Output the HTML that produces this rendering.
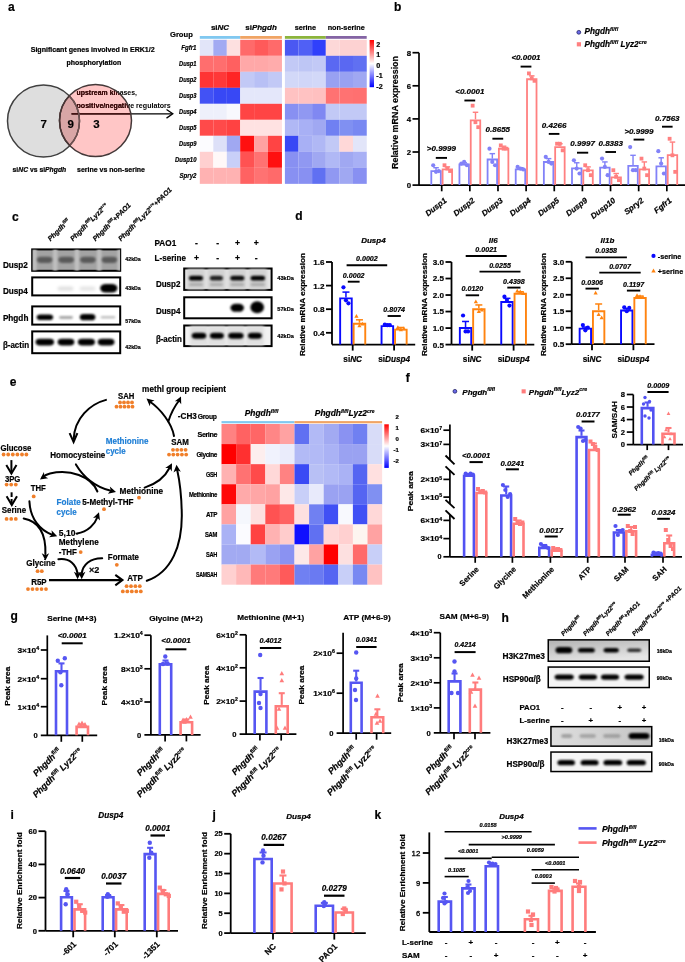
<!DOCTYPE html>
<html><head><meta charset="utf-8"><style>
html,body{margin:0;padding:0;background:#fff;}
svg{display:block;font-family:"Liberation Sans", sans-serif;filter:blur(0.35px);}

</style></head><body>
<svg width="685" height="962" viewBox="0 0 685 962">
<rect width="685" height="962" fill="#fff"/>
<defs><filter id="bl3" x="-50%" y="-50%" width="200%" height="200%"><feGaussianBlur stdDeviation="0.3"/></filter><filter id="bl4" x="-50%" y="-50%" width="200%" height="200%"><feGaussianBlur stdDeviation="0.4"/></filter><filter id="bl5" x="-50%" y="-50%" width="200%" height="200%"><feGaussianBlur stdDeviation="0.5"/></filter><filter id="bl6" x="-50%" y="-50%" width="200%" height="200%"><feGaussianBlur stdDeviation="0.6"/></filter><filter id="bl7" x="-50%" y="-50%" width="200%" height="200%"><feGaussianBlur stdDeviation="0.7"/></filter><filter id="bl8" x="-50%" y="-50%" width="200%" height="200%"><feGaussianBlur stdDeviation="0.8"/></filter><filter id="bl9" x="-50%" y="-50%" width="200%" height="200%"><feGaussianBlur stdDeviation="0.9"/></filter><filter id="bl10" x="-50%" y="-50%" width="200%" height="200%"><feGaussianBlur stdDeviation="1.0"/></filter><filter id="bl11" x="-50%" y="-50%" width="200%" height="200%"><feGaussianBlur stdDeviation="1.1"/></filter><filter id="bl12" x="-50%" y="-50%" width="200%" height="200%"><feGaussianBlur stdDeviation="1.2"/></filter><filter id="bl13" x="-50%" y="-50%" width="200%" height="200%"><feGaussianBlur stdDeviation="1.3"/></filter><filter id="bl14" x="-50%" y="-50%" width="200%" height="200%"><feGaussianBlur stdDeviation="1.4"/></filter><filter id="bl15" x="-50%" y="-50%" width="200%" height="200%"><feGaussianBlur stdDeviation="1.5"/></filter><filter id="bl16" x="-50%" y="-50%" width="200%" height="200%"><feGaussianBlur stdDeviation="1.6"/></filter><filter id="bl17" x="-50%" y="-50%" width="200%" height="200%"><feGaussianBlur stdDeviation="1.7"/></filter><filter id="bl18" x="-50%" y="-50%" width="200%" height="200%"><feGaussianBlur stdDeviation="1.8"/></filter><filter id="bl19" x="-50%" y="-50%" width="200%" height="200%"><feGaussianBlur stdDeviation="1.9"/></filter><filter id="bl20" x="-50%" y="-50%" width="200%" height="200%"><feGaussianBlur stdDeviation="2.0"/></filter><filter id="bl21" x="-50%" y="-50%" width="200%" height="200%"><feGaussianBlur stdDeviation="2.1"/></filter><filter id="bl22" x="-50%" y="-50%" width="200%" height="200%"><feGaussianBlur stdDeviation="2.2"/></filter><filter id="bl23" x="-50%" y="-50%" width="200%" height="200%"><feGaussianBlur stdDeviation="2.3"/></filter><filter id="bl24" x="-50%" y="-50%" width="200%" height="200%"><feGaussianBlur stdDeviation="2.4"/></filter><filter id="bl25" x="-50%" y="-50%" width="200%" height="200%"><feGaussianBlur stdDeviation="2.5"/></filter><filter id="bl26" x="-50%" y="-50%" width="200%" height="200%"><feGaussianBlur stdDeviation="2.6"/></filter><filter id="bl27" x="-50%" y="-50%" width="200%" height="200%"><feGaussianBlur stdDeviation="2.7"/></filter><filter id="bl28" x="-50%" y="-50%" width="200%" height="200%"><feGaussianBlur stdDeviation="2.8"/></filter><filter id="bl29" x="-50%" y="-50%" width="200%" height="200%"><feGaussianBlur stdDeviation="2.9"/></filter><filter id="bl30" x="-50%" y="-50%" width="200%" height="200%"><feGaussianBlur stdDeviation="3.0"/></filter><filter id="bl31" x="-50%" y="-50%" width="200%" height="200%"><feGaussianBlur stdDeviation="3.1"/></filter><filter id="bl32" x="-50%" y="-50%" width="200%" height="200%"><feGaussianBlur stdDeviation="3.2"/></filter><filter id="bl33" x="-50%" y="-50%" width="200%" height="200%"><feGaussianBlur stdDeviation="3.3"/></filter><filter id="bl34" x="-50%" y="-50%" width="200%" height="200%"><feGaussianBlur stdDeviation="3.4"/></filter><filter id="bl35" x="-50%" y="-50%" width="200%" height="200%"><feGaussianBlur stdDeviation="3.5"/></filter><filter id="bl36" x="-50%" y="-50%" width="200%" height="200%"><feGaussianBlur stdDeviation="3.6"/></filter><filter id="bl37" x="-50%" y="-50%" width="200%" height="200%"><feGaussianBlur stdDeviation="3.7"/></filter><filter id="bl38" x="-50%" y="-50%" width="200%" height="200%"><feGaussianBlur stdDeviation="3.8"/></filter><filter id="bl39" x="-50%" y="-50%" width="200%" height="200%"><feGaussianBlur stdDeviation="3.9"/></filter></defs>
<text x="8.00" y="11.00" font-size="12" font-weight="bold" text-anchor="start" fill="#000" stroke="#000" stroke-width="0.2">a</text>
<text x="92.70" y="52.00" font-size="6.6" font-weight="bold" text-anchor="middle" fill="#000" textLength="124.00" lengthAdjust="spacingAndGlyphs" stroke="#000" stroke-width="0.2">Significant genes involved in ERK1/2</text>
<text x="93.90" y="65.20" font-size="6.6" font-weight="bold" text-anchor="middle" fill="#000" textLength="54.60" lengthAdjust="spacingAndGlyphs" stroke="#000" stroke-width="0.2">phosphorylation</text>
<defs><clipPath id="vL"><circle cx="43.5" cy="121" r="36"/></clipPath><clipPath id="vR"><circle cx="95.5" cy="120.5" r="36"/></clipPath></defs>
<circle cx="43.50" cy="121.00" r="36.00" fill="#dedede"/>
<circle cx="95.50" cy="120.50" r="36.00" fill="#ffc6c6"/>
<circle cx="95.50" cy="120.50" r="36.00" fill="#d9a6a6" clip-path="url(#vL)"/>
<line x1="71.50" y1="113.80" x2="172.00" y2="113.80" stroke="#000" stroke-width="1.3" stroke-linecap="butt"/>
<path d="M166.5 109.5 L172.8 113.8 L166.5 118.1" fill="none" stroke="#000" stroke-width="1.3"/>
<text x="76.50" y="95.20" font-size="6.6" font-weight="bold" text-anchor="start" fill="#000" textLength="60.50" lengthAdjust="spacingAndGlyphs" stroke="none">upstream kinases,</text>
<text x="76.50" y="108.00" font-size="6.6" font-weight="bold" text-anchor="start" fill="#000" textLength="94.30" lengthAdjust="spacingAndGlyphs" stroke="none">positive/negative regulators</text>
<g clip-path="url(#vR)">
<line x1="71.50" y1="113.80" x2="172.00" y2="113.80" stroke="#4a0c0c" stroke-width="1.3" stroke-linecap="butt"/>
<path d="M166.5 109.5 L172.8 113.8 L166.5 118.1" fill="none" stroke="#4a0c0c" stroke-width="1.3"/>
<text x="76.50" y="95.20" font-size="6.6" font-weight="bold" text-anchor="start" fill="#4a0c0c" textLength="60.50" lengthAdjust="spacingAndGlyphs" stroke="none">upstream kinases,</text>
<text x="76.50" y="108.00" font-size="6.6" font-weight="bold" text-anchor="start" fill="#4a0c0c" textLength="94.30" lengthAdjust="spacingAndGlyphs" stroke="none">positive/negative regulators</text>
</g>
<circle cx="43.50" cy="121.00" r="36.00" fill="none" stroke="#404040" stroke-width="1.5"/>
<g clip-path="url(#vL)">
<circle cx="95.50" cy="120.50" r="36.00" fill="none" stroke="#501818" stroke-width="1.5"/>
</g>
<g clip-path="url(#vR)">
<circle cx="43.50" cy="121.00" r="36.00" fill="none" stroke="#705050" stroke-width="1.5"/>
</g>
<circle cx="95.50" cy="120.50" r="36.00" fill="none" stroke="#443838" stroke-width="1.5"/>
<text x="43.80" y="128.00" font-size="11.5" font-weight="bold" text-anchor="middle" fill="#000" stroke="#000" stroke-width="0.2">7</text>
<text x="70.70" y="128.00" font-size="11.5" font-weight="bold" text-anchor="middle" fill="#000" stroke="#000" stroke-width="0.2">9</text>
<text x="96.40" y="128.00" font-size="11.5" font-weight="bold" text-anchor="middle" fill="#000" stroke="#000" stroke-width="0.2">3</text>
<text x="39.4" y="171.8" font-size="6.8" font-weight="bold" text-anchor="middle" stroke="#000" stroke-width="0.2">si<tspan font-style="italic">NC</tspan> vs si<tspan font-style="italic">Phgdh</tspan></text>
<text x="111.00" y="171.80" font-size="6.8" font-weight="bold" text-anchor="middle" fill="#000" textLength="68.00" lengthAdjust="spacingAndGlyphs" stroke="#000" stroke-width="0.2">serine vs non-serine</text>
<rect x="199.80" y="39.80" width="13.55" height="16.05" fill="#e2e5f9"/>
<rect x="213.30" y="39.80" width="13.55" height="16.05" fill="#a2aaf2"/>
<rect x="226.80" y="39.80" width="13.45" height="16.05" fill="#fde0e0"/>
<rect x="240.20" y="39.80" width="13.95" height="16.05" fill="#ff6a6a"/>
<rect x="254.10" y="39.80" width="13.95" height="16.05" fill="#ff5a5a"/>
<rect x="268.00" y="39.80" width="13.95" height="16.05" fill="#ff6a6a"/>
<rect x="284.90" y="39.80" width="13.65" height="16.05" fill="#4a58f2"/>
<rect x="298.50" y="39.80" width="13.65" height="16.05" fill="#5060f5"/>
<rect x="312.10" y="39.80" width="13.75" height="16.05" fill="#3040fb"/>
<rect x="325.80" y="39.80" width="13.65" height="16.05" fill="#fdd8d8"/>
<rect x="339.40" y="39.80" width="13.65" height="16.05" fill="#fdd2d2"/>
<rect x="353.00" y="39.80" width="13.75" height="16.05" fill="#fdd2d2"/>
<rect x="199.80" y="55.80" width="13.55" height="16.05" fill="#ff6e6e"/>
<rect x="213.30" y="55.80" width="13.55" height="16.05" fill="#ff6e6e"/>
<rect x="226.80" y="55.80" width="13.45" height="16.05" fill="#ff6060"/>
<rect x="240.20" y="55.80" width="13.95" height="16.05" fill="#ffa8a8"/>
<rect x="254.10" y="55.80" width="13.95" height="16.05" fill="#ffa8a8"/>
<rect x="268.00" y="55.80" width="13.95" height="16.05" fill="#ffacac"/>
<rect x="284.90" y="55.80" width="13.65" height="16.05" fill="#c2c9f6"/>
<rect x="298.50" y="55.80" width="13.65" height="16.05" fill="#bec6f5"/>
<rect x="312.10" y="55.80" width="13.75" height="16.05" fill="#c2c9f6"/>
<rect x="325.80" y="55.80" width="13.65" height="16.05" fill="#5a68f2"/>
<rect x="339.40" y="55.80" width="13.65" height="16.05" fill="#5a68f2"/>
<rect x="353.00" y="55.80" width="13.75" height="16.05" fill="#6070f2"/>
<rect x="199.80" y="71.80" width="13.55" height="16.05" fill="#ff3434"/>
<rect x="213.30" y="71.80" width="13.55" height="16.05" fill="#ff3838"/>
<rect x="226.80" y="71.80" width="13.45" height="16.05" fill="#ff2424"/>
<rect x="240.20" y="71.80" width="13.95" height="16.05" fill="#c2c9f6"/>
<rect x="254.10" y="71.80" width="13.95" height="16.05" fill="#b8c0f5"/>
<rect x="268.00" y="71.80" width="13.95" height="16.05" fill="#c2c9f6"/>
<rect x="284.90" y="71.80" width="13.65" height="16.05" fill="#d2d8f8"/>
<rect x="298.50" y="71.80" width="13.65" height="16.05" fill="#d0d6f8"/>
<rect x="312.10" y="71.80" width="13.75" height="16.05" fill="#d2d8f8"/>
<rect x="325.80" y="71.80" width="13.65" height="16.05" fill="#98a1f2"/>
<rect x="339.40" y="71.80" width="13.65" height="16.05" fill="#98a1f2"/>
<rect x="353.00" y="71.80" width="13.75" height="16.05" fill="#a0a8f2"/>
<rect x="199.80" y="87.80" width="13.55" height="16.05" fill="#4252f5"/>
<rect x="213.30" y="87.80" width="13.55" height="16.05" fill="#3848f5"/>
<rect x="226.80" y="87.80" width="13.45" height="16.05" fill="#3848f5"/>
<rect x="240.20" y="87.80" width="13.95" height="16.05" fill="#e4e7fa"/>
<rect x="254.10" y="87.80" width="13.95" height="16.05" fill="#e4e7fa"/>
<rect x="268.00" y="87.80" width="13.95" height="16.05" fill="#e4e7fa"/>
<rect x="284.90" y="87.80" width="13.65" height="16.05" fill="#ffc2c2"/>
<rect x="298.50" y="87.80" width="13.65" height="16.05" fill="#ffc2c2"/>
<rect x="312.10" y="87.80" width="13.75" height="16.05" fill="#ffc0c0"/>
<rect x="325.80" y="87.80" width="13.65" height="16.05" fill="#ff7272"/>
<rect x="339.40" y="87.80" width="13.65" height="16.05" fill="#ff7272"/>
<rect x="353.00" y="87.80" width="13.75" height="16.05" fill="#ff7070"/>
<rect x="199.80" y="103.80" width="13.55" height="16.05" fill="#eef0fb"/>
<rect x="213.30" y="103.80" width="13.55" height="16.05" fill="#eef0fb"/>
<rect x="226.80" y="103.80" width="13.45" height="16.05" fill="#f8f8fd"/>
<rect x="240.20" y="103.80" width="13.95" height="16.05" fill="#ff4444"/>
<rect x="254.10" y="103.80" width="13.95" height="16.05" fill="#ff4444"/>
<rect x="268.00" y="103.80" width="13.95" height="16.05" fill="#ff4444"/>
<rect x="284.90" y="103.80" width="13.65" height="16.05" fill="#8890f2"/>
<rect x="298.50" y="103.80" width="13.65" height="16.05" fill="#9098f2"/>
<rect x="312.10" y="103.80" width="13.75" height="16.05" fill="#8088f2"/>
<rect x="325.80" y="103.80" width="13.65" height="16.05" fill="#c2c9f6"/>
<rect x="339.40" y="103.80" width="13.65" height="16.05" fill="#c2c9f6"/>
<rect x="353.00" y="103.80" width="13.75" height="16.05" fill="#c2c9f6"/>
<rect x="199.80" y="119.80" width="13.55" height="16.05" fill="#ff4a4a"/>
<rect x="213.30" y="119.80" width="13.55" height="16.05" fill="#ff4a4a"/>
<rect x="226.80" y="119.80" width="13.45" height="16.05" fill="#ff4242"/>
<rect x="240.20" y="119.80" width="13.95" height="16.05" fill="#ffe2e2"/>
<rect x="254.10" y="119.80" width="13.95" height="16.05" fill="#ffe2e2"/>
<rect x="268.00" y="119.80" width="13.95" height="16.05" fill="#ffe2e2"/>
<rect x="284.90" y="119.80" width="13.65" height="16.05" fill="#b0b8f5"/>
<rect x="298.50" y="119.80" width="13.65" height="16.05" fill="#a8b0f5"/>
<rect x="312.10" y="119.80" width="13.75" height="16.05" fill="#a0a8f2"/>
<rect x="325.80" y="119.80" width="13.65" height="16.05" fill="#7080f2"/>
<rect x="339.40" y="119.80" width="13.65" height="16.05" fill="#8090f2"/>
<rect x="353.00" y="119.80" width="13.75" height="16.05" fill="#7888f2"/>
<rect x="199.80" y="135.80" width="13.55" height="16.05" fill="#fcfcff"/>
<rect x="213.30" y="135.80" width="13.55" height="16.05" fill="#dde0f8"/>
<rect x="226.80" y="135.80" width="13.45" height="16.05" fill="#a0a8f2"/>
<rect x="240.20" y="135.80" width="13.95" height="16.05" fill="#ff1010"/>
<rect x="254.10" y="135.80" width="13.95" height="16.05" fill="#ffa2a2"/>
<rect x="268.00" y="135.80" width="13.95" height="16.05" fill="#ff4444"/>
<rect x="284.90" y="135.80" width="13.65" height="16.05" fill="#3848f5"/>
<rect x="298.50" y="135.80" width="13.65" height="16.05" fill="#a8b0f5"/>
<rect x="312.10" y="135.80" width="13.75" height="16.05" fill="#b0b8f5"/>
<rect x="325.80" y="135.80" width="13.65" height="16.05" fill="#c2c9f6"/>
<rect x="339.40" y="135.80" width="13.65" height="16.05" fill="#ffd8d8"/>
<rect x="353.00" y="135.80" width="13.75" height="16.05" fill="#e2e5f9"/>
<rect x="199.80" y="151.80" width="13.55" height="16.05" fill="#ffd0d0"/>
<rect x="213.30" y="151.80" width="13.55" height="16.05" fill="#fff8f8"/>
<rect x="226.80" y="151.80" width="13.45" height="16.05" fill="#c8cff8"/>
<rect x="240.20" y="151.80" width="13.95" height="16.05" fill="#ff5252"/>
<rect x="254.10" y="151.80" width="13.95" height="16.05" fill="#ff7272"/>
<rect x="268.00" y="151.80" width="13.95" height="16.05" fill="#ff1010"/>
<rect x="284.90" y="151.80" width="13.65" height="16.05" fill="#8890f2"/>
<rect x="298.50" y="151.80" width="13.65" height="16.05" fill="#9098f2"/>
<rect x="312.10" y="151.80" width="13.75" height="16.05" fill="#a0a8f2"/>
<rect x="325.80" y="151.80" width="13.65" height="16.05" fill="#b0b8f5"/>
<rect x="339.40" y="151.80" width="13.65" height="16.05" fill="#a0a8f2"/>
<rect x="353.00" y="151.80" width="13.75" height="16.05" fill="#a8b0f5"/>
<rect x="199.80" y="167.80" width="13.55" height="16.05" fill="#ffb2b2"/>
<rect x="213.30" y="167.80" width="13.55" height="16.05" fill="#ffb2b2"/>
<rect x="226.80" y="167.80" width="13.45" height="16.05" fill="#ffb2b2"/>
<rect x="240.20" y="167.80" width="13.95" height="16.05" fill="#ff6262"/>
<rect x="254.10" y="167.80" width="13.95" height="16.05" fill="#ff7272"/>
<rect x="268.00" y="167.80" width="13.95" height="16.05" fill="#ff6a6a"/>
<rect x="284.90" y="167.80" width="13.65" height="16.05" fill="#8890f2"/>
<rect x="298.50" y="167.80" width="13.65" height="16.05" fill="#8890f2"/>
<rect x="312.10" y="167.80" width="13.75" height="16.05" fill="#6070f2"/>
<rect x="325.80" y="167.80" width="13.65" height="16.05" fill="#9098f2"/>
<rect x="339.40" y="167.80" width="13.65" height="16.05" fill="#a0a8f2"/>
<rect x="353.00" y="167.80" width="13.75" height="16.05" fill="#8890f2"/>
<rect x="199.80" y="36.00" width="40.40" height="2.80" fill="#80c8f0"/>
<rect x="240.20" y="36.00" width="41.70" height="2.80" fill="#f0a464"/>
<rect x="284.90" y="36.00" width="40.90" height="2.80" fill="#8cb43c"/>
<rect x="325.80" y="36.00" width="40.90" height="2.80" fill="#8464a4"/>
<text x="220" y="29.5" font-size="8" font-weight="bold" text-anchor="middle" stroke="#000" stroke-width="0.2">si<tspan font-style="italic">NC</tspan></text>
<text x="261" y="29.5" font-size="8" font-weight="bold" text-anchor="middle" stroke="#000" stroke-width="0.2">si<tspan font-style="italic">Phgdh</tspan></text>
<text x="305.40" y="30.30" font-size="7.6" font-weight="bold" text-anchor="middle" fill="#000" textLength="21.50" lengthAdjust="spacingAndGlyphs" stroke="#000" stroke-width="0.2">serine</text>
<text x="346.20" y="29.60" font-size="7.6" font-weight="bold" text-anchor="middle" fill="#000" textLength="37.00" lengthAdjust="spacingAndGlyphs" stroke="#000" stroke-width="0.2">non-serine</text>
<text x="170.00" y="37.20" font-size="7.6" font-weight="bold" text-anchor="start" fill="#000" stroke="#000" stroke-width="0.2">Group</text>
<text x="196.50" y="50.20" font-size="6.8" font-weight="bold" font-style="italic" text-anchor="end" fill="#000" textLength="15.20" lengthAdjust="spacingAndGlyphs" stroke="#000" stroke-width="0.2">Fgfr1</text>
<text x="196.50" y="66.20" font-size="6.8" font-weight="bold" font-style="italic" text-anchor="end" fill="#000" textLength="17.50" lengthAdjust="spacingAndGlyphs" stroke="#000" stroke-width="0.2">Dusp1</text>
<text x="196.50" y="82.20" font-size="6.8" font-weight="bold" font-style="italic" text-anchor="end" fill="#000" textLength="17.50" lengthAdjust="spacingAndGlyphs" stroke="#000" stroke-width="0.2">Dusp2</text>
<text x="196.50" y="98.20" font-size="6.8" font-weight="bold" font-style="italic" text-anchor="end" fill="#000" textLength="17.50" lengthAdjust="spacingAndGlyphs" stroke="#000" stroke-width="0.2">Dusp3</text>
<text x="196.50" y="114.20" font-size="6.8" font-weight="bold" font-style="italic" text-anchor="end" fill="#000" textLength="17.50" lengthAdjust="spacingAndGlyphs" stroke="#000" stroke-width="0.2">Dusp4</text>
<text x="196.50" y="130.20" font-size="6.8" font-weight="bold" font-style="italic" text-anchor="end" fill="#000" textLength="17.50" lengthAdjust="spacingAndGlyphs" stroke="#000" stroke-width="0.2">Dusp5</text>
<text x="196.50" y="146.20" font-size="6.8" font-weight="bold" font-style="italic" text-anchor="end" fill="#000" textLength="17.50" lengthAdjust="spacingAndGlyphs" stroke="#000" stroke-width="0.2">Dusp9</text>
<text x="196.50" y="162.20" font-size="6.8" font-weight="bold" font-style="italic" text-anchor="end" fill="#000" textLength="21.50" lengthAdjust="spacingAndGlyphs" stroke="#000" stroke-width="0.2">Dusp10</text>
<text x="196.50" y="178.20" font-size="6.8" font-weight="bold" font-style="italic" text-anchor="end" fill="#000" textLength="17.00" lengthAdjust="spacingAndGlyphs" stroke="#000" stroke-width="0.2">Spry2</text>
<defs><linearGradient id="cbA" x1="0" y1="0" x2="0" y2="1"><stop offset="0" stop-color="#ff0000"/><stop offset="0.5" stop-color="#ffffff"/><stop offset="1" stop-color="#0000ff"/></linearGradient></defs>
<rect x="369.60" y="40.00" width="4.40" height="47.20" fill="url(#cbA)"/>
<text x="376.30" y="46.60" font-size="7.2" font-weight="bold" text-anchor="start" fill="#000" stroke="#000" stroke-width="0.2">2</text>
<text x="376.30" y="57.40" font-size="7.2" font-weight="bold" text-anchor="start" fill="#000" stroke="#000" stroke-width="0.2">1</text>
<text x="376.30" y="67.90" font-size="7.2" font-weight="bold" text-anchor="start" fill="#000" stroke="#000" stroke-width="0.2">0</text>
<text x="376.30" y="78.40" font-size="7.2" font-weight="bold" text-anchor="start" fill="#000" stroke="#000" stroke-width="0.2">-1</text>
<text x="376.30" y="88.90" font-size="7.2" font-weight="bold" text-anchor="start" fill="#000" stroke="#000" stroke-width="0.2">-2</text>
<text x="394.00" y="10.50" font-size="12" font-weight="bold" text-anchor="start" fill="#000" stroke="#000" stroke-width="0.2">b</text>
<circle cx="578.80" cy="32.30" r="1.90" fill="#6a6ae8" stroke="#222266" stroke-width="0.8"/>
<text x="584.6" y="34.4" font-size="8.2" font-weight="bold" font-style="italic" stroke="#000" stroke-width="0.2">Phgdh<tspan font-size="5.4" dy="-3.3">fl/fl</tspan></text>
<rect x="576.80" y="42.20" width="4.20" height="4.20" fill="#ff8080"/>
<text x="584.6" y="46.8" font-size="8.2" font-weight="bold" font-style="italic" stroke="#000" stroke-width="0.2">Phgdh<tspan font-size="5.4" dy="-3.3">fl/fl</tspan><tspan dy="3.3"> Lyz2</tspan><tspan font-size="5.4" dy="-3.3">cre</tspan></text>
<text x="398.30" y="112.50" font-size="8.2" font-weight="bold" text-anchor="middle" fill="#000" transform="rotate(-90 398.30 112.50)" textLength="113.00" lengthAdjust="spacingAndGlyphs" stroke="#000" stroke-width="0.2">Relative mRNA expression</text>
<line x1="419.00" y1="52.70" x2="419.00" y2="185.10" stroke="#000" stroke-width="1.7" stroke-linecap="butt"/>
<line x1="412.50" y1="185.10" x2="419.00" y2="185.10" stroke="#000" stroke-width="1.7" stroke-linecap="butt"/>
<text x="411.00" y="187.91" font-size="7.8" font-weight="bold" text-anchor="end" fill="#000" stroke="#000" stroke-width="0.2">0</text>
<line x1="412.50" y1="152.00" x2="419.00" y2="152.00" stroke="#000" stroke-width="1.7" stroke-linecap="butt"/>
<text x="411.00" y="154.81" font-size="7.8" font-weight="bold" text-anchor="end" fill="#000" stroke="#000" stroke-width="0.2">2</text>
<line x1="412.50" y1="118.90" x2="419.00" y2="118.90" stroke="#000" stroke-width="1.7" stroke-linecap="butt"/>
<text x="411.00" y="121.71" font-size="7.8" font-weight="bold" text-anchor="end" fill="#000" stroke="#000" stroke-width="0.2">4</text>
<line x1="412.50" y1="85.80" x2="419.00" y2="85.80" stroke="#000" stroke-width="1.7" stroke-linecap="butt"/>
<text x="411.00" y="88.61" font-size="7.8" font-weight="bold" text-anchor="end" fill="#000" stroke="#000" stroke-width="0.2">6</text>
<line x1="412.50" y1="52.70" x2="419.00" y2="52.70" stroke="#000" stroke-width="1.7" stroke-linecap="butt"/>
<text x="411.00" y="55.51" font-size="7.8" font-weight="bold" text-anchor="end" fill="#000" stroke="#000" stroke-width="0.2">8</text>
<line x1="419.00" y1="185.10" x2="685.00" y2="185.10" stroke="#000" stroke-width="1.7" stroke-linecap="butt"/>
<line x1="436.05" y1="170.20" x2="436.05" y2="167.72" stroke="#8282f8" stroke-width="1.4400000000000002" stroke-linecap="butt"/>
<line x1="433.30" y1="167.72" x2="438.80" y2="167.72" stroke="#8282f8" stroke-width="1.4400000000000002" stroke-linecap="butt"/>
<path d="M431.30 185.10 L431.30 171.10 L440.80 171.10 L440.80 185.10" fill="none" stroke="#8282f8" stroke-width="1.8" stroke-linejoin="miter"/>
<circle cx="433.20" cy="165.24" r="2.10" fill="#8282f8"/>
<circle cx="436.00" cy="171.86" r="2.10" fill="#8282f8"/>
<circle cx="438.80" cy="171.03" r="2.10" fill="#8282f8"/>
<line x1="447.35" y1="168.55" x2="447.35" y2="166.89" stroke="#ff8080" stroke-width="1.4400000000000002" stroke-linecap="butt"/>
<line x1="444.60" y1="166.89" x2="450.10" y2="166.89" stroke="#ff8080" stroke-width="1.4400000000000002" stroke-linecap="butt"/>
<path d="M442.60 185.10 L442.60 169.45 L452.10 169.45 L452.10 185.10" fill="none" stroke="#ff8080" stroke-width="1.8" stroke-linejoin="miter"/>
<rect x="442.60" y="163.34" width="3.80" height="3.80" fill="#ff8080"/>
<rect x="445.40" y="166.65" width="3.80" height="3.80" fill="#ff8080"/>
<rect x="448.20" y="169.13" width="3.80" height="3.80" fill="#ff8080"/>
<line x1="441.70" y1="185.10" x2="441.70" y2="191.30" stroke="#000" stroke-width="1.7" stroke-linecap="butt"/>
<text x="447.20" y="201.40" font-size="8.0" font-weight="bold" font-style="italic" text-anchor="end" fill="#000" transform="rotate(-38 447.20 201.40)" stroke="#000" stroke-width="0.2">Dusp1</text>
<line x1="464.19" y1="163.58" x2="464.19" y2="162.76" stroke="#8282f8" stroke-width="1.4400000000000002" stroke-linecap="butt"/>
<line x1="461.44" y1="162.76" x2="466.94" y2="162.76" stroke="#8282f8" stroke-width="1.4400000000000002" stroke-linecap="butt"/>
<path d="M459.44 185.10 L459.44 164.48 L468.94 164.48 L468.94 185.10" fill="none" stroke="#8282f8" stroke-width="1.8" stroke-linejoin="miter"/>
<circle cx="461.34" cy="163.58" r="2.10" fill="#8282f8"/>
<circle cx="464.14" cy="161.93" r="2.10" fill="#8282f8"/>
<circle cx="466.94" cy="165.24" r="2.10" fill="#8282f8"/>
<line x1="475.49" y1="119.40" x2="475.49" y2="112.28" stroke="#ff8080" stroke-width="1.4400000000000002" stroke-linecap="butt"/>
<line x1="472.74" y1="112.28" x2="478.24" y2="112.28" stroke="#ff8080" stroke-width="1.4400000000000002" stroke-linecap="butt"/>
<path d="M470.74 185.10 L470.74 120.30 L480.24 120.30 L480.24 185.10" fill="none" stroke="#ff8080" stroke-width="1.8" stroke-linejoin="miter"/>
<rect x="470.74" y="103.76" width="3.80" height="3.80" fill="#ff8080"/>
<rect x="473.54" y="120.31" width="3.80" height="3.80" fill="#ff8080"/>
<rect x="476.34" y="125.27" width="3.80" height="3.80" fill="#ff8080"/>
<line x1="469.84" y1="185.10" x2="469.84" y2="191.30" stroke="#000" stroke-width="1.7" stroke-linecap="butt"/>
<text x="475.34" y="201.40" font-size="8.0" font-weight="bold" font-style="italic" text-anchor="end" fill="#000" transform="rotate(-38 475.34 201.40)" stroke="#000" stroke-width="0.2">Dusp2</text>
<line x1="492.33" y1="158.62" x2="492.33" y2="153.66" stroke="#8282f8" stroke-width="1.4400000000000002" stroke-linecap="butt"/>
<line x1="489.58" y1="153.66" x2="495.08" y2="153.66" stroke="#8282f8" stroke-width="1.4400000000000002" stroke-linecap="butt"/>
<path d="M487.58 185.10 L487.58 159.52 L497.08 159.52 L497.08 185.10" fill="none" stroke="#8282f8" stroke-width="1.8" stroke-linejoin="miter"/>
<circle cx="489.48" cy="148.69" r="2.10" fill="#8282f8"/>
<circle cx="492.28" cy="161.93" r="2.10" fill="#8282f8"/>
<circle cx="495.08" cy="165.24" r="2.10" fill="#8282f8"/>
<line x1="503.63" y1="147.86" x2="503.63" y2="146.21" stroke="#ff8080" stroke-width="1.4400000000000002" stroke-linecap="butt"/>
<line x1="500.88" y1="146.21" x2="506.38" y2="146.21" stroke="#ff8080" stroke-width="1.4400000000000002" stroke-linecap="butt"/>
<path d="M498.88 185.10 L498.88 148.76 L508.38 148.76 L508.38 185.10" fill="none" stroke="#ff8080" stroke-width="1.8" stroke-linejoin="miter"/>
<rect x="498.88" y="143.48" width="3.80" height="3.80" fill="#ff8080"/>
<rect x="501.68" y="146.79" width="3.80" height="3.80" fill="#ff8080"/>
<rect x="504.48" y="146.79" width="3.80" height="3.80" fill="#ff8080"/>
<line x1="497.98" y1="185.10" x2="497.98" y2="191.30" stroke="#000" stroke-width="1.7" stroke-linecap="butt"/>
<text x="503.48" y="201.40" font-size="8.0" font-weight="bold" font-style="italic" text-anchor="end" fill="#000" transform="rotate(-38 503.48 201.40)" stroke="#000" stroke-width="0.2">Dusp3</text>
<line x1="520.47" y1="168.55" x2="520.47" y2="167.72" stroke="#8282f8" stroke-width="1.4400000000000002" stroke-linecap="butt"/>
<line x1="517.72" y1="167.72" x2="523.22" y2="167.72" stroke="#8282f8" stroke-width="1.4400000000000002" stroke-linecap="butt"/>
<path d="M515.72 185.10 L515.72 169.45 L525.22 169.45 L525.22 185.10" fill="none" stroke="#8282f8" stroke-width="1.8" stroke-linejoin="miter"/>
<circle cx="517.62" cy="166.89" r="2.10" fill="#8282f8"/>
<circle cx="520.42" cy="168.55" r="2.10" fill="#8282f8"/>
<circle cx="523.22" cy="169.38" r="2.10" fill="#8282f8"/>
<line x1="531.77" y1="78.35" x2="531.77" y2="75.87" stroke="#ff8080" stroke-width="1.4400000000000002" stroke-linecap="butt"/>
<line x1="529.02" y1="75.87" x2="534.52" y2="75.87" stroke="#ff8080" stroke-width="1.4400000000000002" stroke-linecap="butt"/>
<path d="M527.02 185.10 L527.02 79.25 L536.52 79.25 L536.52 185.10" fill="none" stroke="#ff8080" stroke-width="1.8" stroke-linejoin="miter"/>
<rect x="527.02" y="71.49" width="3.80" height="3.80" fill="#ff8080"/>
<rect x="529.82" y="76.45" width="3.80" height="3.80" fill="#ff8080"/>
<rect x="532.62" y="78.93" width="3.80" height="3.80" fill="#ff8080"/>
<line x1="526.12" y1="185.10" x2="526.12" y2="191.30" stroke="#000" stroke-width="1.7" stroke-linecap="butt"/>
<text x="531.62" y="201.40" font-size="8.0" font-weight="bold" font-style="italic" text-anchor="end" fill="#000" transform="rotate(-38 531.62 201.40)" stroke="#000" stroke-width="0.2">Dusp4</text>
<line x1="548.61" y1="161.10" x2="548.61" y2="158.62" stroke="#8282f8" stroke-width="1.4400000000000002" stroke-linecap="butt"/>
<line x1="545.86" y1="158.62" x2="551.36" y2="158.62" stroke="#8282f8" stroke-width="1.4400000000000002" stroke-linecap="butt"/>
<path d="M543.86 185.10 L543.86 162.00 L553.36 162.00 L553.36 185.10" fill="none" stroke="#8282f8" stroke-width="1.8" stroke-linejoin="miter"/>
<circle cx="545.76" cy="156.97" r="2.10" fill="#8282f8"/>
<circle cx="548.56" cy="161.93" r="2.10" fill="#8282f8"/>
<circle cx="551.36" cy="163.58" r="2.10" fill="#8282f8"/>
<line x1="559.91" y1="146.21" x2="559.91" y2="143.72" stroke="#ff8080" stroke-width="1.4400000000000002" stroke-linecap="butt"/>
<line x1="557.16" y1="143.72" x2="562.66" y2="143.72" stroke="#ff8080" stroke-width="1.4400000000000002" stroke-linecap="butt"/>
<path d="M555.16 185.10 L555.16 147.11 L564.66 147.11 L564.66 185.10" fill="none" stroke="#ff8080" stroke-width="1.8" stroke-linejoin="miter"/>
<rect x="555.16" y="141.82" width="3.80" height="3.80" fill="#ff8080"/>
<rect x="557.96" y="141.82" width="3.80" height="3.80" fill="#ff8080"/>
<rect x="560.76" y="148.44" width="3.80" height="3.80" fill="#ff8080"/>
<line x1="554.26" y1="185.10" x2="554.26" y2="191.30" stroke="#000" stroke-width="1.7" stroke-linecap="butt"/>
<text x="559.76" y="201.40" font-size="8.0" font-weight="bold" font-style="italic" text-anchor="end" fill="#000" transform="rotate(-38 559.76 201.40)" stroke="#000" stroke-width="0.2">Dusp5</text>
<line x1="576.75" y1="167.39" x2="576.75" y2="162.76" stroke="#8282f8" stroke-width="1.4400000000000002" stroke-linecap="butt"/>
<line x1="574.00" y1="162.76" x2="579.50" y2="162.76" stroke="#8282f8" stroke-width="1.4400000000000002" stroke-linecap="butt"/>
<path d="M572.00 185.10 L572.00 168.29 L581.50 168.29 L581.50 185.10" fill="none" stroke="#8282f8" stroke-width="1.8" stroke-linejoin="miter"/>
<circle cx="573.90" cy="160.27" r="2.10" fill="#8282f8"/>
<circle cx="576.70" cy="168.55" r="2.10" fill="#8282f8"/>
<circle cx="579.50" cy="173.51" r="2.10" fill="#8282f8"/>
<line x1="588.05" y1="169.38" x2="588.05" y2="166.89" stroke="#ff8080" stroke-width="1.4400000000000002" stroke-linecap="butt"/>
<line x1="585.30" y1="166.89" x2="590.80" y2="166.89" stroke="#ff8080" stroke-width="1.4400000000000002" stroke-linecap="butt"/>
<path d="M583.30 185.10 L583.30 170.28 L592.80 170.28 L592.80 185.10" fill="none" stroke="#ff8080" stroke-width="1.8" stroke-linejoin="miter"/>
<rect x="583.30" y="163.34" width="3.80" height="3.80" fill="#ff8080"/>
<rect x="586.10" y="168.30" width="3.80" height="3.80" fill="#ff8080"/>
<rect x="588.90" y="173.27" width="3.80" height="3.80" fill="#ff8080"/>
<line x1="582.40" y1="185.10" x2="582.40" y2="191.30" stroke="#000" stroke-width="1.7" stroke-linecap="butt"/>
<text x="587.90" y="201.40" font-size="8.0" font-weight="bold" font-style="italic" text-anchor="end" fill="#000" transform="rotate(-38 587.90 201.40)" stroke="#000" stroke-width="0.2">Dusp9</text>
<line x1="604.89" y1="166.73" x2="604.89" y2="161.93" stroke="#8282f8" stroke-width="1.4400000000000002" stroke-linecap="butt"/>
<line x1="602.14" y1="161.93" x2="607.64" y2="161.93" stroke="#8282f8" stroke-width="1.4400000000000002" stroke-linecap="butt"/>
<path d="M600.14 185.10 L600.14 167.63 L609.64 167.63 L609.64 185.10" fill="none" stroke="#8282f8" stroke-width="1.8" stroke-linejoin="miter"/>
<circle cx="602.04" cy="158.62" r="2.10" fill="#8282f8"/>
<circle cx="604.84" cy="166.89" r="2.10" fill="#8282f8"/>
<circle cx="607.64" cy="175.17" r="2.10" fill="#8282f8"/>
<line x1="616.19" y1="176.49" x2="616.19" y2="173.51" stroke="#ff8080" stroke-width="1.4400000000000002" stroke-linecap="butt"/>
<line x1="613.44" y1="173.51" x2="618.94" y2="173.51" stroke="#ff8080" stroke-width="1.4400000000000002" stroke-linecap="butt"/>
<path d="M611.44 185.10 L611.44 177.39 L620.94 177.39 L620.94 185.10" fill="none" stroke="#ff8080" stroke-width="1.8" stroke-linejoin="miter"/>
<rect x="611.44" y="168.30" width="3.80" height="3.80" fill="#ff8080"/>
<rect x="614.24" y="174.92" width="3.80" height="3.80" fill="#ff8080"/>
<rect x="617.04" y="178.23" width="3.80" height="3.80" fill="#ff8080"/>
<line x1="610.54" y1="185.10" x2="610.54" y2="191.30" stroke="#000" stroke-width="1.7" stroke-linecap="butt"/>
<text x="616.04" y="201.40" font-size="8.0" font-weight="bold" font-style="italic" text-anchor="end" fill="#000" transform="rotate(-38 616.04 201.40)" stroke="#000" stroke-width="0.2">Dusp10</text>
<line x1="633.03" y1="164.91" x2="633.03" y2="155.31" stroke="#8282f8" stroke-width="1.4400000000000002" stroke-linecap="butt"/>
<line x1="630.28" y1="155.31" x2="635.78" y2="155.31" stroke="#8282f8" stroke-width="1.4400000000000002" stroke-linecap="butt"/>
<path d="M628.28 185.10 L628.28 165.81 L637.78 165.81 L637.78 185.10" fill="none" stroke="#8282f8" stroke-width="1.8" stroke-linejoin="miter"/>
<circle cx="630.18" cy="147.03" r="2.10" fill="#8282f8"/>
<circle cx="632.98" cy="170.20" r="2.10" fill="#8282f8"/>
<circle cx="635.78" cy="170.20" r="2.10" fill="#8282f8"/>
<line x1="644.33" y1="168.55" x2="644.33" y2="161.93" stroke="#ff8080" stroke-width="1.4400000000000002" stroke-linecap="butt"/>
<line x1="641.58" y1="161.93" x2="647.08" y2="161.93" stroke="#ff8080" stroke-width="1.4400000000000002" stroke-linecap="butt"/>
<path d="M639.58 185.10 L639.58 169.45 L649.08 169.45 L649.08 185.10" fill="none" stroke="#ff8080" stroke-width="1.8" stroke-linejoin="miter"/>
<rect x="639.58" y="156.72" width="3.80" height="3.80" fill="#ff8080"/>
<rect x="642.38" y="166.65" width="3.80" height="3.80" fill="#ff8080"/>
<rect x="645.18" y="173.27" width="3.80" height="3.80" fill="#ff8080"/>
<line x1="638.68" y1="185.10" x2="638.68" y2="191.30" stroke="#000" stroke-width="1.7" stroke-linecap="butt"/>
<text x="644.18" y="201.40" font-size="8.0" font-weight="bold" font-style="italic" text-anchor="end" fill="#000" transform="rotate(-38 644.18 201.40)" stroke="#000" stroke-width="0.2">Spry2</text>
<line x1="661.17" y1="165.57" x2="661.17" y2="157.79" stroke="#8282f8" stroke-width="1.4400000000000002" stroke-linecap="butt"/>
<line x1="658.42" y1="157.79" x2="663.92" y2="157.79" stroke="#8282f8" stroke-width="1.4400000000000002" stroke-linecap="butt"/>
<path d="M656.42 185.10 L656.42 166.47 L665.92 166.47 L665.92 185.10" fill="none" stroke="#8282f8" stroke-width="1.8" stroke-linejoin="miter"/>
<circle cx="658.32" cy="151.17" r="2.10" fill="#8282f8"/>
<circle cx="661.12" cy="163.58" r="2.10" fill="#8282f8"/>
<circle cx="663.92" cy="173.51" r="2.10" fill="#8282f8"/>
<line x1="672.47" y1="154.32" x2="672.47" y2="142.07" stroke="#ff8080" stroke-width="1.4400000000000002" stroke-linecap="butt"/>
<line x1="669.72" y1="142.07" x2="675.22" y2="142.07" stroke="#ff8080" stroke-width="1.4400000000000002" stroke-linecap="butt"/>
<path d="M667.72 185.10 L667.72 155.22 L677.22 155.22 L677.22 185.10" fill="none" stroke="#ff8080" stroke-width="1.8" stroke-linejoin="miter"/>
<rect x="667.72" y="136.86" width="3.80" height="3.80" fill="#ff8080"/>
<rect x="670.52" y="153.41" width="3.80" height="3.80" fill="#ff8080"/>
<rect x="673.32" y="169.96" width="3.80" height="3.80" fill="#ff8080"/>
<line x1="666.82" y1="185.10" x2="666.82" y2="191.30" stroke="#000" stroke-width="1.7" stroke-linecap="butt"/>
<text x="672.32" y="201.40" font-size="8.0" font-weight="bold" font-style="italic" text-anchor="end" fill="#000" transform="rotate(-38 672.32 201.40)" stroke="#000" stroke-width="0.2">Fgfr1</text>
<line x1="435.80" y1="157.90" x2="447.00" y2="157.90" stroke="#000" stroke-width="1.9" stroke-linecap="butt"/>
<text x="441.40" y="151.10" font-size="8" font-weight="bold" font-style="italic" text-anchor="middle" fill="#000" stroke="#000" stroke-width="0.2">&gt;0.9999</text>
<line x1="464.40" y1="100.50" x2="475.20" y2="100.50" stroke="#000" stroke-width="1.9" stroke-linecap="butt"/>
<text x="469.80" y="93.90" font-size="8" font-weight="bold" font-style="italic" text-anchor="middle" fill="#000" stroke="#000" stroke-width="0.2">&lt;0.0001</text>
<line x1="492.40" y1="138.70" x2="503.20" y2="138.70" stroke="#000" stroke-width="1.9" stroke-linecap="butt"/>
<text x="497.80" y="131.70" font-size="8" font-weight="bold" font-style="italic" text-anchor="middle" fill="#000" stroke="#000" stroke-width="0.2">0.8655</text>
<line x1="520.60" y1="66.60" x2="531.40" y2="66.60" stroke="#000" stroke-width="1.9" stroke-linecap="butt"/>
<text x="526.00" y="60.20" font-size="8" font-weight="bold" font-style="italic" text-anchor="middle" fill="#000" stroke="#000" stroke-width="0.2">&lt;0.0001</text>
<line x1="548.80" y1="133.90" x2="559.40" y2="133.90" stroke="#000" stroke-width="1.9" stroke-linecap="butt"/>
<text x="554.10" y="128.30" font-size="8" font-weight="bold" font-style="italic" text-anchor="middle" fill="#000" stroke="#000" stroke-width="0.2">0.4266</text>
<line x1="577.00" y1="152.70" x2="588.20" y2="152.70" stroke="#000" stroke-width="1.9" stroke-linecap="butt"/>
<text x="582.60" y="146.20" font-size="8" font-weight="bold" font-style="italic" text-anchor="middle" fill="#000" stroke="#000" stroke-width="0.2">0.9997</text>
<line x1="605.40" y1="152.00" x2="616.00" y2="152.00" stroke="#000" stroke-width="1.9" stroke-linecap="butt"/>
<text x="610.70" y="146.20" font-size="8" font-weight="bold" font-style="italic" text-anchor="middle" fill="#000" stroke="#000" stroke-width="0.2">0.8383</text>
<line x1="633.60" y1="139.60" x2="644.30" y2="139.60" stroke="#000" stroke-width="1.9" stroke-linecap="butt"/>
<text x="638.95" y="134.00" font-size="8" font-weight="bold" font-style="italic" text-anchor="middle" fill="#000" stroke="#000" stroke-width="0.2">&gt;0.9999</text>
<line x1="662.00" y1="126.70" x2="672.60" y2="126.70" stroke="#000" stroke-width="1.9" stroke-linecap="butt"/>
<text x="667.30" y="120.90" font-size="8" font-weight="bold" font-style="italic" text-anchor="middle" fill="#000" stroke="#000" stroke-width="0.2">0.7563</text>
<text x="12.00" y="220.50" font-size="12" font-weight="bold" text-anchor="start" fill="#000" stroke="#000" stroke-width="0.2">c</text>
<text x="50.50" y="241.50" font-size="7" font-weight="bold" font-style="italic" transform="rotate(-45 50.50 241.50)" stroke="#000" stroke-width="0.2"><tspan dy="0.00">Phgdh</tspan><tspan font-size="4.20" dy="-2.80">fl/fl</tspan></text>
<text x="73.00" y="241.50" font-size="7" font-weight="bold" font-style="italic" transform="rotate(-45 73.00 241.50)" stroke="#000" stroke-width="0.2"><tspan dy="0.00">Phgdh</tspan><tspan font-size="4.20" dy="-2.80">fl/fl</tspan><tspan dy="2.80">Lyz2</tspan><tspan font-size="4.20" dy="-2.80">cre</tspan></text>
<text x="95.50" y="241.50" font-size="7" font-weight="bold" font-style="italic" transform="rotate(-45 95.50 241.50)" stroke="#000" stroke-width="0.2"><tspan dy="0.00">Phgdh</tspan><tspan font-size="4.20" dy="-2.80">fl/fl</tspan><tspan dy="2.80">+PAO1</tspan></text>
<text x="121.00" y="241.50" font-size="7" font-weight="bold" font-style="italic" transform="rotate(-45 121.00 241.50)" stroke="#000" stroke-width="0.2"><tspan dy="0.00">Phgdh</tspan><tspan font-size="4.20" dy="-2.80">fl/fl</tspan><tspan dy="2.80">Lyz2</tspan><tspan font-size="4.20" dy="-2.80">cre</tspan><tspan dy="2.80">+PAO1</tspan></text>
<rect x="32.20" y="249.40" width="88.00" height="21.40" fill="#a3a3a3" stroke="#000" stroke-width="2.0"/>
<defs><clipPath id="cb1"><rect x="32.3" y="249.5" width="87.8" height="21.2"/></clipPath></defs>
<g clip-path="url(#cb1)">
<rect x="32.20" y="249.00" width="4.40" height="22.00" fill="#c0c0c0" filter="url(#bl12)"/>
<rect x="53.00" y="249.00" width="4.40" height="22.00" fill="#c0c0c0" filter="url(#bl12)"/>
<rect x="74.70" y="249.00" width="4.40" height="22.00" fill="#c0c0c0" filter="url(#bl12)"/>
<rect x="97.00" y="249.00" width="4.40" height="22.00" fill="#c0c0c0" filter="url(#bl12)"/>
<rect x="117.60" y="249.00" width="4.40" height="22.00" fill="#c0c0c0" filter="url(#bl12)"/>
<rect x="36.80" y="256.70" width="15.60" height="6.20" rx="4.03" ry="3.10" fill="#000" fill-opacity="0.45" filter="url(#bl13)"/>
<rect x="58.40" y="256.70" width="15.60" height="6.20" rx="4.03" ry="3.10" fill="#000" fill-opacity="0.45" filter="url(#bl13)"/>
<rect x="80.10" y="256.70" width="15.60" height="6.20" rx="4.03" ry="3.10" fill="#000" fill-opacity="0.45" filter="url(#bl13)"/>
<rect x="101.60" y="256.70" width="15.60" height="6.20" rx="4.03" ry="3.10" fill="#000" fill-opacity="0.45" filter="url(#bl13)"/>
</g>
<rect x="32.20" y="277.40" width="88.00" height="18.00" fill="#fff" stroke="#000" stroke-width="2.0"/>
<rect x="57.50" y="286.40" width="16.00" height="4.40" rx="2.86" ry="2.20" fill="#000" fill-opacity="0.12" filter="url(#bl15)"/>
<rect x="79.50" y="286.40" width="16.00" height="4.40" rx="2.86" ry="2.20" fill="#000" fill-opacity="0.1" filter="url(#bl15)"/>
<rect x="100.20" y="284.10" width="17.20" height="8.40" rx="5.46" ry="4.20" fill="#000" fill-opacity="1" filter="url(#bl10)"/>
<rect x="32.20" y="306.40" width="88.00" height="18.20" fill="#fff" stroke="#000" stroke-width="2.0"/>
<rect x="36.70" y="314.40" width="16.40" height="5.60" rx="3.64" ry="2.80" fill="#000" fill-opacity="1" filter="url(#bl9)"/>
<rect x="59.00" y="316.10" width="14.00" height="2.80" rx="1.82" ry="1.40" fill="#000" fill-opacity="0.35" filter="url(#bl9)"/>
<rect x="79.80" y="314.10" width="15.60" height="6.20" rx="4.03" ry="3.10" fill="#000" fill-opacity="1" filter="url(#bl9)"/>
<rect x="100.70" y="316.10" width="14.60" height="2.40" rx="1.56" ry="1.20" fill="#000" fill-opacity="0.25" filter="url(#bl9)"/>
<rect x="32.20" y="331.40" width="88.00" height="21.80" fill="#fff" stroke="#000" stroke-width="2.0"/>
<rect x="35.50" y="338.70" width="18.60" height="6.80" rx="4.42" ry="3.40" fill="#000" fill-opacity="1" filter="url(#bl8)"/>
<rect x="57.60" y="338.70" width="16.80" height="6.80" rx="4.42" ry="3.40" fill="#000" fill-opacity="1" filter="url(#bl8)"/>
<rect x="77.80" y="338.70" width="17.20" height="6.80" rx="4.42" ry="3.40" fill="#000" fill-opacity="1" filter="url(#bl8)"/>
<rect x="97.70" y="338.70" width="16.80" height="6.80" rx="4.42" ry="3.40" fill="#000" fill-opacity="1" filter="url(#bl8)"/>
<text x="2.90" y="267.70" font-size="8.2" font-weight="bold" text-anchor="start" fill="#000" textLength="24.90" lengthAdjust="spacingAndGlyphs" stroke="#000" stroke-width="0.2">Dusp2</text>
<text x="2.90" y="293.60" font-size="8.2" font-weight="bold" text-anchor="start" fill="#000" textLength="24.90" lengthAdjust="spacingAndGlyphs" stroke="#000" stroke-width="0.2">Dusp4</text>
<text x="2.90" y="321.20" font-size="8.2" font-weight="bold" text-anchor="start" fill="#000" textLength="25.50" lengthAdjust="spacingAndGlyphs" stroke="#000" stroke-width="0.2">Phgdh</text>
<text x="2.90" y="347.70" font-size="8.2" font-weight="bold" text-anchor="start" fill="#000" textLength="26.20" lengthAdjust="spacingAndGlyphs" stroke="#000" stroke-width="0.2">β-actin</text>
<text x="125.30" y="260.70" font-size="5.7" font-weight="bold" text-anchor="start" fill="#000" textLength="15.50" lengthAdjust="spacingAndGlyphs" stroke="#000" stroke-width="0.2">42kDa</text>
<text x="125.30" y="290.20" font-size="5.7" font-weight="bold" text-anchor="start" fill="#000" textLength="15.50" lengthAdjust="spacingAndGlyphs" stroke="#000" stroke-width="0.2">43kDa</text>
<text x="125.30" y="322.60" font-size="5.7" font-weight="bold" text-anchor="start" fill="#000" textLength="15.50" lengthAdjust="spacingAndGlyphs" stroke="#000" stroke-width="0.2">57kDa</text>
<text x="125.30" y="349.30" font-size="5.7" font-weight="bold" text-anchor="start" fill="#000" textLength="15.50" lengthAdjust="spacingAndGlyphs" stroke="#000" stroke-width="0.2">42kDa</text>
<rect x="184.20" y="268.50" width="87.40" height="21.40" fill="#e6e6e6" stroke="#000" stroke-width="2.0"/>
<rect x="187.00" y="269.00" width="18.00" height="20.50" fill="#d2d2d2" filter="url(#bl15)"/>
<rect x="207.40" y="269.00" width="18.00" height="20.50" fill="#d2d2d2" filter="url(#bl15)"/>
<rect x="228.30" y="269.00" width="18.00" height="20.50" fill="#d2d2d2" filter="url(#bl15)"/>
<rect x="248.80" y="269.00" width="18.00" height="20.50" fill="#d2d2d2" filter="url(#bl15)"/>
<rect x="189.00" y="275.80" width="14.00" height="4.80" rx="3.12" ry="2.40" fill="#000" fill-opacity="1" filter="url(#bl8)"/>
<rect x="189.00" y="283.00" width="14.00" height="3.00" rx="1.95" ry="1.50" fill="#000" fill-opacity="0.18" filter="url(#bl10)"/>
<rect x="209.90" y="275.80" width="13.00" height="4.80" rx="3.12" ry="2.40" fill="#000" fill-opacity="0.85" filter="url(#bl8)"/>
<rect x="209.90" y="283.00" width="13.00" height="3.00" rx="1.95" ry="1.50" fill="#000" fill-opacity="0.18" filter="url(#bl10)"/>
<rect x="230.30" y="275.80" width="14.00" height="4.80" rx="3.12" ry="2.40" fill="#000" fill-opacity="0.95" filter="url(#bl8)"/>
<rect x="230.30" y="283.00" width="14.00" height="3.00" rx="1.95" ry="1.50" fill="#000" fill-opacity="0.18" filter="url(#bl10)"/>
<rect x="250.60" y="275.80" width="14.40" height="4.80" rx="3.12" ry="2.40" fill="#000" fill-opacity="1" filter="url(#bl8)"/>
<rect x="250.60" y="283.00" width="14.40" height="3.00" rx="1.95" ry="1.50" fill="#000" fill-opacity="0.18" filter="url(#bl10)"/>
<rect x="184.20" y="297.30" width="87.40" height="21.00" fill="#fff" stroke="#000" stroke-width="2.0"/>
<rect x="230.40" y="303.80" width="13.60" height="8.00" rx="5.20" ry="4.00" fill="#000" fill-opacity="1" filter="url(#bl10)"/>
<rect x="250.40" y="301.20" width="13.60" height="12.00" rx="6.80" ry="6.00" fill="#000" fill-opacity="1" filter="url(#bl10)"/>
<rect x="184.20" y="325.50" width="87.40" height="20.60" fill="#f2f2f2" stroke="#000" stroke-width="2.0"/>
<rect x="190.00" y="326.00" width="18.00" height="19.50" fill="#e0e0e0" filter="url(#bl15)"/>
<rect x="207.90" y="326.00" width="18.00" height="19.50" fill="#e0e0e0" filter="url(#bl15)"/>
<rect x="226.90" y="326.00" width="18.00" height="19.50" fill="#e0e0e0" filter="url(#bl15)"/>
<rect x="245.90" y="326.00" width="18.00" height="19.50" fill="#e0e0e0" filter="url(#bl15)"/>
<rect x="191.70" y="332.70" width="14.60" height="6.00" rx="3.90" ry="3.00" fill="#000" fill-opacity="1" filter="url(#bl8)"/>
<rect x="209.90" y="332.70" width="14.00" height="6.00" rx="3.90" ry="3.00" fill="#000" fill-opacity="1" filter="url(#bl8)"/>
<rect x="228.20" y="332.70" width="15.40" height="6.00" rx="3.90" ry="3.00" fill="#000" fill-opacity="1" filter="url(#bl8)"/>
<rect x="247.90" y="332.70" width="14.00" height="6.00" rx="3.90" ry="3.00" fill="#000" fill-opacity="1" filter="url(#bl8)"/>
<text x="154.50" y="246.00" font-size="8.8" font-weight="bold" text-anchor="start" fill="#000" textLength="21.70" lengthAdjust="spacingAndGlyphs" stroke="#000" stroke-width="0.2">PAO1</text>
<text x="154.50" y="260.60" font-size="8.8" font-weight="bold" text-anchor="start" fill="#000" textLength="31.50" lengthAdjust="spacingAndGlyphs" stroke="#000" stroke-width="0.2">L-serine</text>
<text x="196.50" y="245.80" font-size="8.6" font-weight="bold" text-anchor="middle" fill="#000" stroke="#000" stroke-width="0.2">-</text>
<text x="196.50" y="260.60" font-size="8.6" font-weight="bold" text-anchor="middle" fill="#000" stroke="#000" stroke-width="0.2">+</text>
<text x="217.80" y="245.80" font-size="8.6" font-weight="bold" text-anchor="middle" fill="#000" stroke="#000" stroke-width="0.2">-</text>
<text x="217.80" y="260.60" font-size="8.6" font-weight="bold" text-anchor="middle" fill="#000" stroke="#000" stroke-width="0.2">-</text>
<text x="237.60" y="245.80" font-size="8.6" font-weight="bold" text-anchor="middle" fill="#000" stroke="#000" stroke-width="0.2">+</text>
<text x="237.60" y="260.60" font-size="8.6" font-weight="bold" text-anchor="middle" fill="#000" stroke="#000" stroke-width="0.2">+</text>
<text x="256.30" y="245.80" font-size="8.6" font-weight="bold" text-anchor="middle" fill="#000" stroke="#000" stroke-width="0.2">+</text>
<text x="256.30" y="260.60" font-size="8.6" font-weight="bold" text-anchor="middle" fill="#000" stroke="#000" stroke-width="0.2">-</text>
<text x="155.90" y="286.80" font-size="8.2" font-weight="bold" text-anchor="start" fill="#000" textLength="24.50" lengthAdjust="spacingAndGlyphs" stroke="#000" stroke-width="0.2">Dusp2</text>
<text x="155.90" y="314.10" font-size="8.2" font-weight="bold" text-anchor="start" fill="#000" textLength="24.50" lengthAdjust="spacingAndGlyphs" stroke="#000" stroke-width="0.2">Dusp4</text>
<text x="155.90" y="341.70" font-size="8.2" font-weight="bold" text-anchor="start" fill="#000" textLength="26.00" lengthAdjust="spacingAndGlyphs" stroke="#000" stroke-width="0.2">β-actin</text>
<text x="277.30" y="279.60" font-size="5.8" font-weight="bold" text-anchor="start" fill="#000" textLength="16.50" lengthAdjust="spacingAndGlyphs" stroke="#000" stroke-width="0.2">43kDa</text>
<text x="277.30" y="311.30" font-size="5.8" font-weight="bold" text-anchor="start" fill="#000" textLength="16.50" lengthAdjust="spacingAndGlyphs" stroke="#000" stroke-width="0.2">57kDa</text>
<text x="277.30" y="338.30" font-size="5.8" font-weight="bold" text-anchor="start" fill="#000" textLength="16.50" lengthAdjust="spacingAndGlyphs" stroke="#000" stroke-width="0.2">42kDa</text>
<text x="295.30" y="220.00" font-size="12" font-weight="bold" text-anchor="start" fill="#000" stroke="#000" stroke-width="0.2">d</text>
<line x1="332.00" y1="262.00" x2="332.00" y2="344.60" stroke="#000" stroke-width="1.8" stroke-linecap="butt"/>
<line x1="326.00" y1="332.80" x2="332.00" y2="332.80" stroke="#000" stroke-width="1.8" stroke-linecap="butt"/>
<text x="324.50" y="335.72" font-size="8.1" font-weight="bold" text-anchor="end" fill="#000" stroke="#000" stroke-width="0.2">0.4</text>
<line x1="326.00" y1="309.20" x2="332.00" y2="309.20" stroke="#000" stroke-width="1.8" stroke-linecap="butt"/>
<text x="324.50" y="312.12" font-size="8.1" font-weight="bold" text-anchor="end" fill="#000" stroke="#000" stroke-width="0.2">0.8</text>
<line x1="326.00" y1="285.60" x2="332.00" y2="285.60" stroke="#000" stroke-width="1.8" stroke-linecap="butt"/>
<text x="324.50" y="288.52" font-size="8.1" font-weight="bold" text-anchor="end" fill="#000" stroke="#000" stroke-width="0.2">1.2</text>
<line x1="326.00" y1="262.00" x2="332.00" y2="262.00" stroke="#000" stroke-width="1.8" stroke-linecap="butt"/>
<text x="324.50" y="264.92" font-size="8.1" font-weight="bold" text-anchor="end" fill="#000" stroke="#000" stroke-width="0.2">1.6</text>
<line x1="332.00" y1="344.60" x2="415.20" y2="344.60" stroke="#000" stroke-width="1.8" stroke-linecap="butt"/>
<line x1="352.70" y1="344.60" x2="352.70" y2="350.60" stroke="#000" stroke-width="1.8" stroke-linecap="butt"/>
<line x1="394.10" y1="344.60" x2="394.10" y2="350.60" stroke="#000" stroke-width="1.8" stroke-linecap="butt"/>
<text x="352.70" y="362.20" font-size="8.2" font-weight="bold" text-anchor="middle" stroke="#000" stroke-width="0.2">si<tspan font-style="italic">NC</tspan></text>
<text x="394.10" y="362.20" font-size="8.2" font-weight="bold" text-anchor="middle" stroke="#000" stroke-width="0.2">si<tspan font-style="italic">Dusp4</tspan></text>
<text x="373.40" y="243.00" font-size="8" font-weight="bold" font-style="italic" text-anchor="middle" fill="#000" stroke="#000" stroke-width="0.2">Dusp4</text>
<text x="305.30" y="304.50" font-size="8" font-weight="bold" text-anchor="middle" fill="#000" transform="rotate(-90 305.30 304.50)" textLength="103.00" lengthAdjust="spacingAndGlyphs" stroke="#000" stroke-width="0.2">Relative mRNA expression</text>
<line x1="345.95" y1="297.40" x2="345.95" y2="292.09" stroke="#0a0aff" stroke-width="1.52" stroke-linecap="butt"/>
<line x1="342.45" y1="292.09" x2="349.45" y2="292.09" stroke="#0a0aff" stroke-width="1.52" stroke-linecap="butt"/>
<path d="M340.15 344.60 L340.15 298.35 L351.75 298.35 L351.75 344.60" fill="none" stroke="#0a0aff" stroke-width="1.9" stroke-linejoin="miter"/>
<circle cx="343.45" cy="287.37" r="2.10" fill="#0a0aff"/>
<circle cx="345.95" cy="300.35" r="2.10" fill="#0a0aff"/>
<circle cx="348.45" cy="303.30" r="2.10" fill="#0a0aff"/>
<line x1="359.45" y1="322.77" x2="359.45" y2="319.82" stroke="#ff8410" stroke-width="1.52" stroke-linecap="butt"/>
<line x1="355.95" y1="319.82" x2="362.95" y2="319.82" stroke="#ff8410" stroke-width="1.52" stroke-linecap="butt"/>
<path d="M353.65 344.60 L353.65 323.72 L365.25 323.72 L365.25 344.60" fill="none" stroke="#ff8410" stroke-width="1.9" stroke-linejoin="miter"/>
<path d="M356.45 314.02 L358.54 317.78 L354.36 317.78Z" fill="#ff8410"/>
<path d="M359.45 323.46 L361.54 327.22 L357.36 327.22Z" fill="#ff8410"/>
<path d="M362.45 321.69 L364.54 325.45 L360.36 325.45Z" fill="#ff8410"/>
<line x1="387.35" y1="325.13" x2="387.35" y2="324.54" stroke="#0a0aff" stroke-width="1.52" stroke-linecap="butt"/>
<line x1="383.85" y1="324.54" x2="390.85" y2="324.54" stroke="#0a0aff" stroke-width="1.52" stroke-linecap="butt"/>
<path d="M381.55 344.60 L381.55 326.08 L393.15 326.08 L393.15 344.60" fill="none" stroke="#0a0aff" stroke-width="1.9" stroke-linejoin="miter"/>
<circle cx="384.85" cy="324.54" r="2.10" fill="#0a0aff"/>
<circle cx="387.35" cy="325.13" r="2.10" fill="#0a0aff"/>
<circle cx="389.85" cy="325.13" r="2.10" fill="#0a0aff"/>
<line x1="400.85" y1="328.67" x2="400.85" y2="327.49" stroke="#ff8410" stroke-width="1.52" stroke-linecap="butt"/>
<line x1="397.35" y1="327.49" x2="404.35" y2="327.49" stroke="#ff8410" stroke-width="1.52" stroke-linecap="butt"/>
<path d="M395.05 344.60 L395.05 329.62 L406.65 329.62 L406.65 344.60" fill="none" stroke="#ff8410" stroke-width="1.9" stroke-linejoin="miter"/>
<path d="M397.85 325.23 L399.94 328.99 L395.76 328.99Z" fill="#ff8410"/>
<path d="M400.85 327.59 L402.94 331.35 L398.76 331.35Z" fill="#ff8410"/>
<path d="M403.85 326.41 L405.94 330.17 L401.76 330.17Z" fill="#ff8410"/>
<line x1="346.60" y1="265.30" x2="387.20" y2="265.30" stroke="#000" stroke-width="1.9" stroke-linecap="butt"/>
<text x="366.90" y="261.20" font-size="7.1" font-weight="bold" font-style="italic" text-anchor="middle" fill="#000" stroke="#000" stroke-width="0.2">0.0002</text>
<line x1="347.80" y1="281.70" x2="359.60" y2="281.70" stroke="#000" stroke-width="1.9" stroke-linecap="butt"/>
<text x="353.70" y="277.60" font-size="7.1" font-weight="bold" font-style="italic" text-anchor="middle" fill="#000" stroke="#000" stroke-width="0.2">0.0002</text>
<line x1="387.60" y1="316.00" x2="400.80" y2="316.00" stroke="#000" stroke-width="1.9" stroke-linecap="butt"/>
<text x="394.20" y="311.90" font-size="7.1" font-weight="bold" font-style="italic" text-anchor="middle" fill="#000" stroke="#000" stroke-width="0.2">0.8074</text>
<line x1="451.50" y1="262.00" x2="451.50" y2="344.60" stroke="#000" stroke-width="1.8" stroke-linecap="butt"/>
<line x1="445.50" y1="344.60" x2="451.50" y2="344.60" stroke="#000" stroke-width="1.8" stroke-linecap="butt"/>
<text x="444.00" y="347.52" font-size="8.1" font-weight="bold" text-anchor="end" fill="#000" stroke="#000" stroke-width="0.2">0.5</text>
<line x1="445.50" y1="328.08" x2="451.50" y2="328.08" stroke="#000" stroke-width="1.8" stroke-linecap="butt"/>
<text x="444.00" y="331.00" font-size="8.1" font-weight="bold" text-anchor="end" fill="#000" stroke="#000" stroke-width="0.2">1.0</text>
<line x1="445.50" y1="311.56" x2="451.50" y2="311.56" stroke="#000" stroke-width="1.8" stroke-linecap="butt"/>
<text x="444.00" y="314.48" font-size="8.1" font-weight="bold" text-anchor="end" fill="#000" stroke="#000" stroke-width="0.2">1.5</text>
<line x1="445.50" y1="295.04" x2="451.50" y2="295.04" stroke="#000" stroke-width="1.8" stroke-linecap="butt"/>
<text x="444.00" y="297.96" font-size="8.1" font-weight="bold" text-anchor="end" fill="#000" stroke="#000" stroke-width="0.2">2.0</text>
<line x1="445.50" y1="278.52" x2="451.50" y2="278.52" stroke="#000" stroke-width="1.8" stroke-linecap="butt"/>
<text x="444.00" y="281.44" font-size="8.1" font-weight="bold" text-anchor="end" fill="#000" stroke="#000" stroke-width="0.2">2.5</text>
<line x1="445.50" y1="262.00" x2="451.50" y2="262.00" stroke="#000" stroke-width="1.8" stroke-linecap="butt"/>
<text x="444.00" y="264.92" font-size="8.1" font-weight="bold" text-anchor="end" fill="#000" stroke="#000" stroke-width="0.2">3.0</text>
<line x1="451.50" y1="344.60" x2="534.30" y2="344.60" stroke="#000" stroke-width="1.8" stroke-linecap="butt"/>
<line x1="472.20" y1="344.60" x2="472.20" y2="350.60" stroke="#000" stroke-width="1.8" stroke-linecap="butt"/>
<line x1="513.60" y1="344.60" x2="513.60" y2="350.60" stroke="#000" stroke-width="1.8" stroke-linecap="butt"/>
<text x="472.20" y="362.20" font-size="8.2" font-weight="bold" text-anchor="middle" stroke="#000" stroke-width="0.2">si<tspan font-style="italic">NC</tspan></text>
<text x="513.60" y="362.20" font-size="8.2" font-weight="bold" text-anchor="middle" stroke="#000" stroke-width="0.2">si<tspan font-style="italic">Dusp4</tspan></text>
<text x="493.30" y="243.00" font-size="8" font-weight="bold" font-style="italic" text-anchor="middle" fill="#000" stroke="#000" stroke-width="0.2">Il6</text>
<text x="426.80" y="304.50" font-size="8" font-weight="bold" text-anchor="middle" fill="#000" transform="rotate(-90 426.80 304.50)" textLength="103.00" lengthAdjust="spacingAndGlyphs" stroke="#000" stroke-width="0.2">Relative mRNA expression</text>
<line x1="465.55" y1="327.09" x2="465.55" y2="321.47" stroke="#0a0aff" stroke-width="1.52" stroke-linecap="butt"/>
<line x1="462.05" y1="321.47" x2="469.05" y2="321.47" stroke="#0a0aff" stroke-width="1.52" stroke-linecap="butt"/>
<path d="M459.85 344.60 L459.85 328.04 L471.25 328.04 L471.25 344.60" fill="none" stroke="#0a0aff" stroke-width="1.9" stroke-linejoin="miter"/>
<circle cx="463.05" cy="315.52" r="2.10" fill="#0a0aff"/>
<circle cx="465.55" cy="331.38" r="2.10" fill="#0a0aff"/>
<circle cx="468.05" cy="331.38" r="2.10" fill="#0a0aff"/>
<line x1="478.85" y1="308.26" x2="478.85" y2="304.95" stroke="#ff8410" stroke-width="1.52" stroke-linecap="butt"/>
<line x1="475.35" y1="304.95" x2="482.35" y2="304.95" stroke="#ff8410" stroke-width="1.52" stroke-linecap="butt"/>
<path d="M473.15 344.60 L473.15 309.21 L484.55 309.21 L484.55 344.60" fill="none" stroke="#ff8410" stroke-width="1.9" stroke-linejoin="miter"/>
<path d="M475.85 299.39 L477.94 303.15 L473.76 303.15Z" fill="#ff8410"/>
<path d="M478.85 309.30 L480.94 313.06 L476.76 313.06Z" fill="#ff8410"/>
<path d="M481.85 307.65 L483.94 311.41 L479.76 311.41Z" fill="#ff8410"/>
<line x1="506.95" y1="300.99" x2="506.95" y2="298.34" stroke="#0a0aff" stroke-width="1.52" stroke-linecap="butt"/>
<line x1="503.45" y1="298.34" x2="510.45" y2="298.34" stroke="#0a0aff" stroke-width="1.52" stroke-linecap="butt"/>
<path d="M501.25 344.60 L501.25 301.94 L512.65 301.94 L512.65 344.60" fill="none" stroke="#0a0aff" stroke-width="1.9" stroke-linejoin="miter"/>
<circle cx="504.45" cy="296.69" r="2.10" fill="#0a0aff"/>
<circle cx="506.95" cy="300.00" r="2.10" fill="#0a0aff"/>
<circle cx="509.45" cy="305.61" r="2.10" fill="#0a0aff"/>
<line x1="520.25" y1="292.73" x2="520.25" y2="291.74" stroke="#ff8410" stroke-width="1.52" stroke-linecap="butt"/>
<line x1="516.75" y1="291.74" x2="523.75" y2="291.74" stroke="#ff8410" stroke-width="1.52" stroke-linecap="butt"/>
<path d="M514.55 344.60 L514.55 293.68 L525.95 293.68 L525.95 344.60" fill="none" stroke="#ff8410" stroke-width="1.9" stroke-linejoin="miter"/>
<path d="M517.25 288.82 L519.34 292.58 L515.16 292.58Z" fill="#ff8410"/>
<path d="M520.25 289.48 L522.34 293.24 L518.16 293.24Z" fill="#ff8410"/>
<path d="M523.25 291.13 L525.34 294.89 L521.16 294.89Z" fill="#ff8410"/>
<line x1="465.70" y1="256.00" x2="506.70" y2="256.00" stroke="#000" stroke-width="1.9" stroke-linecap="butt"/>
<text x="486.20" y="251.90" font-size="7.1" font-weight="bold" font-style="italic" text-anchor="middle" fill="#000" stroke="#000" stroke-width="0.2">0.0021</text>
<line x1="479.50" y1="271.60" x2="520.50" y2="271.60" stroke="#000" stroke-width="1.9" stroke-linecap="butt"/>
<text x="500.00" y="267.50" font-size="7.1" font-weight="bold" font-style="italic" text-anchor="middle" fill="#000" stroke="#000" stroke-width="0.2">0.0255</text>
<line x1="465.70" y1="295.30" x2="479.10" y2="295.30" stroke="#000" stroke-width="1.9" stroke-linecap="butt"/>
<text x="472.40" y="291.20" font-size="7.1" font-weight="bold" font-style="italic" text-anchor="middle" fill="#000" stroke="#000" stroke-width="0.2">0.0120</text>
<line x1="507.30" y1="287.60" x2="520.50" y2="287.60" stroke="#000" stroke-width="1.9" stroke-linecap="butt"/>
<text x="513.90" y="283.50" font-size="7.1" font-weight="bold" font-style="italic" text-anchor="middle" fill="#000" stroke="#000" stroke-width="0.2">0.4398</text>
<line x1="571.70" y1="261.80" x2="571.70" y2="344.20" stroke="#000" stroke-width="1.8" stroke-linecap="butt"/>
<line x1="565.70" y1="344.20" x2="571.70" y2="344.20" stroke="#000" stroke-width="1.8" stroke-linecap="butt"/>
<text x="564.20" y="347.12" font-size="8.1" font-weight="bold" text-anchor="end" fill="#000" stroke="#000" stroke-width="0.2">0.5</text>
<line x1="565.70" y1="327.72" x2="571.70" y2="327.72" stroke="#000" stroke-width="1.8" stroke-linecap="butt"/>
<text x="564.20" y="330.64" font-size="8.1" font-weight="bold" text-anchor="end" fill="#000" stroke="#000" stroke-width="0.2">1.0</text>
<line x1="565.70" y1="311.24" x2="571.70" y2="311.24" stroke="#000" stroke-width="1.8" stroke-linecap="butt"/>
<text x="564.20" y="314.16" font-size="8.1" font-weight="bold" text-anchor="end" fill="#000" stroke="#000" stroke-width="0.2">1.5</text>
<line x1="565.70" y1="294.76" x2="571.70" y2="294.76" stroke="#000" stroke-width="1.8" stroke-linecap="butt"/>
<text x="564.20" y="297.68" font-size="8.1" font-weight="bold" text-anchor="end" fill="#000" stroke="#000" stroke-width="0.2">2.0</text>
<line x1="565.70" y1="278.28" x2="571.70" y2="278.28" stroke="#000" stroke-width="1.8" stroke-linecap="butt"/>
<text x="564.20" y="281.20" font-size="8.1" font-weight="bold" text-anchor="end" fill="#000" stroke="#000" stroke-width="0.2">2.5</text>
<line x1="565.70" y1="261.80" x2="571.70" y2="261.80" stroke="#000" stroke-width="1.8" stroke-linecap="butt"/>
<text x="564.20" y="264.72" font-size="8.1" font-weight="bold" text-anchor="end" fill="#000" stroke="#000" stroke-width="0.2">3.0</text>
<line x1="571.70" y1="344.20" x2="654.50" y2="344.20" stroke="#000" stroke-width="1.8" stroke-linecap="butt"/>
<line x1="592.00" y1="344.20" x2="592.00" y2="350.20" stroke="#000" stroke-width="1.8" stroke-linecap="butt"/>
<line x1="633.40" y1="344.20" x2="633.40" y2="350.20" stroke="#000" stroke-width="1.8" stroke-linecap="butt"/>
<text x="592.00" y="361.80" font-size="8.2" font-weight="bold" text-anchor="middle" stroke="#000" stroke-width="0.2">si<tspan font-style="italic">NC</tspan></text>
<text x="633.40" y="361.80" font-size="8.2" font-weight="bold" text-anchor="middle" stroke="#000" stroke-width="0.2">si<tspan font-style="italic">Dusp4</tspan></text>
<text x="607.50" y="243.00" font-size="8" font-weight="bold" font-style="italic" text-anchor="middle" fill="#000" stroke="#000" stroke-width="0.2">Il1b</text>
<text x="546.30" y="304.50" font-size="8" font-weight="bold" text-anchor="middle" fill="#000" transform="rotate(-90 546.30 304.50)" textLength="103.00" lengthAdjust="spacingAndGlyphs" stroke="#000" stroke-width="0.2">Relative mRNA expression</text>
<line x1="585.35" y1="327.72" x2="585.35" y2="327.06" stroke="#0a0aff" stroke-width="1.52" stroke-linecap="butt"/>
<line x1="581.85" y1="327.06" x2="588.85" y2="327.06" stroke="#0a0aff" stroke-width="1.52" stroke-linecap="butt"/>
<path d="M579.65 344.20 L579.65 328.67 L591.05 328.67 L591.05 344.20" fill="none" stroke="#0a0aff" stroke-width="1.9" stroke-linejoin="miter"/>
<circle cx="582.85" cy="325.08" r="2.10" fill="#0a0aff"/>
<circle cx="585.35" cy="330.36" r="2.10" fill="#0a0aff"/>
<circle cx="587.85" cy="327.72" r="2.10" fill="#0a0aff"/>
<line x1="598.65" y1="310.25" x2="598.65" y2="303.99" stroke="#ff8410" stroke-width="1.52" stroke-linecap="butt"/>
<line x1="595.15" y1="303.99" x2="602.15" y2="303.99" stroke="#ff8410" stroke-width="1.52" stroke-linecap="butt"/>
<path d="M592.95 344.20 L592.95 311.20 L604.35 311.20 L604.35 344.20" fill="none" stroke="#ff8410" stroke-width="1.9" stroke-linejoin="miter"/>
<path d="M595.65 290.85 L597.74 294.62 L593.56 294.62Z" fill="#ff8410"/>
<path d="M598.65 312.28 L600.74 316.04 L596.56 316.04Z" fill="#ff8410"/>
<path d="M601.65 315.57 L603.74 319.34 L599.56 319.34Z" fill="#ff8410"/>
<line x1="626.75" y1="309.59" x2="626.75" y2="308.60" stroke="#0a0aff" stroke-width="1.52" stroke-linecap="butt"/>
<line x1="623.25" y1="308.60" x2="630.25" y2="308.60" stroke="#0a0aff" stroke-width="1.52" stroke-linecap="butt"/>
<path d="M621.05 344.20 L621.05 310.54 L632.45 310.54 L632.45 344.20" fill="none" stroke="#0a0aff" stroke-width="1.9" stroke-linejoin="miter"/>
<circle cx="624.25" cy="307.28" r="2.10" fill="#0a0aff"/>
<circle cx="626.75" cy="311.24" r="2.10" fill="#0a0aff"/>
<circle cx="629.25" cy="307.94" r="2.10" fill="#0a0aff"/>
<line x1="640.05" y1="297.07" x2="640.05" y2="296.08" stroke="#ff8410" stroke-width="1.52" stroke-linecap="butt"/>
<line x1="636.55" y1="296.08" x2="643.55" y2="296.08" stroke="#ff8410" stroke-width="1.52" stroke-linecap="butt"/>
<path d="M634.35 344.20 L634.35 298.02 L645.75 298.02 L645.75 344.20" fill="none" stroke="#ff8410" stroke-width="1.9" stroke-linejoin="miter"/>
<path d="M637.05 293.16 L639.14 296.92 L634.96 296.92Z" fill="#ff8410"/>
<path d="M640.05 294.15 L642.14 297.91 L637.96 297.91Z" fill="#ff8410"/>
<path d="M643.05 295.14 L645.14 298.90 L640.96 298.90Z" fill="#ff8410"/>
<line x1="585.50" y1="257.40" x2="626.90" y2="257.40" stroke="#000" stroke-width="1.9" stroke-linecap="butt"/>
<text x="606.20" y="253.30" font-size="7.1" font-weight="bold" font-style="italic" text-anchor="middle" fill="#000" stroke="#000" stroke-width="0.2">0.0358</text>
<line x1="599.30" y1="272.60" x2="640.70" y2="272.60" stroke="#000" stroke-width="1.9" stroke-linecap="butt"/>
<text x="620.00" y="268.50" font-size="7.1" font-weight="bold" font-style="italic" text-anchor="middle" fill="#000" stroke="#000" stroke-width="0.2">0.0707</text>
<line x1="585.50" y1="288.60" x2="598.90" y2="288.60" stroke="#000" stroke-width="1.9" stroke-linecap="butt"/>
<text x="592.20" y="284.50" font-size="7.1" font-weight="bold" font-style="italic" text-anchor="middle" fill="#000" stroke="#000" stroke-width="0.2">0.0306</text>
<line x1="626.90" y1="290.60" x2="640.30" y2="290.60" stroke="#000" stroke-width="1.9" stroke-linecap="butt"/>
<text x="633.60" y="286.50" font-size="7.1" font-weight="bold" font-style="italic" text-anchor="middle" fill="#000" stroke="#000" stroke-width="0.2">0.1197</text>
<circle cx="653.50" cy="255.90" r="2.10" fill="#0a0aff"/>
<text x="657.80" y="258.60" font-size="7.2" font-weight="bold" text-anchor="start" fill="#000" stroke="#000" stroke-width="0.2">-serine</text>
<path d="M653.50 268.42 L655.70 272.38 L651.30 272.38Z" fill="#ff8410"/>
<text x="657.80" y="273.60" font-size="7.2" font-weight="bold" text-anchor="start" fill="#000" stroke="#000" stroke-width="0.2">+serine</text>
<text x="9.80" y="385.60" font-size="12" font-weight="bold" text-anchor="start" fill="#000" stroke="#000" stroke-width="0.2">e</text>
<text x="118.00" y="398.60" font-size="8.8" font-weight="bold" text-anchor="start" fill="#000" textLength="16.30" lengthAdjust="spacingAndGlyphs" stroke="#000" stroke-width="0.2">SAH</text>
<circle cx="120.00" cy="402.40" r="1.90" fill="#f07f2a"/>
<circle cx="124.00" cy="402.40" r="1.90" fill="#f07f2a"/>
<circle cx="128.00" cy="402.40" r="1.90" fill="#f07f2a"/>
<circle cx="132.00" cy="402.40" r="1.90" fill="#f07f2a"/>
<circle cx="116.50" cy="406.70" r="1.90" fill="#f07f2a"/>
<circle cx="120.50" cy="406.70" r="1.90" fill="#f07f2a"/>
<circle cx="124.50" cy="406.70" r="1.90" fill="#f07f2a"/>
<circle cx="128.50" cy="406.70" r="1.90" fill="#f07f2a"/>
<circle cx="132.50" cy="406.70" r="1.90" fill="#f07f2a"/>
<text x="142.10" y="392.40" font-size="8.8" font-weight="bold" text-anchor="start" fill="#000" textLength="84.00" lengthAdjust="spacingAndGlyphs" stroke="#000" stroke-width="0.2">methl group recipient</text>
<text x="177.80" y="418.50" font-size="8.8" font-weight="bold" text-anchor="start" fill="#000" textLength="19.00" lengthAdjust="spacingAndGlyphs" stroke="#000" stroke-width="0.2">-CH3</text>
<text x="171.20" y="445.20" font-size="8.8" font-weight="bold" text-anchor="start" fill="#000" textLength="17.60" lengthAdjust="spacingAndGlyphs" stroke="#000" stroke-width="0.2">SAM</text>
<circle cx="173.00" cy="449.80" r="1.90" fill="#f07f2a"/>
<circle cx="177.20" cy="449.80" r="1.90" fill="#f07f2a"/>
<circle cx="181.40" cy="449.80" r="1.90" fill="#f07f2a"/>
<circle cx="185.60" cy="449.80" r="1.90" fill="#f07f2a"/>
<circle cx="169.00" cy="454.60" r="1.90" fill="#f07f2a"/>
<circle cx="173.30" cy="454.60" r="1.90" fill="#f07f2a"/>
<circle cx="177.60" cy="454.60" r="1.90" fill="#f07f2a"/>
<circle cx="181.90" cy="454.60" r="1.90" fill="#f07f2a"/>
<circle cx="186.20" cy="454.60" r="1.90" fill="#f07f2a"/>
<text x="105.70" y="443.60" font-size="8.8" font-weight="bold" text-anchor="start" fill="#1f7fd6" textLength="42.70" lengthAdjust="spacingAndGlyphs" stroke="#1f7fd6" stroke-width="0.2">Methionine</text>
<text x="105.70" y="453.70" font-size="8.8" font-weight="bold" text-anchor="start" fill="#1f7fd6" textLength="20.00" lengthAdjust="spacingAndGlyphs" stroke="#1f7fd6" stroke-width="0.2">cycle</text>
<text x="0.40" y="451.10" font-size="8.8" font-weight="bold" text-anchor="start" fill="#000" textLength="31.00" lengthAdjust="spacingAndGlyphs" stroke="#000" stroke-width="0.2">Glucose</text>
<circle cx="3.60" cy="454.50" r="1.90" fill="#f07f2a"/>
<circle cx="8.20" cy="454.50" r="1.90" fill="#f07f2a"/>
<circle cx="12.80" cy="454.50" r="1.90" fill="#f07f2a"/>
<circle cx="17.40" cy="454.50" r="1.90" fill="#f07f2a"/>
<circle cx="22.00" cy="454.50" r="1.90" fill="#f07f2a"/>
<circle cx="26.40" cy="454.50" r="1.90" fill="#f07f2a"/>
<text x="50.30" y="458.40" font-size="8.8" font-weight="bold" text-anchor="start" fill="#000" textLength="55.00" lengthAdjust="spacingAndGlyphs" stroke="#000" stroke-width="0.2">Homocysteine</text>
<text x="4.90" y="481.80" font-size="8.8" font-weight="bold" text-anchor="start" fill="#000" textLength="15.50" lengthAdjust="spacingAndGlyphs" stroke="#000" stroke-width="0.2">3PG</text>
<circle cx="6.60" cy="484.60" r="1.90" fill="#f07f2a"/>
<circle cx="11.20" cy="484.60" r="1.90" fill="#f07f2a"/>
<circle cx="15.80" cy="484.60" r="1.90" fill="#f07f2a"/>
<text x="1.80" y="512.70" font-size="8.8" font-weight="bold" text-anchor="start" fill="#000" textLength="24.30" lengthAdjust="spacingAndGlyphs" stroke="#000" stroke-width="0.2">Serine</text>
<circle cx="6.60" cy="518.90" r="1.90" fill="#f07f2a"/>
<circle cx="11.20" cy="518.90" r="1.90" fill="#f07f2a"/>
<circle cx="15.80" cy="518.90" r="1.90" fill="#f07f2a"/>
<text x="30.70" y="491.30" font-size="8.8" font-weight="bold" text-anchor="start" fill="#000" textLength="15.10" lengthAdjust="spacingAndGlyphs" stroke="#000" stroke-width="0.2">THF</text>
<circle cx="33.70" cy="496.40" r="1.90" fill="#f07f2a"/>
<text x="56.60" y="504.60" font-size="8.8" font-weight="bold" text-anchor="start" fill="#1f7fd6" textLength="24.10" lengthAdjust="spacingAndGlyphs" stroke="#1f7fd6" stroke-width="0.2">Folate</text>
<text x="56.60" y="514.70" font-size="8.8" font-weight="bold" text-anchor="start" fill="#1f7fd6" textLength="20.00" lengthAdjust="spacingAndGlyphs" stroke="#1f7fd6" stroke-width="0.2">cycle</text>
<text x="82.20" y="504.60" font-size="8.8" font-weight="bold" text-anchor="start" fill="#000" textLength="51.30" lengthAdjust="spacingAndGlyphs" stroke="#000" stroke-width="0.2">5-Methyl-THF</text>
<circle cx="104.00" cy="509.20" r="1.90" fill="#f07f2a"/>
<text x="119.50" y="494.10" font-size="8.8" font-weight="bold" text-anchor="start" fill="#000" textLength="43.70" lengthAdjust="spacingAndGlyphs" stroke="#000" stroke-width="0.2">Methionine</text>
<circle cx="139.00" cy="497.70" r="1.90" fill="#f07f2a"/>
<text x="58.80" y="535.60" font-size="8.8" font-weight="bold" text-anchor="start" fill="#000" textLength="19.50" lengthAdjust="spacingAndGlyphs" stroke="#000" stroke-width="0.2">5,10-</text>
<text x="58.80" y="545.40" font-size="8.8" font-weight="bold" text-anchor="start" fill="#000" textLength="39.90" lengthAdjust="spacingAndGlyphs" stroke="#000" stroke-width="0.2">Methylene</text>
<text x="58.80" y="554.50" font-size="8.8" font-weight="bold" text-anchor="start" fill="#000" textLength="18.10" lengthAdjust="spacingAndGlyphs" stroke="#000" stroke-width="0.2">-THF</text>
<circle cx="80.70" cy="552.10" r="1.90" fill="#f07f2a"/>
<text x="26.30" y="566.40" font-size="8.8" font-weight="bold" text-anchor="start" fill="#000" textLength="29.20" lengthAdjust="spacingAndGlyphs" stroke="#000" stroke-width="0.2">Glycine</text>
<circle cx="37.60" cy="571.20" r="1.90" fill="#f07f2a"/>
<circle cx="41.80" cy="571.20" r="1.90" fill="#f07f2a"/>
<text x="31.20" y="584.80" font-size="8.8" font-weight="bold" text-anchor="start" fill="#000" textLength="15.50" lengthAdjust="spacingAndGlyphs" stroke="#000" stroke-width="0.2">R5P</text>
<circle cx="28.00" cy="589.10" r="1.90" fill="#f07f2a"/>
<circle cx="32.50" cy="589.10" r="1.90" fill="#f07f2a"/>
<circle cx="37.00" cy="589.10" r="1.90" fill="#f07f2a"/>
<circle cx="41.50" cy="589.10" r="1.90" fill="#f07f2a"/>
<circle cx="46.00" cy="589.10" r="1.90" fill="#f07f2a"/>
<text x="89.00" y="572.90" font-size="8.8" font-weight="bold" text-anchor="start" fill="#000" textLength="10.30" lengthAdjust="spacingAndGlyphs" stroke="#000" stroke-width="0.2">×2</text>
<text x="107.80" y="559.60" font-size="8.8" font-weight="bold" text-anchor="start" fill="#000" textLength="31.20" lengthAdjust="spacingAndGlyphs" stroke="#000" stroke-width="0.2">Formate</text>
<circle cx="116.80" cy="564.80" r="1.90" fill="#f07f2a"/>
<text x="127.30" y="581.30" font-size="8.8" font-weight="bold" text-anchor="start" fill="#000" textLength="15.60" lengthAdjust="spacingAndGlyphs" stroke="#000" stroke-width="0.2">ATP</text>
<circle cx="126.60" cy="586.20" r="1.90" fill="#f07f2a"/>
<circle cx="131.00" cy="586.20" r="1.90" fill="#f07f2a"/>
<circle cx="135.40" cy="586.20" r="1.90" fill="#f07f2a"/>
<circle cx="139.80" cy="586.20" r="1.90" fill="#f07f2a"/>
<circle cx="122.80" cy="591.40" r="1.90" fill="#f07f2a"/>
<circle cx="127.30" cy="591.40" r="1.90" fill="#f07f2a"/>
<circle cx="131.80" cy="591.40" r="1.90" fill="#f07f2a"/>
<circle cx="136.30" cy="591.40" r="1.90" fill="#f07f2a"/>
<circle cx="140.80" cy="591.40" r="1.90" fill="#f07f2a"/>
<line x1="11.40" y1="460.10" x2="11.40" y2="473.30" stroke="#000" stroke-width="2.0" stroke-linecap="butt"/>
<path d="M6.3 464.9 L11.4 473.6 L16.5 464.9" fill="none" stroke="#000" stroke-width="2.0"/>
<line x1="11.60" y1="492.30" x2="11.60" y2="497.00" stroke="#000" stroke-width="2.0" stroke-linecap="butt"/>
<line x1="11.60" y1="499.00" x2="11.60" y2="504.50" stroke="#000" stroke-width="2.0" stroke-linecap="butt"/>
<path d="M6.6 496.2 L11.8 505 L17 496.2" fill="none" stroke="#000" stroke-width="2.0"/>
<path d="M106.8 399.6 C90 404 74.5 418 73.6 439.5" fill="none" stroke="#000" stroke-width="2.0"/>
<path d="M69.6 433.2 L73.6 442 L77.4 433.2" fill="none" stroke="#000" stroke-width="2.0"/>
<path d="M174 436 C172 424 161 409 149 401" fill="none" stroke="#000" stroke-width="2.0" stroke-linecap="round"/>
<path d="M146.50 398.60 L154.55 400.52 L151.63 401.70 L150.44 403.11 L149.79 406.19Z" fill="#000"/>
<path d="M168.3 421.5 C171 413 175.5 405 179.5 400" fill="none" stroke="#000" stroke-width="2.0" stroke-linecap="round"/>
<path d="M181.00 396.50 L181.21 404.32 L179.43 401.95 L177.84 401.21 L174.87 401.36Z" fill="#000"/>
<path d="M97.4 491.5 C91 476 70 469 50 473.5 C46 474.5 44 476 42.5 477.3" fill="none" stroke="#000" stroke-width="2.0" stroke-linecap="round"/>
<path d="M40.00 479.40 L43.94 472.12 L44.32 475.25 L45.38 476.76 L48.18 478.19Z" fill="#000"/>
<path d="M75.9 464.4 C84 478 97 487 110 490.5" fill="none" stroke="#000" stroke-width="2.0" stroke-linecap="round"/>
<path d="M116.00 492.00 L107.89 493.66 L110.04 491.36 L110.52 489.57 L109.81 486.51Z" fill="#000"/>
<path d="M144.6 487.6 C156 484 165 477 169.8 467.5" fill="none" stroke="#000" stroke-width="2.0" stroke-linecap="round"/>
<path d="M172.00 463.20 L171.79 471.47 L170.04 468.86 L168.40 467.99 L165.26 468.00Z" fill="#000"/>
<path d="M146.8 580.8 C172 572 182 545 181.8 515 C181.6 495 179 478 177.2 470" fill="none" stroke="#000" stroke-width="2.0" stroke-linecap="round"/>
<path d="M176.50 464.80 L180.83 471.85 L177.94 470.62 L176.09 470.78 L173.46 472.49Z" fill="#000"/>
<path d="M29.4 501.2 C30.2 519 40 530 52 534.7" fill="none" stroke="#000" stroke-width="2.0" stroke-linecap="round"/>
<path d="M57.20 536.30 L48.98 537.25 L51.32 535.14 L51.95 533.41 L51.51 530.29Z" fill="#000"/>
<path d="M23.7 518.4 C40 521.5 46 534 45.4 554" fill="none" stroke="#000" stroke-width="2.0" stroke-linecap="round"/>
<path d="M45.40 560.60 L41.70 553.20 L44.48 554.68 L46.32 554.68 L49.10 553.20Z" fill="#000"/>
<path d="M77 533.5 C88 532 95 524 97.5 517" fill="none" stroke="#000" stroke-width="2.0" stroke-linecap="round"/>
<path d="M99.00 512.30 L99.95 520.52 L97.84 518.18 L96.11 517.55 L92.99 517.99Z" fill="#000"/>
<line x1="49.00" y1="580.10" x2="121.50" y2="580.10" stroke="#000" stroke-width="2.1" stroke-linecap="butt"/>
<path d="M115.3 574.9 L122.4 580.1 L115.3 585.3" fill="none" stroke="#000" stroke-width="2.1"/>
<path d="M58.4 559.2 C70 557.6 76 565 77.4 573" fill="none" stroke="#000" stroke-width="2.0" stroke-linecap="round"/>
<path d="M77.60 579.20 L73.90 571.80 L76.67 573.28 L78.52 573.28 L81.30 571.80Z" fill="#000"/>
<path d="M102.2 558.2 C90 558 83 565 81.8 573" fill="none" stroke="#000" stroke-width="2.0" stroke-linecap="round"/>
<path d="M81.70 579.20 L78.00 571.80 L80.78 573.28 L82.62 573.28 L85.40 571.80Z" fill="#000"/>
<rect x="221.50" y="424.00" width="14.65" height="20.13" fill="#ff8282"/>
<rect x="236.10" y="424.00" width="14.65" height="20.13" fill="#ff6262"/>
<rect x="250.70" y="424.00" width="14.65" height="20.13" fill="#ff6666"/>
<rect x="265.30" y="424.00" width="14.65" height="20.13" fill="#ff8686"/>
<rect x="279.90" y="424.00" width="14.65" height="20.13" fill="#ffa2a2"/>
<rect x="294.50" y="424.00" width="14.65" height="20.13" fill="#6070f2"/>
<rect x="309.10" y="424.00" width="14.65" height="20.13" fill="#b2baf6"/>
<rect x="323.70" y="424.00" width="14.65" height="20.13" fill="#a2aaf2"/>
<rect x="338.30" y="424.00" width="14.65" height="20.13" fill="#8a92f2"/>
<rect x="352.90" y="424.00" width="14.65" height="20.13" fill="#7080f2"/>
<rect x="367.50" y="424.00" width="14.65" height="20.13" fill="#d8dcf8"/>
<rect x="221.50" y="444.08" width="14.65" height="20.13" fill="#ff0000"/>
<rect x="236.10" y="444.08" width="14.65" height="20.13" fill="#ff3030"/>
<rect x="250.70" y="444.08" width="14.65" height="20.13" fill="#fdeeee"/>
<rect x="265.30" y="444.08" width="14.65" height="20.13" fill="#f0f2fd"/>
<rect x="279.90" y="444.08" width="14.65" height="20.13" fill="#eaecfb"/>
<rect x="294.50" y="444.08" width="14.65" height="20.13" fill="#b2baf6"/>
<rect x="309.10" y="444.08" width="14.65" height="20.13" fill="#b2baf6"/>
<rect x="323.70" y="444.08" width="14.65" height="20.13" fill="#aab2f5"/>
<rect x="338.30" y="444.08" width="14.65" height="20.13" fill="#9aa2f2"/>
<rect x="352.90" y="444.08" width="14.65" height="20.13" fill="#9aa2f2"/>
<rect x="367.50" y="444.08" width="14.65" height="20.13" fill="#d8dcf8"/>
<rect x="221.50" y="464.16" width="14.65" height="20.13" fill="#ffb2b2"/>
<rect x="236.10" y="464.16" width="14.65" height="20.13" fill="#ff7272"/>
<rect x="250.70" y="464.16" width="14.65" height="20.13" fill="#ff4a4a"/>
<rect x="265.30" y="464.16" width="14.65" height="20.13" fill="#ffd8d8"/>
<rect x="279.90" y="464.16" width="14.65" height="20.13" fill="#ff8282"/>
<rect x="294.50" y="464.16" width="14.65" height="20.13" fill="#3a4af5"/>
<rect x="309.10" y="464.16" width="14.65" height="20.13" fill="#b8c0f5"/>
<rect x="323.70" y="464.16" width="14.65" height="20.13" fill="#b2baf6"/>
<rect x="338.30" y="464.16" width="14.65" height="20.13" fill="#aab2f5"/>
<rect x="352.90" y="464.16" width="14.65" height="20.13" fill="#5565f2"/>
<rect x="367.50" y="464.16" width="14.65" height="20.13" fill="#ffe0e0"/>
<rect x="221.50" y="484.24" width="14.65" height="20.13" fill="#ff0808"/>
<rect x="236.10" y="484.24" width="14.65" height="20.13" fill="#ffaaaa"/>
<rect x="250.70" y="484.24" width="14.65" height="20.13" fill="#ffa6a6"/>
<rect x="265.30" y="484.24" width="14.65" height="20.13" fill="#ffa2a2"/>
<rect x="279.90" y="484.24" width="14.65" height="20.13" fill="#fde8e8"/>
<rect x="294.50" y="484.24" width="14.65" height="20.13" fill="#c8cff8"/>
<rect x="309.10" y="484.24" width="14.65" height="20.13" fill="#e8eafb"/>
<rect x="323.70" y="484.24" width="14.65" height="20.13" fill="#9aa2f2"/>
<rect x="338.30" y="484.24" width="14.65" height="20.13" fill="#9aa2f2"/>
<rect x="352.90" y="484.24" width="14.65" height="20.13" fill="#5565f2"/>
<rect x="367.50" y="484.24" width="14.65" height="20.13" fill="#8090f2"/>
<rect x="221.50" y="504.32" width="14.65" height="20.13" fill="#ffa2a2"/>
<rect x="236.10" y="504.32" width="14.65" height="20.13" fill="#f5f7fd"/>
<rect x="250.70" y="504.32" width="14.65" height="20.13" fill="#fde0e0"/>
<rect x="265.30" y="504.32" width="14.65" height="20.13" fill="#ff5252"/>
<rect x="279.90" y="504.32" width="14.65" height="20.13" fill="#ff6262"/>
<rect x="294.50" y="504.32" width="14.65" height="20.13" fill="#fde0e0"/>
<rect x="309.10" y="504.32" width="14.65" height="20.13" fill="#7080f2"/>
<rect x="323.70" y="504.32" width="14.65" height="20.13" fill="#4050f5"/>
<rect x="338.30" y="504.32" width="14.65" height="20.13" fill="#f8f9fe"/>
<rect x="352.90" y="504.32" width="14.65" height="20.13" fill="#4050f5"/>
<rect x="367.50" y="504.32" width="14.65" height="20.13" fill="#ffd8d8"/>
<rect x="221.50" y="524.40" width="14.65" height="20.13" fill="#aab2f5"/>
<rect x="236.10" y="524.40" width="14.65" height="20.13" fill="#fbfbff"/>
<rect x="250.70" y="524.40" width="14.65" height="20.13" fill="#ff4242"/>
<rect x="265.30" y="524.40" width="14.65" height="20.13" fill="#ffb2b2"/>
<rect x="279.90" y="524.40" width="14.65" height="20.13" fill="#ffcccc"/>
<rect x="294.50" y="524.40" width="14.65" height="20.13" fill="#1010ff"/>
<rect x="309.10" y="524.40" width="14.65" height="20.13" fill="#6070f2"/>
<rect x="323.70" y="524.40" width="14.65" height="20.13" fill="#ffd8d8"/>
<rect x="338.30" y="524.40" width="14.65" height="20.13" fill="#ffd0d0"/>
<rect x="352.90" y="524.40" width="14.65" height="20.13" fill="#fdf5f0"/>
<rect x="367.50" y="524.40" width="14.65" height="20.13" fill="#ffa2a2"/>
<rect x="221.50" y="544.48" width="14.65" height="20.13" fill="#a2aaf2"/>
<rect x="236.10" y="544.48" width="14.65" height="20.13" fill="#a2aaf2"/>
<rect x="250.70" y="544.48" width="14.65" height="20.13" fill="#b2baf6"/>
<rect x="265.30" y="544.48" width="14.65" height="20.13" fill="#9aa2f2"/>
<rect x="279.90" y="544.48" width="14.65" height="20.13" fill="#8a92f2"/>
<rect x="294.50" y="544.48" width="14.65" height="20.13" fill="#fde8e8"/>
<rect x="309.10" y="544.48" width="14.65" height="20.13" fill="#ffa2a2"/>
<rect x="323.70" y="544.48" width="14.65" height="20.13" fill="#ff0000"/>
<rect x="338.30" y="544.48" width="14.65" height="20.13" fill="#fde0e0"/>
<rect x="352.90" y="544.48" width="14.65" height="20.13" fill="#ff6a6a"/>
<rect x="367.50" y="544.48" width="14.65" height="20.13" fill="#c8cff8"/>
<rect x="221.50" y="564.56" width="14.65" height="20.13" fill="#ffd0d0"/>
<rect x="236.10" y="564.56" width="14.65" height="20.13" fill="#ffb8b8"/>
<rect x="250.70" y="564.56" width="14.65" height="20.13" fill="#ff7a7a"/>
<rect x="265.30" y="564.56" width="14.65" height="20.13" fill="#ff7a7a"/>
<rect x="279.90" y="564.56" width="14.65" height="20.13" fill="#ff5a5a"/>
<rect x="294.50" y="564.56" width="14.65" height="20.13" fill="#7080f2"/>
<rect x="309.10" y="564.56" width="14.65" height="20.13" fill="#6a7af2"/>
<rect x="323.70" y="564.56" width="14.65" height="20.13" fill="#5565f2"/>
<rect x="338.30" y="564.56" width="14.65" height="20.13" fill="#c8cff8"/>
<rect x="352.90" y="564.56" width="14.65" height="20.13" fill="#7888f2"/>
<rect x="367.50" y="564.56" width="14.65" height="20.13" fill="#ffc2c2"/>
<rect x="221.50" y="421.10" width="73.00" height="2.20" fill="#80c8f0"/>
<rect x="294.50" y="421.10" width="87.60" height="2.20" fill="#f0a464"/>
<text x="261.5" y="416" font-size="8.4" font-weight="bold" font-style="italic" text-anchor="middle" stroke="#000" stroke-width="0.2">Phgdh<tspan font-size="5" dy="-3.4">fl/fl</tspan></text>
<text x="344.7" y="416" font-size="8.4" font-weight="bold" font-style="italic" text-anchor="middle" stroke="#000" stroke-width="0.2">Phgdh<tspan font-size="5" dy="-3.4">fl/fl</tspan><tspan dy="3.4">Lyz2</tspan><tspan font-size="5" dy="-3.4">cre</tspan></text>
<text x="197.70" y="419.00" font-size="7.2" font-weight="bold" text-anchor="start" fill="#000" textLength="19.00" lengthAdjust="spacingAndGlyphs" letter-spacing="-0.3" stroke="#000" stroke-width="0.2">Group</text>
<text x="217.00" y="436.54" font-size="7" font-weight="bold" text-anchor="end" fill="#000" textLength="19.50" lengthAdjust="spacingAndGlyphs" letter-spacing="-0.4" stroke="#000" stroke-width="0.2">Serine</text>
<text x="217.00" y="456.62" font-size="7" font-weight="bold" text-anchor="end" fill="#000" textLength="20.50" lengthAdjust="spacingAndGlyphs" letter-spacing="-0.4" stroke="#000" stroke-width="0.2">Glycine</text>
<text x="217.00" y="476.70" font-size="7" font-weight="bold" text-anchor="end" fill="#000" textLength="11.00" lengthAdjust="spacingAndGlyphs" letter-spacing="-0.4" stroke="#000" stroke-width="0.2">GSH</text>
<text x="217.00" y="496.78" font-size="7" font-weight="bold" text-anchor="end" fill="#000" textLength="28.00" lengthAdjust="spacingAndGlyphs" letter-spacing="-0.4" stroke="#000" stroke-width="0.2">Methionine</text>
<text x="217.00" y="516.86" font-size="7" font-weight="bold" text-anchor="end" fill="#000" textLength="11.00" lengthAdjust="spacingAndGlyphs" letter-spacing="-0.4" stroke="#000" stroke-width="0.2">ATP</text>
<text x="217.00" y="536.94" font-size="7" font-weight="bold" text-anchor="end" fill="#000" textLength="12.00" lengthAdjust="spacingAndGlyphs" letter-spacing="-0.4" stroke="#000" stroke-width="0.2">SAM</text>
<text x="217.00" y="557.02" font-size="7" font-weight="bold" text-anchor="end" fill="#000" textLength="11.00" lengthAdjust="spacingAndGlyphs" letter-spacing="-0.4" stroke="#000" stroke-width="0.2">SAH</text>
<text x="217.00" y="577.10" font-size="7" font-weight="bold" text-anchor="end" fill="#000" textLength="21.00" lengthAdjust="spacingAndGlyphs" letter-spacing="-0.4" stroke="#000" stroke-width="0.2">SAMSAH</text>
<defs><linearGradient id="cbE" x1="0" y1="0" x2="0" y2="1"><stop offset="0" stop-color="#ff0000"/><stop offset="0.5" stop-color="#ffffff"/><stop offset="1" stop-color="#0000ff"/></linearGradient></defs>
<rect x="384.30" y="424.30" width="4.50" height="43.60" fill="url(#cbE)"/>
<text x="395.50" y="419.20" font-size="6" font-weight="bold" text-anchor="start" fill="#000" stroke="#000" stroke-width="0.2">2</text>
<text x="395.50" y="430.40" font-size="6" font-weight="bold" text-anchor="start" fill="#000" stroke="#000" stroke-width="0.2">1</text>
<text x="395.50" y="441.20" font-size="6" font-weight="bold" text-anchor="start" fill="#000" stroke="#000" stroke-width="0.2">0</text>
<text x="393.60" y="452.20" font-size="6" font-weight="bold" text-anchor="start" fill="#000" stroke="#000" stroke-width="0.2">-1</text>
<text x="393.60" y="463.10" font-size="6" font-weight="bold" text-anchor="start" fill="#000" stroke="#000" stroke-width="0.2">-2</text>
<text x="405.80" y="381.60" font-size="12" font-weight="bold" text-anchor="start" fill="#000" stroke="#000" stroke-width="0.2">f</text>
<circle cx="454.90" cy="391.30" r="1.90" fill="#6a6ae8" stroke="#222266" stroke-width="0.8"/>
<text x="462.3" y="394.6" font-size="8" font-weight="bold" font-style="italic" stroke="#000" stroke-width="0.2">Phgdh<tspan font-size="5.2" dy="-3.3">fl/fl</tspan></text>
<rect x="521.60" y="389.30" width="4.10" height="4.10" fill="#ff7c7c"/>
<text x="528.8" y="394.6" font-size="8" font-weight="bold" font-style="italic" stroke="#000" stroke-width="0.2">Phgdh<tspan font-size="5.2" dy="-3.3">fl/fl</tspan><tspan dy="3.3">Lyz2</tspan><tspan font-size="5.2" dy="-3.3">cre</tspan></text>
<line x1="449.90" y1="424.40" x2="449.90" y2="460.00" stroke="#000" stroke-width="1.7" stroke-linecap="butt"/>
<line x1="449.90" y1="470.60" x2="449.90" y2="504.00" stroke="#000" stroke-width="1.7" stroke-linecap="butt"/>
<line x1="449.90" y1="514.70" x2="449.90" y2="556.80" stroke="#000" stroke-width="1.7" stroke-linecap="butt"/>
<line x1="445.50" y1="455.50" x2="454.50" y2="464.40" stroke="#000" stroke-width="1.9" stroke-linecap="butt"/>
<line x1="445.50" y1="466.40" x2="454.50" y2="474.90" stroke="#000" stroke-width="1.9" stroke-linecap="butt"/>
<line x1="445.50" y1="499.90" x2="454.50" y2="508.10" stroke="#000" stroke-width="1.9" stroke-linecap="butt"/>
<line x1="445.50" y1="510.40" x2="454.50" y2="519.00" stroke="#000" stroke-width="1.9" stroke-linecap="butt"/>
<line x1="443.40" y1="430.20" x2="449.90" y2="430.20" stroke="#000" stroke-width="1.7" stroke-linecap="butt"/>
<text x="442.10" y="433.00" font-size="7.2" font-weight="bold" text-anchor="end" textLength="21.69" lengthAdjust="spacingAndGlyphs" stroke="#000" stroke-width="0.2">6×10<tspan font-size="4.46" dy="-2.59">7</tspan></text>
<line x1="443.40" y1="444.40" x2="449.90" y2="444.40" stroke="#000" stroke-width="1.7" stroke-linecap="butt"/>
<text x="442.10" y="447.20" font-size="7.2" font-weight="bold" text-anchor="end" textLength="21.69" lengthAdjust="spacingAndGlyphs" stroke="#000" stroke-width="0.2">3×10<tspan font-size="4.46" dy="-2.59">7</tspan></text>
<line x1="443.40" y1="479.40" x2="449.90" y2="479.40" stroke="#000" stroke-width="1.7" stroke-linecap="butt"/>
<text x="442.10" y="482.20" font-size="7.2" font-weight="bold" text-anchor="end" textLength="21.69" lengthAdjust="spacingAndGlyphs" stroke="#000" stroke-width="0.2">2×10<tspan font-size="4.46" dy="-2.59">5</tspan></text>
<line x1="443.40" y1="497.10" x2="449.90" y2="497.10" stroke="#000" stroke-width="1.7" stroke-linecap="butt"/>
<text x="442.10" y="499.90" font-size="7.2" font-weight="bold" text-anchor="end" textLength="21.69" lengthAdjust="spacingAndGlyphs" stroke="#000" stroke-width="0.2">1×10<tspan font-size="4.46" dy="-2.59">5</tspan></text>
<line x1="443.40" y1="520.40" x2="449.90" y2="520.40" stroke="#000" stroke-width="1.7" stroke-linecap="butt"/>
<text x="442.10" y="523.20" font-size="7.2" font-weight="bold" text-anchor="end" textLength="21.69" lengthAdjust="spacingAndGlyphs" stroke="#000" stroke-width="0.2">6×10<tspan font-size="4.46" dy="-2.59">4</tspan></text>
<line x1="443.40" y1="538.60" x2="449.90" y2="538.60" stroke="#000" stroke-width="1.7" stroke-linecap="butt"/>
<text x="442.10" y="541.40" font-size="7.2" font-weight="bold" text-anchor="end" textLength="21.69" lengthAdjust="spacingAndGlyphs" stroke="#000" stroke-width="0.2">3×10<tspan font-size="4.46" dy="-2.59">4</tspan></text>
<line x1="443.40" y1="556.80" x2="449.90" y2="556.80" stroke="#000" stroke-width="1.7" stroke-linecap="butt"/>
<text x="441.40" y="559.40" font-size="7.2" font-weight="bold" text-anchor="end" fill="#000" stroke="#000" stroke-width="0.2">0</text>
<line x1="449.90" y1="556.80" x2="682.00" y2="556.80" stroke="#000" stroke-width="1.7" stroke-linecap="butt"/>
<text x="412.80" y="491.20" font-size="8" font-weight="bold" text-anchor="middle" fill="#000" transform="rotate(-90 412.80 491.20)" textLength="40.00" lengthAdjust="spacingAndGlyphs" stroke="#000" stroke-width="0.2">Peak area</text>
<line x1="469.00" y1="474.40" x2="469.00" y2="474.00" stroke="#5252f2" stroke-width="2.08" stroke-linecap="butt"/>
<line x1="466.00" y1="474.00" x2="472.00" y2="474.00" stroke="#5252f2" stroke-width="2.08" stroke-linecap="butt"/>
<path d="M464.10 556.80 L464.10 475.70 L473.90 475.70 L473.90 556.80" fill="none" stroke="#5252f2" stroke-width="2.6" stroke-linejoin="miter"/>
<circle cx="465.70" cy="473.50" r="2.10" fill="#5252f2"/>
<circle cx="468.10" cy="475.00" r="2.10" fill="#5252f2"/>
<circle cx="470.50" cy="473.50" r="2.10" fill="#5252f2"/>
<circle cx="472.90" cy="474.50" r="2.10" fill="#5252f2"/>
<line x1="481.40" y1="491.70" x2="481.40" y2="490.50" stroke="#ff7c7c" stroke-width="2.08" stroke-linecap="butt"/>
<line x1="478.40" y1="490.50" x2="484.40" y2="490.50" stroke="#ff7c7c" stroke-width="2.08" stroke-linecap="butt"/>
<path d="M476.50 556.80 L476.50 493.00 L486.30 493.00 L486.30 556.80" fill="none" stroke="#ff7c7c" stroke-width="2.6" stroke-linejoin="miter"/>
<rect x="476.00" y="487.00" width="4.00" height="4.00" fill="#ff7c7c"/>
<rect x="478.40" y="490.00" width="4.00" height="4.00" fill="#ff7c7c"/>
<rect x="480.80" y="489.00" width="4.00" height="4.00" fill="#ff7c7c"/>
<rect x="483.20" y="490.50" width="4.00" height="4.00" fill="#ff7c7c"/>
<line x1="475.20" y1="556.80" x2="475.20" y2="562.80" stroke="#000" stroke-width="1.7" stroke-linecap="butt"/>
<text x="479.40" y="569.80" font-size="7.8" font-weight="bold" font-style="normal" text-anchor="end" transform="rotate(-45 479.40 569.80)" stroke="#000" stroke-width="0.2"><tspan dy="0.00">Serine</tspan></text>
<line x1="506.20" y1="494.20" x2="506.20" y2="486.50" stroke="#5252f2" stroke-width="2.08" stroke-linecap="butt"/>
<line x1="503.20" y1="486.50" x2="509.20" y2="486.50" stroke="#5252f2" stroke-width="2.08" stroke-linecap="butt"/>
<path d="M501.30 556.80 L501.30 495.50 L511.10 495.50 L511.10 556.80" fill="none" stroke="#5252f2" stroke-width="2.6" stroke-linejoin="miter"/>
<circle cx="502.90" cy="485.00" r="2.10" fill="#5252f2"/>
<circle cx="505.30" cy="490.00" r="2.10" fill="#5252f2"/>
<circle cx="507.70" cy="497.00" r="2.10" fill="#5252f2"/>
<circle cx="510.10" cy="494.00" r="2.10" fill="#5252f2"/>
<line x1="518.60" y1="522.40" x2="518.60" y2="520.50" stroke="#ff7c7c" stroke-width="2.08" stroke-linecap="butt"/>
<line x1="515.60" y1="520.50" x2="521.60" y2="520.50" stroke="#ff7c7c" stroke-width="2.08" stroke-linecap="butt"/>
<path d="M513.70 556.80 L513.70 523.70 L523.50 523.70 L523.50 556.80" fill="none" stroke="#ff7c7c" stroke-width="2.6" stroke-linejoin="miter"/>
<rect x="513.20" y="517.00" width="4.00" height="4.00" fill="#ff7c7c"/>
<rect x="515.60" y="520.00" width="4.00" height="4.00" fill="#ff7c7c"/>
<rect x="518.00" y="522.00" width="4.00" height="4.00" fill="#ff7c7c"/>
<rect x="520.40" y="520.50" width="4.00" height="4.00" fill="#ff7c7c"/>
<line x1="512.40" y1="556.80" x2="512.40" y2="562.80" stroke="#000" stroke-width="1.7" stroke-linecap="butt"/>
<text x="516.60" y="569.80" font-size="7.8" font-weight="bold" font-style="normal" text-anchor="end" transform="rotate(-45 516.60 569.80)" stroke="#000" stroke-width="0.2"><tspan dy="0.00">Glycine</tspan></text>
<line x1="544.20" y1="546.60" x2="544.20" y2="545.00" stroke="#5252f2" stroke-width="2.08" stroke-linecap="butt"/>
<line x1="541.20" y1="545.00" x2="547.20" y2="545.00" stroke="#5252f2" stroke-width="2.08" stroke-linecap="butt"/>
<path d="M539.30 556.80 L539.30 547.90 L549.10 547.90 L549.10 556.80" fill="none" stroke="#5252f2" stroke-width="2.6" stroke-linejoin="miter"/>
<circle cx="540.90" cy="544.00" r="2.10" fill="#5252f2"/>
<circle cx="543.30" cy="547.00" r="2.10" fill="#5252f2"/>
<circle cx="545.70" cy="546.50" r="2.10" fill="#5252f2"/>
<circle cx="548.10" cy="548.00" r="2.10" fill="#5252f2"/>
<line x1="556.60" y1="549.40" x2="556.60" y2="548.50" stroke="#ff7c7c" stroke-width="2.08" stroke-linecap="butt"/>
<line x1="553.60" y1="548.50" x2="559.60" y2="548.50" stroke="#ff7c7c" stroke-width="2.08" stroke-linecap="butt"/>
<path d="M551.70 556.80 L551.70 550.70 L561.50 550.70 L561.50 556.80" fill="none" stroke="#ff7c7c" stroke-width="2.6" stroke-linejoin="miter"/>
<rect x="551.20" y="546.00" width="4.00" height="4.00" fill="#ff7c7c"/>
<rect x="553.60" y="547.50" width="4.00" height="4.00" fill="#ff7c7c"/>
<rect x="556.00" y="547.00" width="4.00" height="4.00" fill="#ff7c7c"/>
<rect x="558.40" y="548.00" width="4.00" height="4.00" fill="#ff7c7c"/>
<line x1="550.40" y1="556.80" x2="550.40" y2="562.80" stroke="#000" stroke-width="1.7" stroke-linecap="butt"/>
<text x="554.60" y="569.80" font-size="7.8" font-weight="bold" font-style="normal" text-anchor="end" transform="rotate(-45 554.60 569.80)" stroke="#000" stroke-width="0.2"><tspan dy="0.00">Methionine</tspan></text>
<line x1="581.50" y1="435.80" x2="581.50" y2="430.50" stroke="#5252f2" stroke-width="2.08" stroke-linecap="butt"/>
<line x1="578.50" y1="430.50" x2="584.50" y2="430.50" stroke="#5252f2" stroke-width="2.08" stroke-linecap="butt"/>
<path d="M576.60 556.80 L576.60 437.10 L586.40 437.10 L586.40 556.80" fill="none" stroke="#5252f2" stroke-width="2.6" stroke-linejoin="miter"/>
<circle cx="578.20" cy="427.00" r="2.10" fill="#5252f2"/>
<circle cx="580.60" cy="428.50" r="2.10" fill="#5252f2"/>
<circle cx="583.00" cy="441.00" r="2.10" fill="#5252f2"/>
<circle cx="585.40" cy="440.00" r="2.10" fill="#5252f2"/>
<line x1="593.90" y1="448.70" x2="593.90" y2="443.50" stroke="#ff7c7c" stroke-width="2.08" stroke-linecap="butt"/>
<line x1="590.90" y1="443.50" x2="596.90" y2="443.50" stroke="#ff7c7c" stroke-width="2.08" stroke-linecap="butt"/>
<path d="M589.00 556.80 L589.00 450.00 L598.80 450.00 L598.80 556.80" fill="none" stroke="#ff7c7c" stroke-width="2.6" stroke-linejoin="miter"/>
<rect x="588.50" y="439.50" width="4.00" height="4.00" fill="#ff7c7c"/>
<rect x="590.90" y="442.00" width="4.00" height="4.00" fill="#ff7c7c"/>
<rect x="593.30" y="445.00" width="4.00" height="4.00" fill="#ff7c7c"/>
<rect x="595.70" y="448.00" width="4.00" height="4.00" fill="#ff7c7c"/>
<line x1="587.70" y1="556.80" x2="587.70" y2="562.80" stroke="#000" stroke-width="1.7" stroke-linecap="butt"/>
<text x="591.90" y="569.80" font-size="7.8" font-weight="bold" font-style="normal" text-anchor="end" transform="rotate(-45 591.90 569.80)" stroke="#000" stroke-width="0.2"><tspan dy="0.00">ATP</tspan></text>
<line x1="618.80" y1="531.20" x2="618.80" y2="530.00" stroke="#5252f2" stroke-width="2.08" stroke-linecap="butt"/>
<line x1="615.80" y1="530.00" x2="621.80" y2="530.00" stroke="#5252f2" stroke-width="2.08" stroke-linecap="butt"/>
<path d="M613.90 556.80 L613.90 532.50 L623.70 532.50 L623.70 556.80" fill="none" stroke="#5252f2" stroke-width="2.6" stroke-linejoin="miter"/>
<circle cx="615.50" cy="526.00" r="2.10" fill="#5252f2"/>
<circle cx="617.90" cy="535.00" r="2.10" fill="#5252f2"/>
<circle cx="620.30" cy="531.00" r="2.10" fill="#5252f2"/>
<circle cx="622.70" cy="530.00" r="2.10" fill="#5252f2"/>
<line x1="631.20" y1="530.00" x2="631.20" y2="527.00" stroke="#ff7c7c" stroke-width="2.08" stroke-linecap="butt"/>
<line x1="628.20" y1="527.00" x2="634.20" y2="527.00" stroke="#ff7c7c" stroke-width="2.08" stroke-linecap="butt"/>
<path d="M626.30 556.80 L626.30 531.30 L636.10 531.30 L636.10 556.80" fill="none" stroke="#ff7c7c" stroke-width="2.6" stroke-linejoin="miter"/>
<rect x="625.80" y="524.00" width="4.00" height="4.00" fill="#ff7c7c"/>
<rect x="628.20" y="529.00" width="4.00" height="4.00" fill="#ff7c7c"/>
<rect x="630.60" y="532.00" width="4.00" height="4.00" fill="#ff7c7c"/>
<rect x="633.00" y="525.00" width="4.00" height="4.00" fill="#ff7c7c"/>
<line x1="625.00" y1="556.80" x2="625.00" y2="562.80" stroke="#000" stroke-width="1.7" stroke-linecap="butt"/>
<text x="629.20" y="569.80" font-size="7.8" font-weight="bold" font-style="normal" text-anchor="end" transform="rotate(-45 629.20 569.80)" stroke="#000" stroke-width="0.2"><tspan dy="0.00">SAM</tspan></text>
<line x1="656.80" y1="553.40" x2="656.80" y2="552.80" stroke="#5252f2" stroke-width="2.08" stroke-linecap="butt"/>
<line x1="653.80" y1="552.80" x2="659.80" y2="552.80" stroke="#5252f2" stroke-width="2.08" stroke-linecap="butt"/>
<path d="M651.90 556.80 L651.90 554.70 L661.70 554.70 L661.70 556.80" fill="none" stroke="#5252f2" stroke-width="2.6" stroke-linejoin="miter"/>
<circle cx="653.50" cy="552.50" r="2.10" fill="#5252f2"/>
<circle cx="655.90" cy="553.50" r="2.10" fill="#5252f2"/>
<circle cx="658.30" cy="553.00" r="2.10" fill="#5252f2"/>
<circle cx="660.70" cy="553.50" r="2.10" fill="#5252f2"/>
<line x1="669.20" y1="542.00" x2="669.20" y2="535.50" stroke="#ff7c7c" stroke-width="2.08" stroke-linecap="butt"/>
<line x1="666.20" y1="535.50" x2="672.20" y2="535.50" stroke="#ff7c7c" stroke-width="2.08" stroke-linecap="butt"/>
<path d="M664.30 556.80 L664.30 543.30 L674.10 543.30 L674.10 556.80" fill="none" stroke="#ff7c7c" stroke-width="2.6" stroke-linejoin="miter"/>
<rect x="663.80" y="528.00" width="4.00" height="4.00" fill="#ff7c7c"/>
<rect x="666.20" y="538.00" width="4.00" height="4.00" fill="#ff7c7c"/>
<rect x="668.60" y="544.00" width="4.00" height="4.00" fill="#ff7c7c"/>
<rect x="671.00" y="547.00" width="4.00" height="4.00" fill="#ff7c7c"/>
<line x1="663.00" y1="556.80" x2="663.00" y2="562.80" stroke="#000" stroke-width="1.7" stroke-linecap="butt"/>
<text x="667.20" y="569.80" font-size="7.8" font-weight="bold" font-style="normal" text-anchor="end" transform="rotate(-45 667.20 569.80)" stroke="#000" stroke-width="0.2"><tspan dy="0.00">SAH</tspan></text>
<line x1="469.50" y1="462.10" x2="482.80" y2="462.10" stroke="#000" stroke-width="2.0" stroke-linecap="butt"/>
<text x="476.15" y="458.20" font-size="7.8" font-weight="bold" font-style="italic" text-anchor="middle" fill="#000" stroke="#000" stroke-width="0.2">&lt;0.0001</text>
<line x1="505.90" y1="469.30" x2="518.90" y2="469.30" stroke="#000" stroke-width="2.0" stroke-linecap="butt"/>
<text x="512.40" y="465.60" font-size="7.8" font-weight="bold" font-style="italic" text-anchor="middle" fill="#000" stroke="#000" stroke-width="0.2">0.0241</text>
<line x1="544.70" y1="536.50" x2="557.80" y2="536.50" stroke="#000" stroke-width="2.0" stroke-linecap="butt"/>
<text x="551.25" y="532.60" font-size="7.8" font-weight="bold" font-style="italic" text-anchor="middle" fill="#000" stroke="#000" stroke-width="0.2">0.0017</text>
<line x1="581.60" y1="421.50" x2="594.50" y2="421.50" stroke="#000" stroke-width="2.0" stroke-linecap="butt"/>
<text x="588.05" y="417.40" font-size="7.8" font-weight="bold" font-style="italic" text-anchor="middle" fill="#000" stroke="#000" stroke-width="0.2">0.0177</text>
<line x1="617.80" y1="514.70" x2="630.70" y2="514.70" stroke="#000" stroke-width="2.0" stroke-linecap="butt"/>
<text x="624.25" y="511.60" font-size="7.8" font-weight="bold" font-style="italic" text-anchor="middle" fill="#000" stroke="#000" stroke-width="0.2">0.2962</text>
<line x1="657.20" y1="518.80" x2="669.90" y2="518.80" stroke="#000" stroke-width="2.0" stroke-linecap="butt"/>
<text x="663.55" y="514.60" font-size="7.8" font-weight="bold" font-style="italic" text-anchor="middle" fill="#000" stroke="#000" stroke-width="0.2">0.0324</text>
<line x1="633.30" y1="394.50" x2="633.30" y2="444.60" stroke="#000" stroke-width="1.7" stroke-linecap="butt"/>
<line x1="626.80" y1="444.60" x2="633.30" y2="444.60" stroke="#000" stroke-width="1.7" stroke-linecap="butt"/>
<text x="625.00" y="447.30" font-size="7.6" font-weight="bold" text-anchor="end" fill="#000" stroke="#000" stroke-width="0.2">0</text>
<line x1="626.80" y1="432.08" x2="633.30" y2="432.08" stroke="#000" stroke-width="1.7" stroke-linecap="butt"/>
<text x="625.00" y="434.78" font-size="7.6" font-weight="bold" text-anchor="end" fill="#000" stroke="#000" stroke-width="0.2">2</text>
<line x1="626.80" y1="419.55" x2="633.30" y2="419.55" stroke="#000" stroke-width="1.7" stroke-linecap="butt"/>
<text x="625.00" y="422.25" font-size="7.6" font-weight="bold" text-anchor="end" fill="#000" stroke="#000" stroke-width="0.2">4</text>
<line x1="626.80" y1="407.02" x2="633.30" y2="407.02" stroke="#000" stroke-width="1.7" stroke-linecap="butt"/>
<text x="625.00" y="409.72" font-size="7.6" font-weight="bold" text-anchor="end" fill="#000" stroke="#000" stroke-width="0.2">6</text>
<line x1="626.80" y1="394.50" x2="633.30" y2="394.50" stroke="#000" stroke-width="1.7" stroke-linecap="butt"/>
<text x="625.00" y="397.20" font-size="7.6" font-weight="bold" text-anchor="end" fill="#000" stroke="#000" stroke-width="0.2">8</text>
<line x1="633.30" y1="444.60" x2="683.00" y2="444.60" stroke="#000" stroke-width="1.7" stroke-linecap="butt"/>
<line x1="647.20" y1="444.60" x2="647.20" y2="450.10" stroke="#000" stroke-width="1.7" stroke-linecap="butt"/>
<line x1="668.50" y1="444.60" x2="668.50" y2="450.10" stroke="#000" stroke-width="1.7" stroke-linecap="butt"/>
<line x1="647.55" y1="406.80" x2="647.55" y2="402.50" stroke="#5252f2" stroke-width="2.08" stroke-linecap="butt"/>
<line x1="644.55" y1="402.50" x2="650.55" y2="402.50" stroke="#5252f2" stroke-width="2.08" stroke-linecap="butt"/>
<path d="M641.80 444.60 L641.80 408.10 L653.30 408.10 L653.30 444.60" fill="none" stroke="#5252f2" stroke-width="2.6" stroke-linejoin="miter"/>
<circle cx="645.00" cy="397.50" r="1.70" fill="#5252f2"/>
<circle cx="649.50" cy="401.50" r="1.70" fill="#5252f2"/>
<circle cx="643.50" cy="404.00" r="1.70" fill="#5252f2"/>
<circle cx="651.00" cy="410.00" r="1.70" fill="#5252f2"/>
<circle cx="645.00" cy="416.00" r="1.70" fill="#5252f2"/>
<circle cx="649.00" cy="418.00" r="1.70" fill="#5252f2"/>
<line x1="668.50" y1="432.50" x2="668.50" y2="428.00" stroke="#ff7c7c" stroke-width="2.08" stroke-linecap="butt"/>
<line x1="665.50" y1="428.00" x2="671.50" y2="428.00" stroke="#ff7c7c" stroke-width="2.08" stroke-linecap="butt"/>
<path d="M662.50 444.60 L662.50 433.80 L674.50 433.80 L674.50 444.60" fill="none" stroke="#ff7c7c" stroke-width="2.6" stroke-linejoin="miter"/>
<path d="M668.50 411.58 L670.37 414.95 L666.63 414.95Z" fill="#ff7c7c"/>
<path d="M666.00 427.98 L667.87 431.35 L664.13 431.35Z" fill="#ff7c7c"/>
<path d="M671.00 431.98 L672.87 435.35 L669.13 435.35Z" fill="#ff7c7c"/>
<path d="M664.50 434.98 L666.37 438.35 L662.63 438.35Z" fill="#ff7c7c"/>
<path d="M670.00 436.98 L671.87 440.35 L668.13 440.35Z" fill="#ff7c7c"/>
<line x1="647.40" y1="392.00" x2="668.60" y2="392.00" stroke="#000" stroke-width="2.0" stroke-linecap="butt"/>
<text x="658.20" y="387.50" font-size="7.2" font-weight="bold" font-style="italic" text-anchor="middle" fill="#000" stroke="#000" stroke-width="0.2">0.0009</text>
<text x="616.60" y="419.80" font-size="8" font-weight="bold" text-anchor="middle" fill="#000" transform="rotate(-90 616.60 419.80)" textLength="37.50" lengthAdjust="spacingAndGlyphs" stroke="#000" stroke-width="0.2">SAM/SAH</text>
<text x="649.50" y="458.50" font-size="6.3" font-weight="bold" font-style="normal" text-anchor="end" transform="rotate(-43 649.50 458.50)" stroke="#000" stroke-width="0.2"><tspan font-style="italic" dy="0.00">Phgdh</tspan><tspan font-size="3.91" dy="-2.39">fl/fl</tspan></text>
<text x="671.00" y="459.00" font-size="6.3" font-weight="bold" font-style="normal" text-anchor="end" transform="rotate(-43 671.00 459.00)" stroke="#000" stroke-width="0.2"><tspan font-style="italic" dy="0.00">Phgdh</tspan><tspan font-size="3.91" dy="-2.39">fl/fl</tspan><tspan font-style="italic" dy="2.39"> Lyz2</tspan><tspan font-size="3.91" dy="-2.39">cre</tspan></text>
<text x="10.50" y="619.60" font-size="12" font-weight="bold" text-anchor="start" fill="#000" stroke="#000" stroke-width="0.2">g</text>
<line x1="47.30" y1="635.40" x2="47.30" y2="735.30" stroke="#000" stroke-width="1.7" stroke-linecap="butt"/>
<line x1="40.80" y1="650.00" x2="47.30" y2="650.00" stroke="#000" stroke-width="1.7" stroke-linecap="butt"/>
<text x="39.10" y="652.80" font-size="7.2" font-weight="bold" text-anchor="end" textLength="21.69" lengthAdjust="spacingAndGlyphs" stroke="#000" stroke-width="0.2">3×10<tspan font-size="4.46" dy="-2.59">4</tspan></text>
<line x1="40.80" y1="678.70" x2="47.30" y2="678.70" stroke="#000" stroke-width="1.7" stroke-linecap="butt"/>
<text x="39.10" y="681.50" font-size="7.2" font-weight="bold" text-anchor="end" textLength="21.69" lengthAdjust="spacingAndGlyphs" stroke="#000" stroke-width="0.2">2×10<tspan font-size="4.46" dy="-2.59">4</tspan></text>
<line x1="40.80" y1="706.70" x2="47.30" y2="706.70" stroke="#000" stroke-width="1.7" stroke-linecap="butt"/>
<text x="39.10" y="709.50" font-size="7.2" font-weight="bold" text-anchor="end" textLength="21.69" lengthAdjust="spacingAndGlyphs" stroke="#000" stroke-width="0.2">1×10<tspan font-size="4.46" dy="-2.59">4</tspan></text>
<line x1="40.80" y1="735.30" x2="97.20" y2="735.30" stroke="#000" stroke-width="1.7" stroke-linecap="butt"/>
<text x="37.70" y="738.10" font-size="7.6" font-weight="bold" text-anchor="end" fill="#000" stroke="#000" stroke-width="0.2">0</text>
<line x1="61.30" y1="735.30" x2="61.30" y2="741.80" stroke="#000" stroke-width="1.7" stroke-linecap="butt"/>
<line x1="82.30" y1="735.30" x2="82.30" y2="741.80" stroke="#000" stroke-width="1.7" stroke-linecap="butt"/>
<line x1="61.50" y1="670.00" x2="61.50" y2="663.40" stroke="#5656f2" stroke-width="2.08" stroke-linecap="butt"/>
<line x1="58.50" y1="663.40" x2="64.50" y2="663.40" stroke="#5656f2" stroke-width="2.08" stroke-linecap="butt"/>
<path d="M56.00 735.30 L56.00 671.30 L67.00 671.30 L67.00 735.30" fill="none" stroke="#5656f2" stroke-width="2.6" stroke-linejoin="miter"/>
<circle cx="64.80" cy="658.20" r="2.20" fill="#5656f2"/>
<circle cx="57.80" cy="660.80" r="2.20" fill="#5656f2"/>
<circle cx="61.30" cy="685.30" r="2.20" fill="#5656f2"/>
<circle cx="60.40" cy="672.20" r="2.20" fill="#5656f2"/>
<line x1="82.30" y1="725.60" x2="82.30" y2="724.50" stroke="#ff7c7c" stroke-width="2.08" stroke-linecap="butt"/>
<line x1="79.30" y1="724.50" x2="85.30" y2="724.50" stroke="#ff7c7c" stroke-width="2.08" stroke-linecap="butt"/>
<path d="M76.60 735.30 L76.60 726.90 L88.00 726.90 L88.00 735.30" fill="none" stroke="#ff7c7c" stroke-width="2.6" stroke-linejoin="miter"/>
<path d="M79.00 721.51 L81.31 725.66 L76.69 725.66Z" fill="#ff7c7c"/>
<path d="M82.00 720.51 L84.31 724.66 L79.69 724.66Z" fill="#ff7c7c"/>
<path d="M85.00 722.01 L87.31 726.16 L82.69 726.16Z" fill="#ff7c7c"/>
<path d="M81.00 723.51 L83.31 727.66 L78.69 727.66Z" fill="#ff7c7c"/>
<text x="71.80" y="621.20" font-size="8.0" font-weight="bold" text-anchor="middle" fill="#000" textLength="49.30" lengthAdjust="spacingAndGlyphs" stroke="#000" stroke-width="0.2">Serine (M+3)</text>
<line x1="61.70" y1="643.30" x2="82.70" y2="643.30" stroke="#000" stroke-width="2.0" stroke-linecap="butt"/>
<text x="72.20" y="637.60" font-size="8.0" font-weight="bold" font-style="italic" text-anchor="middle" fill="#000" stroke="#000" stroke-width="0.2">&lt;0.0001</text>
<text x="9.80" y="686.20" font-size="8" font-weight="bold" text-anchor="middle" fill="#000" transform="rotate(-90 9.80 686.20)" textLength="39.00" lengthAdjust="spacingAndGlyphs" stroke="#000" stroke-width="0.2">Peak area</text>
<text x="61.70" y="751.60" font-size="8.8" font-weight="bold" font-style="normal" text-anchor="end" transform="rotate(-45 61.70 751.60)" stroke="#000" stroke-width="0.2"><tspan font-style="italic" dy="0.00">Phgdh</tspan><tspan font-size="5.46" dy="-3.34">fl/fl</tspan></text>
<text x="82.70" y="751.60" font-size="8.8" font-weight="bold" font-style="normal" text-anchor="end" transform="rotate(-45 82.70 751.60)" stroke="#000" stroke-width="0.2"><tspan font-style="italic" dy="0.00">Phgdh</tspan><tspan font-size="5.46" dy="-3.34">fl/fl</tspan><tspan font-style="italic" dy="3.34"> Lyz2</tspan><tspan font-size="5.46" dy="-3.34">cre</tspan></text>
<line x1="150.90" y1="635.20" x2="150.90" y2="734.90" stroke="#000" stroke-width="1.7" stroke-linecap="butt"/>
<line x1="144.40" y1="635.20" x2="150.90" y2="635.20" stroke="#000" stroke-width="1.7" stroke-linecap="butt"/>
<text x="142.70" y="638.00" font-size="7.2" font-weight="bold" text-anchor="end" textLength="28.66" lengthAdjust="spacingAndGlyphs" stroke="#000" stroke-width="0.2">1.2×10<tspan font-size="4.46" dy="-2.59">4</tspan></text>
<line x1="144.40" y1="668.80" x2="150.90" y2="668.80" stroke="#000" stroke-width="1.7" stroke-linecap="butt"/>
<text x="142.70" y="671.60" font-size="7.2" font-weight="bold" text-anchor="end" textLength="21.69" lengthAdjust="spacingAndGlyphs" stroke="#000" stroke-width="0.2">8×10<tspan font-size="4.46" dy="-2.59">3</tspan></text>
<line x1="144.40" y1="702.00" x2="150.90" y2="702.00" stroke="#000" stroke-width="1.7" stroke-linecap="butt"/>
<text x="142.70" y="704.80" font-size="7.2" font-weight="bold" text-anchor="end" textLength="21.69" lengthAdjust="spacingAndGlyphs" stroke="#000" stroke-width="0.2">4×10<tspan font-size="4.46" dy="-2.59">3</tspan></text>
<line x1="144.40" y1="734.90" x2="200.60" y2="734.90" stroke="#000" stroke-width="1.7" stroke-linecap="butt"/>
<text x="141.30" y="737.70" font-size="7.6" font-weight="bold" text-anchor="end" fill="#000" stroke="#000" stroke-width="0.2">0</text>
<line x1="165.10" y1="734.90" x2="165.10" y2="741.40" stroke="#000" stroke-width="1.7" stroke-linecap="butt"/>
<line x1="186.40" y1="734.90" x2="186.40" y2="741.40" stroke="#000" stroke-width="1.7" stroke-linecap="butt"/>
<line x1="165.50" y1="663.10" x2="165.50" y2="660.50" stroke="#5656f2" stroke-width="2.08" stroke-linecap="butt"/>
<line x1="162.50" y1="660.50" x2="168.50" y2="660.50" stroke="#5656f2" stroke-width="2.08" stroke-linecap="butt"/>
<path d="M159.80 734.90 L159.80 664.40 L171.20 664.40 L171.20 734.90" fill="none" stroke="#5656f2" stroke-width="2.6" stroke-linejoin="miter"/>
<circle cx="165.30" cy="656.50" r="2.20" fill="#5656f2"/>
<circle cx="163.00" cy="664.00" r="2.20" fill="#5656f2"/>
<circle cx="167.50" cy="663.50" r="2.20" fill="#5656f2"/>
<line x1="186.35" y1="721.00" x2="186.35" y2="719.50" stroke="#ff7c7c" stroke-width="2.08" stroke-linecap="butt"/>
<line x1="183.35" y1="719.50" x2="189.35" y2="719.50" stroke="#ff7c7c" stroke-width="2.08" stroke-linecap="butt"/>
<path d="M180.60 734.90 L180.60 722.30 L192.10 722.30 L192.10 734.90" fill="none" stroke="#ff7c7c" stroke-width="2.6" stroke-linejoin="miter"/>
<path d="M183.00 717.51 L185.31 721.66 L180.69 721.66Z" fill="#ff7c7c"/>
<path d="M186.50 717.01 L188.81 721.16 L184.19 721.16Z" fill="#ff7c7c"/>
<path d="M190.50 714.51 L192.81 718.66 L188.19 718.66Z" fill="#ff7c7c"/>
<path d="M184.50 719.51 L186.81 723.66 L182.19 723.66Z" fill="#ff7c7c"/>
<text x="175.90" y="621.20" font-size="8.0" font-weight="bold" text-anchor="middle" fill="#000" textLength="53.50" lengthAdjust="spacingAndGlyphs" stroke="#000" stroke-width="0.2">Glycine (M+2)</text>
<line x1="165.50" y1="649.30" x2="186.40" y2="649.30" stroke="#000" stroke-width="2.0" stroke-linecap="butt"/>
<text x="175.95" y="643.40" font-size="8.1" font-weight="bold" font-style="italic" text-anchor="middle" fill="#000" stroke="#000" stroke-width="0.2">&lt;0.0001</text>
<text x="107.10" y="685.90" font-size="8" font-weight="bold" text-anchor="middle" fill="#000" transform="rotate(-90 107.10 685.90)" textLength="39.00" lengthAdjust="spacingAndGlyphs" stroke="#000" stroke-width="0.2">Peak area</text>
<text x="165.50" y="751.20" font-size="8.8" font-weight="bold" font-style="normal" text-anchor="end" transform="rotate(-45 165.50 751.20)" stroke="#000" stroke-width="0.2"><tspan font-style="italic" dy="0.00">Phgdh</tspan><tspan font-size="5.46" dy="-3.34">fl/fl</tspan></text>
<text x="186.80" y="751.20" font-size="8.8" font-weight="bold" font-style="normal" text-anchor="end" transform="rotate(-45 186.80 751.20)" stroke="#000" stroke-width="0.2"><tspan font-style="italic" dy="0.00">Phgdh</tspan><tspan font-size="5.46" dy="-3.34">fl/fl</tspan><tspan font-style="italic" dy="3.34"> Lyz2</tspan><tspan font-size="5.46" dy="-3.34">cre</tspan></text>
<line x1="246.10" y1="634.80" x2="246.10" y2="734.10" stroke="#000" stroke-width="1.7" stroke-linecap="butt"/>
<line x1="239.60" y1="634.80" x2="246.10" y2="634.80" stroke="#000" stroke-width="1.7" stroke-linecap="butt"/>
<text x="237.90" y="637.60" font-size="7.2" font-weight="bold" text-anchor="end" textLength="21.69" lengthAdjust="spacingAndGlyphs" stroke="#000" stroke-width="0.2">6×10<tspan font-size="4.46" dy="-2.59">2</tspan></text>
<line x1="239.60" y1="667.80" x2="246.10" y2="667.80" stroke="#000" stroke-width="1.7" stroke-linecap="butt"/>
<text x="237.90" y="670.60" font-size="7.2" font-weight="bold" text-anchor="end" textLength="21.69" lengthAdjust="spacingAndGlyphs" stroke="#000" stroke-width="0.2">4×10<tspan font-size="4.46" dy="-2.59">2</tspan></text>
<line x1="239.60" y1="701.10" x2="246.10" y2="701.10" stroke="#000" stroke-width="1.7" stroke-linecap="butt"/>
<text x="237.90" y="703.90" font-size="7.2" font-weight="bold" text-anchor="end" textLength="21.69" lengthAdjust="spacingAndGlyphs" stroke="#000" stroke-width="0.2">2×10<tspan font-size="4.46" dy="-2.59">2</tspan></text>
<line x1="239.60" y1="734.10" x2="296.40" y2="734.10" stroke="#000" stroke-width="1.7" stroke-linecap="butt"/>
<text x="236.50" y="736.90" font-size="7.6" font-weight="bold" text-anchor="end" fill="#000" stroke="#000" stroke-width="0.2">0</text>
<line x1="259.90" y1="734.10" x2="259.90" y2="740.60" stroke="#000" stroke-width="1.7" stroke-linecap="butt"/>
<line x1="281.20" y1="734.10" x2="281.20" y2="740.60" stroke="#000" stroke-width="1.7" stroke-linecap="butt"/>
<line x1="260.55" y1="690.30" x2="260.55" y2="678.00" stroke="#5656f2" stroke-width="2.08" stroke-linecap="butt"/>
<line x1="257.55" y1="678.00" x2="263.55" y2="678.00" stroke="#5656f2" stroke-width="2.08" stroke-linecap="butt"/>
<path d="M254.70 734.10 L254.70 691.60 L266.40 691.60 L266.40 734.10" fill="none" stroke="#5656f2" stroke-width="2.6" stroke-linejoin="miter"/>
<circle cx="260.20" cy="655.00" r="2.20" fill="#5656f2"/>
<circle cx="260.50" cy="694.00" r="2.20" fill="#5656f2"/>
<circle cx="259.00" cy="703.00" r="2.20" fill="#5656f2"/>
<circle cx="260.50" cy="708.00" r="2.20" fill="#5656f2"/>
<line x1="281.75" y1="704.90" x2="281.75" y2="693.20" stroke="#ff7c7c" stroke-width="2.08" stroke-linecap="butt"/>
<line x1="278.75" y1="693.20" x2="284.75" y2="693.20" stroke="#ff7c7c" stroke-width="2.08" stroke-linecap="butt"/>
<path d="M275.80 734.10 L275.80 706.20 L287.70 706.20 L287.70 734.10" fill="none" stroke="#ff7c7c" stroke-width="2.6" stroke-linejoin="miter"/>
<path d="M281.80 671.11 L284.11 675.26 L279.49 675.26Z" fill="#ff7c7c"/>
<path d="M281.80 678.01 L284.11 682.16 L279.49 682.16Z" fill="#ff7c7c"/>
<path d="M279.00 706.51 L281.31 710.66 L276.69 710.66Z" fill="#ff7c7c"/>
<path d="M277.00 725.51 L279.31 729.66 L274.69 729.66Z" fill="#ff7c7c"/>
<path d="M285.00 725.51 L287.31 729.66 L282.69 729.66Z" fill="#ff7c7c"/>
<text x="270.70" y="620.30" font-size="8.0" font-weight="bold" text-anchor="middle" fill="#000" textLength="66.90" lengthAdjust="spacingAndGlyphs" stroke="#000" stroke-width="0.2">Methionine (M+1)</text>
<line x1="259.90" y1="648.00" x2="281.20" y2="648.00" stroke="#000" stroke-width="2.0" stroke-linecap="butt"/>
<text x="270.55" y="643.00" font-size="7.2" font-weight="bold" font-style="italic" text-anchor="middle" fill="#000" stroke="#000" stroke-width="0.2">0.4012</text>
<text x="208.60" y="685.20" font-size="8" font-weight="bold" text-anchor="middle" fill="#000" transform="rotate(-90 208.60 685.20)" textLength="39.00" lengthAdjust="spacingAndGlyphs" stroke="#000" stroke-width="0.2">Peak area</text>
<text x="260.30" y="750.40" font-size="8.8" font-weight="bold" font-style="normal" text-anchor="end" transform="rotate(-45 260.30 750.40)" stroke="#000" stroke-width="0.2"><tspan font-style="italic" dy="0.00">Phgdh</tspan><tspan font-size="5.46" dy="-3.34">fl/fl</tspan></text>
<text x="281.60" y="750.40" font-size="8.8" font-weight="bold" font-style="normal" text-anchor="end" transform="rotate(-45 281.60 750.40)" stroke="#000" stroke-width="0.2"><tspan font-style="italic" dy="0.00">Phgdh</tspan><tspan font-size="5.46" dy="-3.34">fl/fl</tspan><tspan font-style="italic" dy="3.34"> Lyz2</tspan><tspan font-size="5.46" dy="-3.34">cre</tspan></text>
<line x1="343.10" y1="632.80" x2="343.10" y2="733.20" stroke="#000" stroke-width="1.7" stroke-linecap="butt"/>
<line x1="336.60" y1="653.20" x2="343.10" y2="653.20" stroke="#000" stroke-width="1.7" stroke-linecap="butt"/>
<text x="334.90" y="656.00" font-size="7.2" font-weight="bold" text-anchor="end" textLength="21.69" lengthAdjust="spacingAndGlyphs" stroke="#000" stroke-width="0.2">2×10<tspan font-size="4.46" dy="-2.59">6</tspan></text>
<line x1="336.60" y1="693.20" x2="343.10" y2="693.20" stroke="#000" stroke-width="1.7" stroke-linecap="butt"/>
<text x="334.90" y="696.00" font-size="7.2" font-weight="bold" text-anchor="end" textLength="21.69" lengthAdjust="spacingAndGlyphs" stroke="#000" stroke-width="0.2">1×10<tspan font-size="4.46" dy="-2.59">6</tspan></text>
<line x1="336.60" y1="733.20" x2="391.20" y2="733.20" stroke="#000" stroke-width="1.7" stroke-linecap="butt"/>
<text x="333.50" y="736.00" font-size="7.6" font-weight="bold" text-anchor="end" fill="#000" stroke="#000" stroke-width="0.2">0</text>
<line x1="356.20" y1="733.20" x2="356.20" y2="739.70" stroke="#000" stroke-width="1.7" stroke-linecap="butt"/>
<line x1="376.60" y1="733.20" x2="376.60" y2="739.70" stroke="#000" stroke-width="1.7" stroke-linecap="butt"/>
<line x1="356.20" y1="681.50" x2="356.20" y2="670.70" stroke="#5656f2" stroke-width="2.08" stroke-linecap="butt"/>
<line x1="353.20" y1="670.70" x2="359.20" y2="670.70" stroke="#5656f2" stroke-width="2.08" stroke-linecap="butt"/>
<path d="M350.80 733.20 L350.80 682.80 L361.60 682.80 L361.60 733.20" fill="none" stroke="#5656f2" stroke-width="2.6" stroke-linejoin="miter"/>
<circle cx="356.20" cy="652.50" r="2.20" fill="#5656f2"/>
<circle cx="356.20" cy="678.50" r="2.20" fill="#5656f2"/>
<circle cx="355.00" cy="690.00" r="2.20" fill="#5656f2"/>
<circle cx="356.00" cy="700.00" r="2.20" fill="#5656f2"/>
<line x1="377.35" y1="716.00" x2="377.35" y2="709.30" stroke="#ff7c7c" stroke-width="2.08" stroke-linecap="butt"/>
<line x1="374.35" y1="709.30" x2="380.35" y2="709.30" stroke="#ff7c7c" stroke-width="2.08" stroke-linecap="butt"/>
<path d="M371.50 733.20 L371.50 717.30 L383.20 717.30 L383.20 733.20" fill="none" stroke="#ff7c7c" stroke-width="2.6" stroke-linejoin="miter"/>
<path d="M377.50 693.51 L379.81 697.66 L375.19 697.66Z" fill="#ff7c7c"/>
<path d="M376.00 711.51 L378.31 715.66 L373.69 715.66Z" fill="#ff7c7c"/>
<path d="M377.00 720.51 L379.31 724.66 L374.69 724.66Z" fill="#ff7c7c"/>
<path d="M380.00 718.51 L382.31 722.66 L377.69 722.66Z" fill="#ff7c7c"/>
<text x="367.00" y="620.30" font-size="8.0" font-weight="bold" text-anchor="middle" fill="#000" textLength="47.40" lengthAdjust="spacingAndGlyphs" stroke="#000" stroke-width="0.2">ATP (M+6-9)</text>
<line x1="356.20" y1="647.00" x2="376.60" y2="647.00" stroke="#000" stroke-width="2.0" stroke-linecap="butt"/>
<text x="366.40" y="642.00" font-size="7.0" font-weight="bold" font-style="italic" text-anchor="middle" fill="#000" stroke="#000" stroke-width="0.2">0.0341</text>
<text x="304.40" y="685.00" font-size="8" font-weight="bold" text-anchor="middle" fill="#000" transform="rotate(-90 304.40 685.00)" textLength="39.00" lengthAdjust="spacingAndGlyphs" stroke="#000" stroke-width="0.2">Peak area</text>
<text x="356.60" y="749.50" font-size="8.8" font-weight="bold" font-style="normal" text-anchor="end" transform="rotate(-45 356.60 749.50)" stroke="#000" stroke-width="0.2"><tspan font-style="italic" dy="0.00">Phgdh</tspan><tspan font-size="5.46" dy="-3.34">fl/fl</tspan></text>
<text x="377.00" y="749.50" font-size="8.8" font-weight="bold" font-style="normal" text-anchor="end" transform="rotate(-45 377.00 749.50)" stroke="#000" stroke-width="0.2"><tspan font-style="italic" dy="0.00">Phgdh</tspan><tspan font-size="5.46" dy="-3.34">fl/fl</tspan><tspan font-style="italic" dy="3.34"> Lyz2</tspan><tspan font-size="5.46" dy="-3.34">cre</tspan></text>
<line x1="440.30" y1="632.70" x2="440.30" y2="732.80" stroke="#000" stroke-width="1.7" stroke-linecap="butt"/>
<line x1="433.80" y1="632.70" x2="440.30" y2="632.70" stroke="#000" stroke-width="1.7" stroke-linecap="butt"/>
<text x="432.10" y="635.50" font-size="7.2" font-weight="bold" text-anchor="end" textLength="21.69" lengthAdjust="spacingAndGlyphs" stroke="#000" stroke-width="0.2">4×10<tspan font-size="4.46" dy="-2.59">3</tspan></text>
<line x1="433.80" y1="657.80" x2="440.30" y2="657.80" stroke="#000" stroke-width="1.7" stroke-linecap="butt"/>
<text x="432.10" y="660.60" font-size="7.2" font-weight="bold" text-anchor="end" textLength="21.69" lengthAdjust="spacingAndGlyphs" stroke="#000" stroke-width="0.2">3×10<tspan font-size="4.46" dy="-2.59">3</tspan></text>
<line x1="433.80" y1="682.80" x2="440.30" y2="682.80" stroke="#000" stroke-width="1.7" stroke-linecap="butt"/>
<text x="432.10" y="685.60" font-size="7.2" font-weight="bold" text-anchor="end" textLength="21.69" lengthAdjust="spacingAndGlyphs" stroke="#000" stroke-width="0.2">2×10<tspan font-size="4.46" dy="-2.59">3</tspan></text>
<line x1="433.80" y1="707.90" x2="440.30" y2="707.90" stroke="#000" stroke-width="1.7" stroke-linecap="butt"/>
<text x="432.10" y="710.70" font-size="7.2" font-weight="bold" text-anchor="end" textLength="21.69" lengthAdjust="spacingAndGlyphs" stroke="#000" stroke-width="0.2">1×10<tspan font-size="4.46" dy="-2.59">3</tspan></text>
<line x1="433.80" y1="732.80" x2="490.40" y2="732.80" stroke="#000" stroke-width="1.7" stroke-linecap="butt"/>
<text x="430.70" y="735.60" font-size="7.6" font-weight="bold" text-anchor="end" fill="#000" stroke="#000" stroke-width="0.2">0</text>
<line x1="454.00" y1="732.80" x2="454.00" y2="739.30" stroke="#000" stroke-width="1.7" stroke-linecap="butt"/>
<line x1="475.00" y1="732.80" x2="475.00" y2="739.30" stroke="#000" stroke-width="1.7" stroke-linecap="butt"/>
<line x1="454.55" y1="680.10" x2="454.55" y2="673.50" stroke="#5656f2" stroke-width="2.08" stroke-linecap="butt"/>
<line x1="451.55" y1="673.50" x2="457.55" y2="673.50" stroke="#5656f2" stroke-width="2.08" stroke-linecap="butt"/>
<path d="M448.70 732.80 L448.70 681.40 L460.40 681.40 L460.40 732.80" fill="none" stroke="#5656f2" stroke-width="2.6" stroke-linejoin="miter"/>
<circle cx="454.50" cy="661.50" r="2.20" fill="#5656f2"/>
<circle cx="454.50" cy="671.50" r="2.20" fill="#5656f2"/>
<circle cx="451.50" cy="693.00" r="2.20" fill="#5656f2"/>
<circle cx="458.00" cy="693.00" r="2.20" fill="#5656f2"/>
<line x1="475.35" y1="688.30" x2="475.35" y2="682.50" stroke="#ff7c7c" stroke-width="2.08" stroke-linecap="butt"/>
<line x1="472.35" y1="682.50" x2="478.35" y2="682.50" stroke="#ff7c7c" stroke-width="2.08" stroke-linecap="butt"/>
<path d="M469.80 732.80 L469.80 689.60 L480.90 689.60 L480.90 732.80" fill="none" stroke="#ff7c7c" stroke-width="2.6" stroke-linejoin="miter"/>
<path d="M472.50 672.51 L474.81 676.66 L470.19 676.66Z" fill="#ff7c7c"/>
<path d="M479.00 675.51 L481.31 679.66 L476.69 679.66Z" fill="#ff7c7c"/>
<path d="M475.00 686.51 L477.31 690.66 L472.69 690.66Z" fill="#ff7c7c"/>
<path d="M475.00 703.51 L477.31 707.66 L472.69 707.66Z" fill="#ff7c7c"/>
<path d="M471.00 689.51 L473.31 693.66 L468.69 693.66Z" fill="#ff7c7c"/>
<text x="464.20" y="619.20" font-size="8.0" font-weight="bold" text-anchor="middle" fill="#000" textLength="49.60" lengthAdjust="spacingAndGlyphs" stroke="#000" stroke-width="0.2">SAM (M+6-9)</text>
<line x1="454.60" y1="652.10" x2="475.60" y2="652.10" stroke="#000" stroke-width="2.0" stroke-linecap="butt"/>
<text x="465.10" y="646.60" font-size="6.9" font-weight="bold" font-style="italic" text-anchor="middle" fill="#000" stroke="#000" stroke-width="0.2">0.4214</text>
<text x="402.60" y="682.80" font-size="8" font-weight="bold" text-anchor="middle" fill="#000" transform="rotate(-90 402.60 682.80)" textLength="39.00" lengthAdjust="spacingAndGlyphs" stroke="#000" stroke-width="0.2">Peak area</text>
<text x="454.40" y="749.10" font-size="8.8" font-weight="bold" font-style="normal" text-anchor="end" transform="rotate(-45 454.40 749.10)" stroke="#000" stroke-width="0.2"><tspan font-style="italic" dy="0.00">Phgdh</tspan><tspan font-size="5.46" dy="-3.34">fl/fl</tspan></text>
<text x="475.40" y="749.10" font-size="8.8" font-weight="bold" font-style="normal" text-anchor="end" transform="rotate(-45 475.40 749.10)" stroke="#000" stroke-width="0.2"><tspan font-style="italic" dy="0.00">Phgdh</tspan><tspan font-size="5.46" dy="-3.34">fl/fl</tspan><tspan font-style="italic" dy="3.34"> Lyz2</tspan><tspan font-size="5.46" dy="-3.34">cre</tspan></text>
<text x="501.50" y="622.30" font-size="12" font-weight="bold" text-anchor="start" fill="#000" stroke="#000" stroke-width="0.2">h</text>
<text x="563.60" y="636.20" font-size="6.3" font-weight="bold" font-style="italic" transform="rotate(-45 563.60 636.20)" stroke="#000" stroke-width="0.2"><tspan dy="0.00">Phgdh</tspan><tspan font-size="3.78" dy="-2.52">fl/fl</tspan></text>
<text x="585.60" y="636.20" font-size="6.3" font-weight="bold" font-style="italic" transform="rotate(-45 585.60 636.20)" stroke="#000" stroke-width="0.2"><tspan dy="0.00">Phgdh</tspan><tspan font-size="3.78" dy="-2.52">fl/fl</tspan><tspan dy="2.52">Lyz2</tspan><tspan font-size="3.78" dy="-2.52">cre</tspan></text>
<text x="608.20" y="636.20" font-size="6.3" font-weight="bold" font-style="italic" transform="rotate(-45 608.20 636.20)" stroke="#000" stroke-width="0.2"><tspan dy="0.00">Phgdh</tspan><tspan font-size="3.78" dy="-2.52">fl/fl</tspan><tspan dy="2.52">+PAO1</tspan></text>
<text x="634.50" y="636.20" font-size="6.3" font-weight="bold" font-style="italic" transform="rotate(-45 634.50 636.20)" stroke="#000" stroke-width="0.2"><tspan dy="0.00">Phgdh</tspan><tspan font-size="3.78" dy="-2.52">fl/fl</tspan><tspan dy="2.52">Lyz2</tspan><tspan font-size="3.78" dy="-2.52">cre</tspan><tspan dy="2.52"> +PAO1</tspan></text>
<defs><linearGradient id="hg1" x1="0" y1="0" x2="0.4" y2="1"><stop offset="0" stop-color="#b2b2b2"/><stop offset="1" stop-color="#e4e4e4"/></linearGradient><linearGradient id="hg3" x1="0" y1="0" x2="1" y2="0"><stop offset="0" stop-color="#dedede"/><stop offset="1" stop-color="#c4c4c4"/></linearGradient></defs>
<rect x="548.25" y="639.85" width="101.00" height="21.40" fill="url(#hg1)" stroke="#000" stroke-width="1.5"/>
<rect x="555.50" y="647.10" width="16.80" height="6.20" rx="4.03" ry="3.10" fill="#000" fill-opacity="1" filter="url(#bl9)"/>
<rect x="578.00" y="647.90" width="16.80" height="4.60" rx="2.99" ry="2.30" fill="#000" fill-opacity="1" filter="url(#bl9)"/>
<rect x="603.60" y="648.00" width="15.20" height="4.40" rx="2.86" ry="2.20" fill="#000" fill-opacity="1" filter="url(#bl9)"/>
<rect x="627.20" y="648.50" width="14.00" height="3.40" rx="2.21" ry="1.70" fill="#000" fill-opacity="0.8" filter="url(#bl9)"/>
<rect x="548.25" y="667.05" width="101.00" height="20.50" fill="#f5f5f5" stroke="#000" stroke-width="1.5"/>
<rect x="554.60" y="674.50" width="19.20" height="5.20" rx="3.38" ry="2.60" fill="#000" fill-opacity="1" filter="url(#bl8)"/>
<rect x="578.70" y="674.50" width="18.40" height="5.20" rx="3.38" ry="2.60" fill="#000" fill-opacity="1" filter="url(#bl8)"/>
<rect x="600.90" y="674.50" width="18.20" height="5.20" rx="3.38" ry="2.60" fill="#000" fill-opacity="1" filter="url(#bl8)"/>
<rect x="624.50" y="674.50" width="19.20" height="5.20" rx="3.38" ry="2.60" fill="#000" fill-opacity="1" filter="url(#bl8)"/>
<rect x="550.95" y="726.65" width="100.80" height="19.50" fill="url(#hg3)" stroke="#000" stroke-width="1.5"/>
<rect x="561.00" y="734.00" width="11.40" height="4.00" rx="2.60" ry="2.00" fill="#000" fill-opacity="0.26" filter="url(#bl12)"/>
<rect x="579.40" y="734.00" width="16.60" height="4.00" rx="2.60" ry="2.00" fill="#000" fill-opacity="0.22" filter="url(#bl12)"/>
<rect x="603.00" y="734.00" width="17.60" height="4.00" rx="2.60" ry="2.00" fill="#000" fill-opacity="0.22" filter="url(#bl12)"/>
<rect x="628.50" y="732.90" width="21.00" height="6.20" rx="4.03" ry="3.10" fill="#000" fill-opacity="1" filter="url(#bl9)"/>
<rect x="550.95" y="752.05" width="100.80" height="19.50" fill="#f6f6f6" stroke="#000" stroke-width="1.5"/>
<rect x="557.40" y="760.10" width="17.60" height="5.20" rx="3.38" ry="2.60" fill="#000" fill-opacity="1" filter="url(#bl8)"/>
<rect x="580.60" y="760.10" width="18.00" height="5.20" rx="3.38" ry="2.60" fill="#000" fill-opacity="1" filter="url(#bl8)"/>
<rect x="603.40" y="760.10" width="18.80" height="5.20" rx="3.38" ry="2.60" fill="#000" fill-opacity="1" filter="url(#bl8)"/>
<rect x="626.70" y="760.10" width="19.20" height="5.20" rx="3.38" ry="2.60" fill="#000" fill-opacity="1" filter="url(#bl8)"/>
<text x="502.50" y="659.30" font-size="8.4" font-weight="bold" text-anchor="start" fill="#000" textLength="42.50" lengthAdjust="spacingAndGlyphs" stroke="#000" stroke-width="0.2">H3K27me3</text>
<text x="502.80" y="681.50" font-size="8.4" font-weight="bold" text-anchor="start" fill="#000" textLength="38.00" lengthAdjust="spacingAndGlyphs" stroke="#000" stroke-width="0.2">HSP90α/β</text>
<text x="506.60" y="744.30" font-size="8.4" font-weight="bold" text-anchor="start" fill="#000" textLength="41.70" lengthAdjust="spacingAndGlyphs" stroke="#000" stroke-width="0.2">H3K27me3</text>
<text x="506.60" y="767.00" font-size="8.4" font-weight="bold" text-anchor="start" fill="#000" textLength="37.80" lengthAdjust="spacingAndGlyphs" stroke="#000" stroke-width="0.2">HSP90α/β</text>
<text x="656.70" y="653.40" font-size="5.2" font-weight="bold" text-anchor="start" fill="#000" stroke="#000" stroke-width="0.2">16kDa</text>
<text x="656.70" y="680.40" font-size="5.2" font-weight="bold" text-anchor="start" fill="#000" stroke="#000" stroke-width="0.2">90kDa</text>
<text x="658.70" y="741.50" font-size="5.2" font-weight="bold" text-anchor="start" fill="#000" stroke="#000" stroke-width="0.2">16kDa</text>
<text x="658.70" y="766.40" font-size="5.2" font-weight="bold" text-anchor="start" fill="#000" stroke="#000" stroke-width="0.2">90kDa</text>
<text x="519.40" y="709.90" font-size="7.8" font-weight="bold" text-anchor="start" fill="#000" stroke="#000" stroke-width="0.2">PAO1</text>
<text x="519.40" y="722.60" font-size="7.8" font-weight="bold" text-anchor="start" fill="#000" stroke="#000" stroke-width="0.2">L-serine</text>
<text x="562.40" y="709.90" font-size="7.8" font-weight="bold" text-anchor="middle" fill="#000" stroke="#000" stroke-width="0.2">-</text>
<text x="562.40" y="722.60" font-size="7.8" font-weight="bold" text-anchor="middle" fill="#000" stroke="#000" stroke-width="0.2">-</text>
<text x="590.70" y="709.90" font-size="7.8" font-weight="bold" text-anchor="middle" fill="#000" stroke="#000" stroke-width="0.2">-</text>
<text x="590.70" y="722.60" font-size="7.8" font-weight="bold" text-anchor="middle" fill="#000" stroke="#000" stroke-width="0.2">+</text>
<text x="619.80" y="709.90" font-size="7.8" font-weight="bold" text-anchor="middle" fill="#000" stroke="#000" stroke-width="0.2">+</text>
<text x="619.80" y="722.60" font-size="7.8" font-weight="bold" text-anchor="middle" fill="#000" stroke="#000" stroke-width="0.2">-</text>
<text x="644.00" y="709.90" font-size="7.8" font-weight="bold" text-anchor="middle" fill="#000" stroke="#000" stroke-width="0.2">+</text>
<text x="644.00" y="722.60" font-size="7.8" font-weight="bold" text-anchor="middle" fill="#000" stroke="#000" stroke-width="0.2">+</text>
<text x="10.50" y="818.60" font-size="12" font-weight="bold" text-anchor="start" fill="#000" stroke="#000" stroke-width="0.2">i</text>
<text x="110.80" y="817.50" font-size="8.2" font-weight="bold" font-style="italic" text-anchor="middle" fill="#000" stroke="#000" stroke-width="0.2">Dusp4</text>
<line x1="45.50" y1="831.20" x2="45.50" y2="930.80" stroke="#000" stroke-width="1.8" stroke-linecap="butt"/>
<line x1="38.50" y1="930.80" x2="45.50" y2="930.80" stroke="#000" stroke-width="1.8" stroke-linecap="butt"/>
<text x="37.00" y="933.50" font-size="7.6" font-weight="bold" text-anchor="end" fill="#000" stroke="#000" stroke-width="0.2">0</text>
<line x1="38.50" y1="897.60" x2="45.50" y2="897.60" stroke="#000" stroke-width="1.8" stroke-linecap="butt"/>
<text x="37.00" y="900.30" font-size="7.6" font-weight="bold" text-anchor="end" fill="#000" stroke="#000" stroke-width="0.2">20</text>
<line x1="38.50" y1="864.40" x2="45.50" y2="864.40" stroke="#000" stroke-width="1.8" stroke-linecap="butt"/>
<text x="37.00" y="867.10" font-size="7.6" font-weight="bold" text-anchor="end" fill="#000" stroke="#000" stroke-width="0.2">40</text>
<line x1="38.50" y1="831.20" x2="45.50" y2="831.20" stroke="#000" stroke-width="1.8" stroke-linecap="butt"/>
<text x="37.00" y="833.90" font-size="7.6" font-weight="bold" text-anchor="end" fill="#000" stroke="#000" stroke-width="0.2">60</text>
<line x1="45.50" y1="930.80" x2="178.00" y2="930.80" stroke="#000" stroke-width="1.8" stroke-linecap="butt"/>
<text x="21.60" y="880.60" font-size="7.8" font-weight="bold" text-anchor="middle" fill="#000" transform="rotate(-90 21.60 880.60)" textLength="97.00" lengthAdjust="spacingAndGlyphs" stroke="#000" stroke-width="0.2">Relative Enrichment fold</text>
<line x1="66.50" y1="895.94" x2="66.50" y2="890.96" stroke="#5656f2" stroke-width="2.08" stroke-linecap="butt"/>
<line x1="63.50" y1="890.96" x2="69.50" y2="890.96" stroke="#5656f2" stroke-width="2.08" stroke-linecap="butt"/>
<path d="M61.10 930.80 L61.10 897.24 L71.90 897.24 L71.90 930.80" fill="none" stroke="#5656f2" stroke-width="2.6" stroke-linejoin="miter"/>
<circle cx="66.20" cy="889.30" r="2.20" fill="#5656f2"/>
<circle cx="67.70" cy="894.28" r="2.20" fill="#5656f2"/>
<circle cx="65.70" cy="904.24" r="2.20" fill="#5656f2"/>
<line x1="79.80" y1="908.06" x2="79.80" y2="904.24" stroke="#ff7c7c" stroke-width="2.08" stroke-linecap="butt"/>
<line x1="76.80" y1="904.24" x2="82.80" y2="904.24" stroke="#ff7c7c" stroke-width="2.08" stroke-linecap="butt"/>
<path d="M74.50 930.80 L74.50 909.36 L85.10 909.36 L85.10 930.80" fill="none" stroke="#ff7c7c" stroke-width="2.6" stroke-linejoin="miter"/>
<rect x="74.10" y="899.65" width="4.20" height="4.20" fill="#ff7c7c"/>
<rect x="77.10" y="903.80" width="4.20" height="4.20" fill="#ff7c7c"/>
<rect x="80.10" y="908.78" width="4.20" height="4.20" fill="#ff7c7c"/>
<rect x="83.10" y="910.44" width="4.20" height="4.20" fill="#ff7c7c"/>
<line x1="73.20" y1="930.80" x2="73.20" y2="937.30" stroke="#000" stroke-width="1.8" stroke-linecap="butt"/>
<text x="76.80" y="944.80" font-size="8.3" font-weight="bold" font-style="normal" text-anchor="end" transform="rotate(-45 76.80 944.80)" stroke="#000" stroke-width="0.2"><tspan dy="0.00">-601</tspan></text>
<line x1="108.10" y1="895.94" x2="108.10" y2="895.11" stroke="#5656f2" stroke-width="2.08" stroke-linecap="butt"/>
<line x1="105.10" y1="895.11" x2="111.10" y2="895.11" stroke="#5656f2" stroke-width="2.08" stroke-linecap="butt"/>
<path d="M102.70 930.80 L102.70 897.24 L113.50 897.24 L113.50 930.80" fill="none" stroke="#5656f2" stroke-width="2.6" stroke-linejoin="miter"/>
<circle cx="107.80" cy="894.28" r="2.20" fill="#5656f2"/>
<circle cx="109.30" cy="895.94" r="2.20" fill="#5656f2"/>
<circle cx="107.30" cy="896.77" r="2.20" fill="#5656f2"/>
<line x1="121.40" y1="908.06" x2="121.40" y2="905.07" stroke="#ff7c7c" stroke-width="2.08" stroke-linecap="butt"/>
<line x1="118.40" y1="905.07" x2="124.40" y2="905.07" stroke="#ff7c7c" stroke-width="2.08" stroke-linecap="butt"/>
<path d="M116.10 930.80 L116.10 909.36 L126.70 909.36 L126.70 930.80" fill="none" stroke="#ff7c7c" stroke-width="2.6" stroke-linejoin="miter"/>
<rect x="115.70" y="901.31" width="4.20" height="4.20" fill="#ff7c7c"/>
<rect x="118.70" y="905.46" width="4.20" height="4.20" fill="#ff7c7c"/>
<rect x="121.70" y="909.61" width="4.20" height="4.20" fill="#ff7c7c"/>
<rect x="124.70" y="908.78" width="4.20" height="4.20" fill="#ff7c7c"/>
<line x1="114.80" y1="930.80" x2="114.80" y2="937.30" stroke="#000" stroke-width="1.8" stroke-linecap="butt"/>
<text x="118.40" y="944.80" font-size="8.3" font-weight="bold" font-style="normal" text-anchor="end" transform="rotate(-45 118.40 944.80)" stroke="#000" stroke-width="0.2"><tspan dy="0.00">-701</tspan></text>
<line x1="150.10" y1="852.78" x2="150.10" y2="847.80" stroke="#5656f2" stroke-width="2.08" stroke-linecap="butt"/>
<line x1="147.10" y1="847.80" x2="153.10" y2="847.80" stroke="#5656f2" stroke-width="2.08" stroke-linecap="butt"/>
<path d="M144.70 930.80 L144.70 854.08 L155.50 854.08 L155.50 930.80" fill="none" stroke="#5656f2" stroke-width="2.6" stroke-linejoin="miter"/>
<circle cx="149.80" cy="842.82" r="2.20" fill="#5656f2"/>
<circle cx="151.30" cy="852.78" r="2.20" fill="#5656f2"/>
<circle cx="149.30" cy="857.76" r="2.20" fill="#5656f2"/>
<line x1="163.40" y1="892.62" x2="163.40" y2="890.13" stroke="#ff7c7c" stroke-width="2.08" stroke-linecap="butt"/>
<line x1="160.40" y1="890.13" x2="166.40" y2="890.13" stroke="#ff7c7c" stroke-width="2.08" stroke-linecap="butt"/>
<path d="M158.10 930.80 L158.10 893.92 L168.70 893.92 L168.70 930.80" fill="none" stroke="#ff7c7c" stroke-width="2.6" stroke-linejoin="miter"/>
<rect x="157.70" y="885.54" width="4.20" height="4.20" fill="#ff7c7c"/>
<rect x="160.70" y="888.86" width="4.20" height="4.20" fill="#ff7c7c"/>
<rect x="163.70" y="892.18" width="4.20" height="4.20" fill="#ff7c7c"/>
<rect x="166.70" y="893.84" width="4.20" height="4.20" fill="#ff7c7c"/>
<line x1="156.80" y1="930.80" x2="156.80" y2="937.30" stroke="#000" stroke-width="1.8" stroke-linecap="butt"/>
<text x="160.40" y="944.80" font-size="8.3" font-weight="bold" font-style="normal" text-anchor="end" transform="rotate(-45 160.40 944.80)" stroke="#000" stroke-width="0.2"><tspan dy="0.00">-1351</tspan></text>
<line x1="64.80" y1="878.00" x2="80.20" y2="878.00" stroke="#000" stroke-width="2.2" stroke-linecap="butt"/>
<text x="72.50" y="873.60" font-size="8.2" font-weight="bold" font-style="italic" text-anchor="middle" fill="#000" stroke="#000" stroke-width="0.2">0.0640</text>
<line x1="106.00" y1="883.50" x2="121.50" y2="883.50" stroke="#000" stroke-width="2.2" stroke-linecap="butt"/>
<text x="113.75" y="878.90" font-size="8.2" font-weight="bold" font-style="italic" text-anchor="middle" fill="#000" stroke="#000" stroke-width="0.2">0.0037</text>
<line x1="150.50" y1="835.50" x2="165.00" y2="835.50" stroke="#000" stroke-width="2.2" stroke-linecap="butt"/>
<text x="157.75" y="830.90" font-size="8.2" font-weight="bold" font-style="italic" text-anchor="middle" fill="#000" stroke="#000" stroke-width="0.2">0.0001</text>
<text x="212.50" y="819.00" font-size="12" font-weight="bold" text-anchor="start" fill="#000" stroke="#000" stroke-width="0.2">j</text>
<text x="298.50" y="818.60" font-size="8.1" font-weight="bold" font-style="italic" text-anchor="middle" fill="#000" stroke="#000" stroke-width="0.2">Dusp4</text>
<line x1="230.70" y1="833.80" x2="230.70" y2="933.10" stroke="#000" stroke-width="1.8" stroke-linecap="butt"/>
<line x1="224.20" y1="933.10" x2="230.70" y2="933.10" stroke="#000" stroke-width="1.8" stroke-linecap="butt"/>
<text x="222.70" y="935.70" font-size="7.4" font-weight="bold" text-anchor="end" fill="#000" stroke="#000" stroke-width="0.2">0</text>
<line x1="224.20" y1="913.24" x2="230.70" y2="913.24" stroke="#000" stroke-width="1.8" stroke-linecap="butt"/>
<text x="222.70" y="915.84" font-size="7.4" font-weight="bold" text-anchor="end" fill="#000" stroke="#000" stroke-width="0.2">5</text>
<line x1="224.20" y1="893.38" x2="230.70" y2="893.38" stroke="#000" stroke-width="1.8" stroke-linecap="butt"/>
<text x="222.70" y="895.98" font-size="7.4" font-weight="bold" text-anchor="end" fill="#000" stroke="#000" stroke-width="0.2">10</text>
<line x1="224.20" y1="873.52" x2="230.70" y2="873.52" stroke="#000" stroke-width="1.8" stroke-linecap="butt"/>
<text x="222.70" y="876.12" font-size="7.4" font-weight="bold" text-anchor="end" fill="#000" stroke="#000" stroke-width="0.2">15</text>
<line x1="224.20" y1="853.66" x2="230.70" y2="853.66" stroke="#000" stroke-width="1.8" stroke-linecap="butt"/>
<text x="222.70" y="856.26" font-size="7.4" font-weight="bold" text-anchor="end" fill="#000" stroke="#000" stroke-width="0.2">20</text>
<line x1="224.20" y1="833.80" x2="230.70" y2="833.80" stroke="#000" stroke-width="1.8" stroke-linecap="butt"/>
<text x="222.70" y="836.40" font-size="7.4" font-weight="bold" text-anchor="end" fill="#000" stroke="#000" stroke-width="0.2">25</text>
<line x1="230.70" y1="933.10" x2="365.80" y2="933.10" stroke="#000" stroke-width="1.8" stroke-linecap="butt"/>
<text x="207.40" y="880.50" font-size="7.8" font-weight="bold" text-anchor="middle" fill="#000" transform="rotate(-90 207.40 880.50)" textLength="97.00" lengthAdjust="spacingAndGlyphs" stroke="#000" stroke-width="0.2">Relative Enrichment fold</text>
<line x1="263.05" y1="857.63" x2="263.05" y2="852.47" stroke="#5656f2" stroke-width="2.08" stroke-linecap="butt"/>
<line x1="259.55" y1="852.47" x2="266.55" y2="852.47" stroke="#5656f2" stroke-width="2.08" stroke-linecap="butt"/>
<path d="M254.40 933.10 L254.40 858.93 L271.70 858.93 L271.70 933.10" fill="none" stroke="#5656f2" stroke-width="2.6" stroke-linejoin="miter"/>
<circle cx="263.00" cy="850.48" r="2.20" fill="#5656f2"/>
<circle cx="263.50" cy="855.65" r="2.20" fill="#5656f2"/>
<circle cx="262.50" cy="862.40" r="2.20" fill="#5656f2"/>
<line x1="282.95" y1="882.26" x2="282.95" y2="875.51" stroke="#ff7c7c" stroke-width="2.08" stroke-linecap="butt"/>
<line x1="279.45" y1="875.51" x2="286.45" y2="875.51" stroke="#ff7c7c" stroke-width="2.08" stroke-linecap="butt"/>
<path d="M274.30 933.10 L274.30 883.56 L291.60 883.56 L291.60 933.10" fill="none" stroke="#ff7c7c" stroke-width="2.6" stroke-linejoin="miter"/>
<rect x="280.90" y="869.43" width="4.20" height="4.20" fill="#ff7c7c"/>
<rect x="282.40" y="881.35" width="4.20" height="4.20" fill="#ff7c7c"/>
<rect x="279.40" y="887.31" width="4.20" height="4.20" fill="#ff7c7c"/>
<line x1="273.00" y1="933.10" x2="273.00" y2="939.60" stroke="#000" stroke-width="1.8" stroke-linecap="butt"/>
<text x="276.60" y="947.10" font-size="8.3" font-weight="bold" font-style="normal" text-anchor="end" transform="rotate(-45 276.60 947.10)" stroke="#000" stroke-width="0.2"><tspan dy="0.00">NC</tspan></text>
<line x1="324.35" y1="904.50" x2="324.35" y2="902.91" stroke="#5656f2" stroke-width="2.08" stroke-linecap="butt"/>
<line x1="320.85" y1="902.91" x2="327.85" y2="902.91" stroke="#5656f2" stroke-width="2.08" stroke-linecap="butt"/>
<path d="M315.70 933.10 L315.70 905.80 L333.00 905.80 L333.00 933.10" fill="none" stroke="#5656f2" stroke-width="2.6" stroke-linejoin="miter"/>
<circle cx="324.30" cy="902.12" r="2.20" fill="#5656f2"/>
<circle cx="324.80" cy="904.50" r="2.20" fill="#5656f2"/>
<circle cx="323.80" cy="906.09" r="2.20" fill="#5656f2"/>
<line x1="344.25" y1="911.25" x2="344.25" y2="908.87" stroke="#ff7c7c" stroke-width="2.08" stroke-linecap="butt"/>
<line x1="340.75" y1="908.87" x2="347.75" y2="908.87" stroke="#ff7c7c" stroke-width="2.08" stroke-linecap="butt"/>
<path d="M335.60 933.10 L335.60 912.55 L352.90 912.55 L352.90 933.10" fill="none" stroke="#ff7c7c" stroke-width="2.6" stroke-linejoin="miter"/>
<rect x="342.20" y="906.37" width="4.20" height="4.20" fill="#ff7c7c"/>
<rect x="343.70" y="909.15" width="4.20" height="4.20" fill="#ff7c7c"/>
<rect x="340.70" y="911.93" width="4.20" height="4.20" fill="#ff7c7c"/>
<line x1="334.30" y1="933.10" x2="334.30" y2="939.60" stroke="#000" stroke-width="1.8" stroke-linecap="butt"/>
<text x="337.90" y="947.10" font-size="8.3" font-weight="bold" font-style="normal" text-anchor="end" transform="rotate(-45 337.90 947.10)" stroke="#000" stroke-width="0.2"><tspan dy="0.00">PAO1</tspan></text>
<line x1="263.60" y1="844.90" x2="284.10" y2="844.90" stroke="#000" stroke-width="2.2" stroke-linecap="butt"/>
<text x="273.85" y="840.20" font-size="8.2" font-weight="bold" font-style="italic" text-anchor="middle" fill="#000" stroke="#000" stroke-width="0.2">0.0267</text>
<line x1="324.00" y1="895.70" x2="344.50" y2="895.70" stroke="#000" stroke-width="2.2" stroke-linecap="butt"/>
<text x="334.25" y="891.20" font-size="8.2" font-weight="bold" font-style="italic" text-anchor="middle" fill="#000" stroke="#000" stroke-width="0.2">0.0279</text>
<text x="374.50" y="818.60" font-size="12" font-weight="bold" text-anchor="start" fill="#000" stroke="#000" stroke-width="0.2">k</text>
<text x="511.40" y="818.60" font-size="8.0" font-weight="bold" font-style="italic" text-anchor="middle" fill="#000" stroke="#000" stroke-width="0.2">Dusp4</text>
<line x1="429.30" y1="832.40" x2="429.30" y2="932.00" stroke="#000" stroke-width="1.8" stroke-linecap="butt"/>
<line x1="422.80" y1="912.80" x2="429.30" y2="912.80" stroke="#000" stroke-width="1.8" stroke-linecap="butt"/>
<text x="420.30" y="915.50" font-size="7.6" font-weight="normal" text-anchor="end" fill="#000" stroke="#000" stroke-width="0.3">6</text>
<line x1="422.80" y1="882.90" x2="429.30" y2="882.90" stroke="#000" stroke-width="1.8" stroke-linecap="butt"/>
<text x="420.30" y="885.60" font-size="7.6" font-weight="normal" text-anchor="end" fill="#000" stroke="#000" stroke-width="0.3">9</text>
<line x1="422.80" y1="853.00" x2="429.30" y2="853.00" stroke="#000" stroke-width="1.8" stroke-linecap="butt"/>
<text x="420.30" y="855.70" font-size="7.6" font-weight="normal" text-anchor="end" fill="#000" stroke="#000" stroke-width="0.3" textLength="8.7" lengthAdjust="spacingAndGlyphs">12</text>
<line x1="429.30" y1="932.00" x2="595.90" y2="932.00" stroke="#000" stroke-width="1.8" stroke-linecap="butt"/>
<text x="404.80" y="882.70" font-size="7.8" font-weight="bold" text-anchor="middle" fill="#000" transform="rotate(-90 404.80 882.70)" textLength="97.00" lengthAdjust="spacingAndGlyphs" stroke="#000" stroke-width="0.2">Relative Enrichment fold</text>
<line x1="444.85" y1="900.30" x2="444.85" y2="897.00" stroke="#5656f2" stroke-width="2.08" stroke-linecap="butt"/>
<line x1="441.85" y1="897.00" x2="447.85" y2="897.00" stroke="#5656f2" stroke-width="2.08" stroke-linecap="butt"/>
<path d="M438.70 932.00 L438.70 901.60 L451.00 901.60 L451.00 932.00" fill="none" stroke="#5656f2" stroke-width="2.6" stroke-linejoin="miter"/>
<circle cx="444.50" cy="893.50" r="2.10" fill="#5656f2"/>
<circle cx="443.00" cy="898.00" r="2.10" fill="#5656f2"/>
<circle cx="446.00" cy="902.00" r="2.10" fill="#5656f2"/>
<circle cx="444.50" cy="903.50" r="2.10" fill="#5656f2"/>
<line x1="468.45" y1="887.10" x2="468.45" y2="884.50" stroke="#5656f2" stroke-width="2.08" stroke-linecap="butt"/>
<line x1="465.45" y1="884.50" x2="471.45" y2="884.50" stroke="#5656f2" stroke-width="2.08" stroke-linecap="butt"/>
<path d="M462.30 932.00 L462.30 888.40 L474.60 888.40 L474.60 932.00" fill="none" stroke="#5656f2" stroke-width="2.6" stroke-linejoin="miter"/>
<circle cx="468.50" cy="881.00" r="2.10" fill="#5656f2"/>
<circle cx="467.50" cy="887.00" r="2.10" fill="#5656f2"/>
<circle cx="470.00" cy="891.00" r="2.10" fill="#5656f2"/>
<circle cx="468.00" cy="893.00" r="2.10" fill="#5656f2"/>
<line x1="491.85" y1="865.00" x2="491.85" y2="864.20" stroke="#5656f2" stroke-width="2.08" stroke-linecap="butt"/>
<line x1="488.85" y1="864.20" x2="494.85" y2="864.20" stroke="#5656f2" stroke-width="2.08" stroke-linecap="butt"/>
<path d="M485.70 932.00 L485.70 866.30 L498.00 866.30 L498.00 932.00" fill="none" stroke="#5656f2" stroke-width="2.6" stroke-linejoin="miter"/>
<circle cx="489.00" cy="862.50" r="2.10" fill="#5656f2"/>
<circle cx="492.50" cy="863.50" r="2.10" fill="#5656f2"/>
<circle cx="495.50" cy="864.00" r="2.10" fill="#5656f2"/>
<line x1="531.45" y1="918.00" x2="531.45" y2="915.80" stroke="#ff7c7c" stroke-width="2.08" stroke-linecap="butt"/>
<line x1="528.45" y1="915.80" x2="534.45" y2="915.80" stroke="#ff7c7c" stroke-width="2.08" stroke-linecap="butt"/>
<path d="M524.90 932.00 L524.90 919.30 L538.00 919.30 L538.00 932.00" fill="none" stroke="#ff7c7c" stroke-width="2.6" stroke-linejoin="miter"/>
<rect x="525.90" y="909.40" width="4.20" height="4.20" fill="#ff7c7c"/>
<rect x="530.90" y="912.40" width="4.20" height="4.20" fill="#ff7c7c"/>
<rect x="528.90" y="917.90" width="4.20" height="4.20" fill="#ff7c7c"/>
<rect x="529.40" y="922.90" width="4.20" height="4.20" fill="#ff7c7c"/>
<line x1="555.30" y1="889.60" x2="555.30" y2="888.50" stroke="#ff7c7c" stroke-width="2.08" stroke-linecap="butt"/>
<line x1="552.30" y1="888.50" x2="558.30" y2="888.50" stroke="#ff7c7c" stroke-width="2.08" stroke-linecap="butt"/>
<path d="M549.00 932.00 L549.00 890.90 L561.60 890.90 L561.60 932.00" fill="none" stroke="#ff7c7c" stroke-width="2.6" stroke-linejoin="miter"/>
<rect x="549.40" y="884.90" width="4.20" height="4.20" fill="#ff7c7c"/>
<rect x="553.90" y="885.90" width="4.20" height="4.20" fill="#ff7c7c"/>
<rect x="552.40" y="889.40" width="4.20" height="4.20" fill="#ff7c7c"/>
<rect x="555.40" y="887.40" width="4.20" height="4.20" fill="#ff7c7c"/>
<line x1="579.00" y1="885.50" x2="579.00" y2="883.50" stroke="#ff7c7c" stroke-width="2.08" stroke-linecap="butt"/>
<line x1="576.00" y1="883.50" x2="582.00" y2="883.50" stroke="#ff7c7c" stroke-width="2.08" stroke-linecap="butt"/>
<path d="M572.60 932.00 L572.60 886.80 L585.40 886.80 L585.40 932.00" fill="none" stroke="#ff7c7c" stroke-width="2.6" stroke-linejoin="miter"/>
<rect x="572.90" y="878.90" width="4.20" height="4.20" fill="#ff7c7c"/>
<rect x="577.90" y="879.90" width="4.20" height="4.20" fill="#ff7c7c"/>
<rect x="576.90" y="884.90" width="4.20" height="4.20" fill="#ff7c7c"/>
<rect x="576.90" y="888.90" width="4.20" height="4.20" fill="#ff7c7c"/>
<line x1="444.60" y1="831.80" x2="531.60" y2="831.80" stroke="#000" stroke-width="1.6" stroke-linecap="butt"/>
<text x="488.10" y="826.50" font-size="5.6" font-weight="bold" font-style="italic" text-anchor="middle" fill="#000" stroke="#000" stroke-width="0.2">0.0158</text>
<line x1="468.70" y1="844.60" x2="554.90" y2="844.60" stroke="#000" stroke-width="1.6" stroke-linecap="butt"/>
<text x="511.80" y="839.40" font-size="5.6" font-weight="bold" font-style="italic" text-anchor="middle" fill="#000" stroke="#000" stroke-width="0.2">&gt;0.9999</text>
<line x1="444.60" y1="858.40" x2="491.70" y2="858.40" stroke="#000" stroke-width="1.6" stroke-linecap="butt"/>
<text x="468.15" y="852.90" font-size="5.6" font-weight="bold" font-style="italic" text-anchor="middle" fill="#000" stroke="#000" stroke-width="0.2">&lt;0.0001</text>
<line x1="491.70" y1="857.20" x2="579.00" y2="857.20" stroke="#000" stroke-width="1.6" stroke-linecap="butt"/>
<text x="535.35" y="852.20" font-size="5.6" font-weight="bold" font-style="italic" text-anchor="middle" fill="#000" stroke="#000" stroke-width="0.2">0.0059</text>
<line x1="531.60" y1="869.80" x2="579.00" y2="869.80" stroke="#000" stroke-width="1.6" stroke-linecap="butt"/>
<text x="555.30" y="865.30" font-size="5.6" font-weight="bold" font-style="italic" text-anchor="middle" fill="#000" stroke="#000" stroke-width="0.2">&lt;0.0001</text>
<line x1="444.60" y1="876.60" x2="468.70" y2="876.60" stroke="#000" stroke-width="1.6" stroke-linecap="butt"/>
<text x="456.65" y="871.60" font-size="5.6" font-weight="bold" font-style="italic" text-anchor="middle" fill="#000" stroke="#000" stroke-width="0.2">0.1085</text>
<line x1="531.60" y1="883.10" x2="554.90" y2="883.10" stroke="#000" stroke-width="1.6" stroke-linecap="butt"/>
<text x="543.25" y="878.20" font-size="5.6" font-weight="bold" font-style="italic" text-anchor="middle" fill="#000" stroke="#000" stroke-width="0.2">0.0003</text>
<line x1="578.50" y1="828.40" x2="596.60" y2="828.40" stroke="#5656f2" stroke-width="2.6" stroke-linecap="butt"/>
<line x1="578.50" y1="842.60" x2="596.60" y2="842.60" stroke="#ff7c7c" stroke-width="2.6" stroke-linecap="butt"/>
<text x="601.9" y="831.8" font-size="8.6" font-weight="bold" font-style="italic" stroke="#000" stroke-width="0.2">Phgdh<tspan font-size="5.2" dy="-3.3">fl/fl</tspan></text>
<text x="601.9" y="846" font-size="8.6" font-weight="bold" font-style="italic" stroke="#000" stroke-width="0.2">Phgdh<tspan font-size="5.2" dy="-3.3">fl/fl</tspan><tspan dy="3.3"> Lyz2</tspan><tspan font-size="5.2" dy="-3.3">cre</tspan></text>
<text x="401.90" y="944.70" font-size="8" font-weight="bold" text-anchor="start" fill="#000" stroke="#000" stroke-width="0.2">L-serine</text>
<text x="401.90" y="957.80" font-size="8" font-weight="bold" text-anchor="start" fill="#000" stroke="#000" stroke-width="0.2">SAM</text>
<text x="446.10" y="944.70" font-size="8" font-weight="bold" text-anchor="middle" fill="#000" stroke="#000" stroke-width="0.2">-</text>
<text x="446.10" y="957.80" font-size="8" font-weight="bold" text-anchor="middle" fill="#000" stroke="#000" stroke-width="0.2">-</text>
<text x="470.90" y="944.70" font-size="8" font-weight="bold" text-anchor="middle" fill="#000" stroke="#000" stroke-width="0.2">+</text>
<text x="470.90" y="957.80" font-size="8" font-weight="bold" text-anchor="middle" fill="#000" stroke="#000" stroke-width="0.2">-</text>
<text x="496.00" y="944.70" font-size="8" font-weight="bold" text-anchor="middle" fill="#000" stroke="#000" stroke-width="0.2">-</text>
<text x="496.00" y="957.80" font-size="8" font-weight="bold" text-anchor="middle" fill="#000" stroke="#000" stroke-width="0.2">+</text>
<text x="533.20" y="944.70" font-size="8" font-weight="bold" text-anchor="middle" fill="#000" stroke="#000" stroke-width="0.2">-</text>
<text x="533.20" y="957.80" font-size="8" font-weight="bold" text-anchor="middle" fill="#000" stroke="#000" stroke-width="0.2">-</text>
<text x="557.30" y="944.70" font-size="8" font-weight="bold" text-anchor="middle" fill="#000" stroke="#000" stroke-width="0.2">+</text>
<text x="557.30" y="957.80" font-size="8" font-weight="bold" text-anchor="middle" fill="#000" stroke="#000" stroke-width="0.2">-</text>
<text x="585.00" y="944.70" font-size="8" font-weight="bold" text-anchor="middle" fill="#000" stroke="#000" stroke-width="0.2">-</text>
<text x="585.00" y="957.80" font-size="8" font-weight="bold" text-anchor="middle" fill="#000" stroke="#000" stroke-width="0.2">+</text>
</svg></body></html>
